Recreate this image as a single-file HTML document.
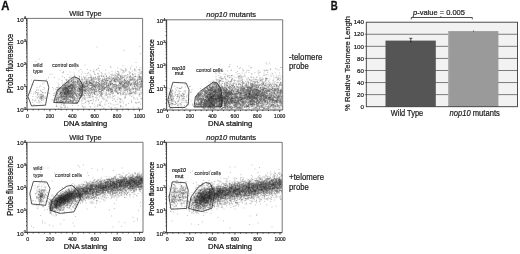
<!DOCTYPE html><html><head><meta charset="utf-8"><style>html,body{margin:0;padding:0;background:#fff;overflow:hidden}svg{display:block;will-change:transform}text{font-family:"Liberation Sans", sans-serif}</style></head><body>
<svg width="520" height="254" viewBox="0 0 520 254">
<defs><filter id="bl" x="-5%" y="-5%" width="110%" height="110%"><feConvolveMatrix order="3" kernelMatrix="0 1 0 1 16 1 0 1 0" divisor="20" edgeMode="none"/></filter></defs>
<rect width="520" height="254" fill="#fff"/>
<text x="1.2" y="9.6" font-size="12.2" textLength="8.2" lengthAdjust="spacingAndGlyphs" font-weight="bold" fill="#111" stroke="#111" stroke-width="0.3">A</text>
<text x="330.7" y="9.6" font-size="12.2" textLength="7.0" lengthAdjust="spacingAndGlyphs" font-weight="bold" fill="#111" stroke="#111" stroke-width="0.3">B</text>
<g filter="url(#bl)"><g transform="scale(.5)"><path d="M247 101h2m31 6h2m-149 22h2m5 0h2m-3 2h2m104 1h2m15 0h2m8 2h2m-40 2h2m14 1h2m31 0h2m-124 2h2m11 0h2m34 1h2m38 0h2m-1 0h2m-1 0h2m-9 1h2m-1 0h2m21 0h2m-114 1h2m91 0h2m-66 1h2m69 0h2m-95 1h2m21 0h2m47 0h2m44 0h2m-1 0h2m-159 1h2m48 0h2m99 0h2m-36 1h2m14 0h2m22 0h2m-111 1h2m88 0h2m14 0h2m-179 1h2m72 0h2m30 0h2m-1 0h2m17 0h2m5 0h2m-49 1h2m30 0h2m11 0h2m18 0h2m8 0h2m-1 0h2m-119 1h2m30 0h2m14 0h2m5 0h2m16 0h2m0 0h2m4 0h2m5 0h2m-1 0h2m4 0h2m19 0h2m-64 1h2m21 0h2m3 0h2m7 0h2m-1 1h2m1 0h2m0 0h2m-89 1h2m42 0h2m2 0h2m4 0h2m15 0h2m38 0h2m2 0h2m8 0h2m-137 1h2m8 0h2m22 0h2m6 0h2m2 0h2m22 0h2m20 0h2m1 0h2m9 0h2m4 0h2m16 0h2m0 0h2m-1 0h2m-187 1h2m10 0h2m29 0h2m8 0h2m25 0h2m0 0h2m6 0h2m1 0h2m-1 0h2m35 0h2m0 0h2m5 0h2m2 0h2m2 0h2m0 0h2m5 0h2m11 0h2m-120 1h2m1 0h2m15 0h2m13 0h2m23 0h2m5 0h2m2 0h2m14 0h2m5 0h2m9 0h2m6 0h2m5 0h2m5 0h2m1 0h2m-88 1h2m6 0h2m16 0h2m9 0h2m1 0h2m4 0h2m24 0h2m0 0h2m-151 1h2m23 0h2m0 0h2m0 0h2m6 0h2m1 0h2m14 0h2m2 0h2m5 0h2m0 0h2m7 0h2m-1 0h2m9 0h2m31 0h2m-1 0h2m38 0h2m0 0h2m-193 1h2m64 0h2m8 0h2m4 0h2m6 0h2m-1 0h2m27 0h2m9 0h2m3 0h2m2 0h2m4 0h2m19 0h2m2 0h2m-1 0h2m2 0h2m-1 0h2m3 0h2m-134 1h2m1 0h2m1 0h2m7 0h2m4 0h2m0 0h2m3 0h2m21 0h2m6 0h2m1 0h2m22 0h2m-1 0h2m0 0h2m10 0h2m3 0h2m-1 0h2m11 0h2m1 0h2m8 0h2m3 0h2m-140 1h2m10 0h2m16 0h2m5 0h2m23 0h2m-1 0h2m3 0h2m-1 0h2m1 0h2m6 0h2m3 0h2m-1 0h2m7 0h2m11 0h2m-113 1h2m10 0h2m20 0h2m3 0h2m25 0h2m3 0h2m9 0h2m5 0h2m-1 0h2m4 0h2m20 0h2m11 0h2m-1 0h2m1 0h2m-137 1h2m1 0h2m2 0h2m1 0h2m6 0h2m26 0h2m19 0h2m10 0h2m0 0h2m8 0h2m19 0h2m0 0h2m1 0h2m20 0h2m0 0h2m0 0h2m-148 1h2m11 0h2m3 0h2m23 0h2m4 0h2m1 0h2m-1 0h2m1 0h2m8 0h2m5 0h2m8 0h2m5 0h2m12 0h2m0 0h2m22 0h2m1 0h2m0 0h2m9 0h2m-151 1h2m10 0h2m5 0h2m3 0h2m13 0h2m4 0h2m0 0h2m27 0h2m26 0h2m0 0h2m7 0h2m-1 0h2m-1 0h2m0 0h2m10 0h2m-179 1h2m48 0h2m15 0h2m2 0h2m11 0h2m1 0h2m1 0h2m1 0h2m3 0h2m3 0h2m4 0h2m14 0h2m4 0h2m11 0h2m18 0h2m15 0h2m4 0h2m-133 1h2m0 0h2m7 0h2m4 0h2m7 0h2m1 0h2m6 0h2m0 0h2m23 0h2m4 0h2m1 0h2m-1 0h2m2 0h2m1 0h2m12 0h2m8 0h2m1 0h2m-1 0h2m-1 0h2m14 0h2m-143 1h2m3 0h2m19 0h2m14 0h2m17 0h2m5 0h2m0 0h2m31 0h2m7 0h2m1 0h2m11 0h2m5 0h2m9 0h2m7 0h2m-168 1h2m8 0h2m13 0h2m-1 0h2m12 0h2m0 0h2m4 0h2m-1 0h2m6 0h2m0 0h2m24 0h2m-1 0h2m-1 0h2m-1 0h2m3 0h2m3 0h2m-1 0h2m2 0h2m5 0h2m-1 0h2m0 0h2m8 0h2m0 0h2m1 0h2m1 0h2m12 0h2m-1 0h2m1 0h2m0 0h2m2 0h2m5 0h2m0 0h2m-1 0h2m-160 1h2m4 0h2m1 0h2m5 0h2m0 0h2m-1 0h2m-1 0h2m-1 0h2m16 0h2m19 0h2m0 0h2m-1 0h2m2 0h2m6 0h2m18 0h2m7 0h2m17 0h2m-1 0h2m2 0h2m14 0h2m1 0h2m2 0h2m-149 1h2m1 0h2m-1 0h2m-1 0h2m3 0h2m0 0h2m2 0h2m-1 0h2m2 0h2m7 0h2m4 0h2m1 0h2m5 0h2m4 0h2m0 0h2m-1 0h2m4 0h2m0 0h2m6 0h2m1 0h2m-1 0h2m7 0h2m2 0h2m6 0h2m8 0h2m12 0h2m10 0h2m12 0h2m6 0h2m-168 1h2m11 0h2m-1 0h2m5 0h2m0 0h2m-1 0h2m17 0h2m4 0h2m-1 0h2m0 0h2m-1 0h2m16 0h2m17 0h2m7 0h2m14 0h2m9 0h2m2 0h2m7 0h2m22 0h2m-1 0h2m-156 1h2m-1 0h2m2 0h2m2 0h2m-1 0h2m0 0h2m-1 0h2m-1 0h2m1 0h2m-1 0h2m-1 0h2m4 0h2m7 0h2m3 0h2m4 0h2m1 0h2m15 0h2m10 0h2m-1 0h2m11 0h2m9 0h2m24 0h2m2 0h2m13 0h2m4 0h2m-1 0h2m0 0h2m-156 1h2m-1 0h2m-1 0h2m-1 0h2m3 0h2m-1 0h2m-1 0h2m9 0h2m18 0h2m4 0h2m6 0h2m23 0h2m3 0h2m8 0h2m1 0h2m3 0h2m-1 0h2m0 0h2m13 0h2m-1 0h2m1 0h2m25 0h2m-195 1h2m15 0h2m8 0h2m2 0h2m3 0h2m4 0h2m2 0h2m0 0h2m2 0h2m0 0h2m3 0h2m0 0h2m2 0h2m1 0h2m-1 0h2m4 0h2m-1 0h2m7 0h2m15 0h2m-1 0h2m5 0h2m-1 0h2m3 0h2m1 0h2m0 0h2m0 0h2m15 0h2m16 0h2m2 0h2m1 0h2m-139 1h2m5 0h2m0 0h2m3 0h2m1 0h2m9 0h2m2 0h2m-1 0h2m6 0h2m8 0h2m3 0h2m21 0h2m-1 0h2m3 0h2m7 0h2m0 0h2m4 0h2m12 0h2m4 0h2m1 0h2m4 0h2m-1 0h2m6 0h2m6 0h2m2 0h2m6 0h2m2 0h2m-162 1h2m0 0h2m5 0h2m4 0h2m5 0h2m0 0h2m3 0h2m-1 0h2m3 0h2m2 0h2m-1 0h2m-1 0h2m2 0h2m11 0h2m7 0h2m14 0h2m-1 0h2m0 0h2m1 0h2m4 0h2m2 0h2m19 0h2m24 0h2m3 0h2m-184 1h2m20 0h2m15 0h2m3 0h2m0 0h2m1 0h2m0 0h2m6 0h2m-1 0h2m8 0h2m5 0h2m2 0h2m10 0h2m4 0h2m7 0h2m9 0h2m11 0h2m0 0h2m11 0h2m0 0h2m-1 0h2m2 0h2m4 0h2m0 0h2m21 0h2m-1 0h2m-203 1h2m10 0h2m27 0h2m1 0h2m5 0h2m-1 0h2m1 0h2m-1 0h2m-1 0h2m2 0h2m-1 0h2m-1 0h2m-1 0h2m4 0h2m5 0h2m3 0h2m1 0h2m3 0h2m-1 0h2m4 0h2m20 0h2m2 0h2m1 0h2m7 0h2m2 0h2m40 0h2m-1 0h2m7 0h2m8 0h2m7 0h2m-209 1h2m41 0h2m5 0h2m-1 0h2m-1 0h2m0 0h2m0 0h2m-1 0h2m7 0h2m3 0h2m5 0h2m0 0h2m9 0h2m6 0h2m-1 0h2m5 0h2m0 0h2m10 0h2m4 0h2m0 0h2m-1 0h2m8 0h2m-1 0h2m0 0h2m1 0h2m1 0h2m1 0h2m2 0h2m44 0h2m-200 1h2m33 0h2m8 0h2m-1 0h2m2 0h2m3 0h2m-1 0h2m-1 0h2m-1 0h2m-1 0h2m-1 0h2m1 0h2m16 0h2m6 0h2m-1 0h2m2 0h2m-1 0h2m7 0h2m1 0h2m2 0h2m10 0h2m10 0h2m23 0h2m41 0h2m-224 1h2m18 0h2m40 0h2m0 0h2m0 0h2m0 0h2m1 0h2m-1 0h2m4 0h2m0 0h2m-1 0h2m0 0h2m4 0h2m10 0h2m7 0h2m-1 0h2m3 0h2m1 0h2m0 0h2m5 0h2m21 0h2m11 0h2m2 0h2m2 0h2m-153 1h2m37 0h2m4 0h2m1 0h2m-1 0h2m0 0h2m-1 0h2m1 0h2m10 0h2m4 0h2m6 0h2m0 0h2m3 0h2m-1 0h2m3 0h2m9 0h2m-1 0h2m1 0h2m3 0h2m1 0h2m15 0h2m6 0h2m6 0h2m26 0h2m-192 1h2m47 0h2m-1 0h2m3 0h2m1 0h2m1 0h2m0 0h2m-1 0h2m2 0h2m-1 0h2m27 0h2m29 0h2m19 0h2m-1 0h2m-1 0h2m23 0h2m18 0h2m1 0h2m-151 1h2m0 0h2m3 0h2m-1 0h2m2 0h2m2 0h2m4 0h2m15 0h2m2 0h2m21 0h2m15 0h2m14 0h2m11 0h2m3 0h2m8 0h2m-189 1h2m11 0h2m-1 0h2m-1 0h2m18 0h2m16 0h2m3 0h2m1 0h2m3 0h2m0 0h2m0 0h2m-1 0h2m0 0h2m6 0h2m-1 0h2m1 0h2m11 0h2m1 0h2m25 0h2m1 0h2m56 0h2m12 0h2m9 0h2m-157 1h2m3 0h2m4 0h2m-1 0h2m2 0h2m-1 0h2m-1 0h2m0 0h2m6 0h2m-1 0h2m3 0h2m3 0h2m6 0h2m0 0h2m9 0h2m30 0h2m21 0h2m9 0h2m10 0h2m-1 0h2m0 0h2m-139 1h2m2 0h2m-1 0h2m-1 0h2m7 0h2m8 0h2m-1 0h2m1 0h2m0 0h2m6 0h2m11 0h2m17 0h2m8 0h2m10 0h2m5 0h2m17 0h2m0 0h2m23 0h2m7 0h2m-202 1h2m0 0h2m38 0h2m0 0h2m3 0h2m-1 0h2m0 0h2m-1 0h2m1 0h2m-1 0h2m5 0h2m17 0h2m24 0h2m11 0h2m-1 0h2m16 0h2m18 0h2m5 0h2m2 0h2m-134 1h2m1 0h2m11 0h2m0 0h2m-1 0h2m3 0h2m8 0h2m8 0h2m36 0h2m-1 0h2m7 0h2m65 0h2m-195 1h2m20 0h2m4 0h2m7 0h2m3 0h2m6 0h2m2 0h2m-1 0h2m2 0h2m-1 0h2m12 0h2m3 0h2m12 0h2m0 0h2m19 0h2m26 0h2m-118 1h2m6 0h2m0 0h2m6 0h2m-1 0h2m-1 0h2m-1 0h2m2 0h2m0 0h2m15 0h2m2 0h2m5 0h2m28 0h2m1 0h2m24 0h2m36 0h2m-185 1h2m-1 0h2m38 0h2m1 0h2m-1 0h2m2 0h2m0 0h2m6 0h2m0 0h2m2 0h2m-1 0h2m6 0h2m5 0h2m19 0h2m0 0h2m27 0h2m-128 1h2m2 0h2m19 0h2m3 0h2m2 0h2m-1 0h2m1 0h2m3 0h2m-1 0h2m2 0h2m-1 0h2m-1 0h2m5 0h2m9 0h2m24 0h2m33 0h2m-146 1h2m5 0h2m3 0h2m24 0h2m0 0h2m1 0h2m3 0h2m15 0h2m2 0h2m3 0h2m4 0h2m10 0h2m3 0h2m41 0h2m34 0h2m-167 1h2m21 0h2m25 0h2m3 0h2m2 0h2m-1 0h2m12 0h2m14 0h2m90 0h2m4 0h2m8 0h2m-207 1h2m31 0h2m1 0h2m0 0h2m9 0h2m-1 0h2m0 0h2m-1 0h2m-1 0h2m13 0h2m16 0h2m1 0h2m23 0h2m14 0h2m27 0h2m41 0h2m-170 1h2m12 0h2m7 0h2m7 0h2m1 0h2m0 0h2m0 0h2m15 0h2m-1 0h2m97 0h2m-160 1h2m13 0h2m4 0h2m0 0h2m50 0h2m8 0h2m42 0h2m32 0h2m-190 1h2m23 0h2m-1 0h2m10 0h2m5 0h2m15 0h2m91 0h2m19 0h2m-182 1h2m26 0h2m9 0h2m-1 0h2m17 0h2m0 0h2m1 0h2m33 0h2m-115 1h2m51 0h2m8 0h2m-1 0h2m5 0h2m0 0h2m0 0h2m-1 0h2m9 0h2m19 0h2m8 0h2m2 0h2m38 0h2m-120 1h2m-1 0h2m0 0h2m0 0h2m-1 0h2m4 0h2m1 0h2m1 0h2m0 0h2m0 0h2m-1 0h2m2 0h2m0 0h2m9 0h2m48 0h2m27 0h2m-155 1h2m1 0h2m39 0h2m0 0h2m3 0h2m9 0h2m8 0h2m88 0h2m35 0h2m-167 1h2m0 0h2m4 0h2m0 0h2m19 0h2m0 0h2m5 0h2m0 0h2m106 0h2m6 0h2m5 0h2m-162 1h2m25 0h2m32 0h2m66 0h2m-32 1h2m-30 1h2m90 0h2m-156 2h2m72 0h2m7 0h2m18 0h2m-159 1h2m70 0h2m55 0h2m-90 2h2m130 1h2m19 0h2m-147 1h2m11 0h2m33 1h2m36 0h2m13 0h2m9 0h2m-119 1h2" stroke="#111" stroke-opacity="0.25" stroke-width="2" fill="none"/><path d="M193 94h2m-118 24h2m192 7h2m-169 4h2m93 2h2m78 4h2m-86 1h2m-1 1h2m70 1h2m-1 0h2m-79 1h2m82 0h2m-91 1h2m79 0h2m8 0h2m-1 0h2m-83 2h2m-74 1h2m95 0h2m56 0h2m-144 1h2m104 0h2m1 0h2m-126 1h2m133 0h2m-44 1h2m18 0h2m-43 1h2m34 0h2m35 0h2m-109 1h2m60 0h2m9 0h2m21 0h2m23 0h2m-150 1h2m139 0h2m-97 1h2m87 0h2m6 0h2m-107 1h2m74 0h2m-94 1h2m42 0h2m9 0h2m18 0h2m7 0h2m6 0h2m27 0h2m-99 1h2m15 0h2m6 0h2m49 0h2m1 0h2m5 0h2m0 0h2m-1 0h2m-110 1h2m33 0h2m12 0h2m9 0h2m17 0h2m15 0h2m16 0h2m1 0h2m-153 1h2m8 0h2m10 0h2m28 0h2m0 0h2m74 0h2m-114 1h2m2 0h2m6 0h2m8 0h2m27 0h2m19 0h2m2 0h2m6 0h2m-1 0h2m14 0h2m2 0h2m29 0h2m-130 1h2m70 0h2m15 0h2m14 0h2m16 0h2m-135 1h2m3 0h2m7 0h2m25 0h2m1 0h2m-1 0h2m6 0h2m5 0h2m11 0h2m2 0h2m25 0h2m2 0h2m6 0h2m-111 1h2m9 0h2m7 0h2m8 0h2m23 0h2m16 0h2m4 0h2m3 0h2m40 0h2m-1 0h2m-1 0h2m2 0h2m-223 1h2m68 0h2m-1 0h2m73 0h2m35 0h2m2 0h2m12 0h2m17 0h2m-161 1h2m20 0h2m28 0h2m5 0h2m-1 0h2m0 0h2m9 0h2m4 0h2m9 0h2m-1 0h2m11 0h2m6 0h2m4 0h2m4 0h2m5 0h2m4 0h2m1 0h2m1 0h2m4 0h2m0 0h2m7 0h2m-148 1h2m1 0h2m0 0h2m12 0h2m-1 0h2m5 0h2m6 0h2m4 0h2m-1 0h2m1 0h2m2 0h2m25 0h2m0 0h2m5 0h2m5 0h2m2 0h2m6 0h2m4 0h2m1 0h2m1 0h2m19 0h2m6 0h2m-148 1h2m8 0h2m1 0h2m3 0h2m-1 0h2m4 0h2m5 0h2m1 0h2m0 0h2m0 0h2m15 0h2m4 0h2m28 0h2m1 0h2m15 0h2m7 0h2m12 0h2m5 0h2m3 0h2m-149 1h2m3 0h2m2 0h2m-1 0h2m1 0h2m-1 0h2m-1 0h2m5 0h2m2 0h2m8 0h2m2 0h2m18 0h2m11 0h2m1 0h2m8 0h2m13 0h2m-1 0h2m3 0h2m-1 0h2m-1 0h2m9 0h2m1 0h2m16 0h2m-143 1h2m0 0h2m4 0h2m10 0h2m4 0h2m1 0h2m0 0h2m5 0h2m7 0h2m1 0h2m3 0h2m1 0h2m11 0h2m3 0h2m0 0h2m3 0h2m-1 0h2m19 0h2m0 0h2m1 0h2m2 0h2m4 0h2m-1 0h2m7 0h2m0 0h2m4 0h2m1 0h2m-155 1h2m15 0h2m4 0h2m14 0h2m0 0h2m4 0h2m4 0h2m-1 0h2m-1 0h2m0 0h2m-1 0h2m8 0h2m3 0h2m12 0h2m29 0h2m6 0h2m5 0h2m18 0h2m-148 1h2m0 0h2m4 0h2m5 0h2m13 0h2m0 0h2m1 0h2m3 0h2m1 0h2m2 0h2m3 0h2m0 0h2m5 0h2m3 0h2m3 0h2m5 0h2m1 0h2m5 0h2m1 0h2m0 0h2m14 0h2m5 0h2m-1 0h2m1 0h2m8 0h2m-1 0h2m6 0h2m0 0h2m-142 1h2m2 0h2m1 0h2m1 0h2m6 0h2m1 0h2m4 0h2m10 0h2m-1 0h2m10 0h2m0 0h2m2 0h2m5 0h2m-1 0h2m8 0h2m2 0h2m7 0h2m1 0h2m14 0h2m13 0h2m22 0h2m-218 1h2m60 0h2m4 0h2m2 0h2m9 0h2m3 0h2m12 0h2m0 0h2m7 0h2m0 0h2m3 0h2m12 0h2m0 0h2m5 0h2m0 0h2m0 0h2m0 0h2m2 0h2m3 0h2m0 0h2m2 0h2m10 0h2m4 0h2m-1 0h2m5 0h2m3 0h2m0 0h2m9 0h2m9 0h2m-143 1h2m7 0h2m5 0h2m-1 0h2m6 0h2m-1 0h2m7 0h2m5 0h2m4 0h2m0 0h2m-1 0h2m8 0h2m23 0h2m2 0h2m-1 0h2m6 0h2m4 0h2m7 0h2m3 0h2m-1 0h2m11 0h2m1 0h2m2 0h2m-155 1h2m-1 0h2m-1 0h2m3 0h2m-1 0h2m4 0h2m0 0h2m2 0h2m0 0h2m0 0h2m4 0h2m3 0h2m1 0h2m1 0h2m3 0h2m0 0h2m1 0h2m5 0h2m19 0h2m6 0h2m-1 0h2m14 0h2m3 0h2m4 0h2m-1 0h2m3 0h2m5 0h2m14 0h2m-194 1h2m51 0h2m1 0h2m-1 0h2m0 0h2m6 0h2m6 0h2m-1 0h2m2 0h2m1 0h2m13 0h2m8 0h2m2 0h2m1 0h2m15 0h2m5 0h2m17 0h2m6 0h2m2 0h2m-1 0h2m10 0h2m-1 0h2m2 0h2m12 0h2m-151 1h2m-1 0h2m0 0h2m0 0h2m0 0h2m3 0h2m7 0h2m3 0h2m2 0h2m0 0h2m2 0h2m2 0h2m-1 0h2m10 0h2m0 0h2m-1 0h2m5 0h2m0 0h2m6 0h2m4 0h2m17 0h2m11 0h2m0 0h2m0 0h2m2 0h2m-1 0h2m13 0h2m-1 0h2m4 0h2m4 0h2m-205 1h2m57 0h2m6 0h2m5 0h2m5 0h2m-1 0h2m1 0h2m0 0h2m-1 0h2m-1 0h2m0 0h2m12 0h2m-1 0h2m0 0h2m-1 0h2m1 0h2m7 0h2m2 0h2m4 0h2m7 0h2m11 0h2m10 0h2m26 0h2m2 0h2m5 0h2m-211 1h2m51 0h2m1 0h2m-1 0h2m11 0h2m2 0h2m12 0h2m0 0h2m1 0h2m0 0h2m6 0h2m6 0h2m18 0h2m3 0h2m0 0h2m2 0h2m-1 0h2m18 0h2m2 0h2m-1 0h2m4 0h2m1 0h2m6 0h2m10 0h2m6 0h2m3 0h2m-164 1h2m2 0h2m-1 0h2m-1 0h2m-1 0h2m0 0h2m-1 0h2m-1 0h2m-1 0h2m0 0h2m2 0h2m0 0h2m0 0h2m-1 0h2m6 0h2m4 0h2m10 0h2m19 0h2m29 0h2m0 0h2m6 0h2m2 0h2m2 0h2m33 0h2m2 0h2m-160 1h2m2 0h2m3 0h2m0 0h2m1 0h2m0 0h2m-1 0h2m-1 0h2m0 0h2m0 0h2m2 0h2m5 0h2m1 0h2m-1 0h2m-1 0h2m0 0h2m-1 0h2m10 0h2m4 0h2m8 0h2m7 0h2m6 0h2m10 0h2m-1 0h2m9 0h2m5 0h2m0 0h2m13 0h2m9 0h2m-1 0h2m1 0h2m0 0h2m-158 1h2m0 0h2m1 0h2m1 0h2m-1 0h2m3 0h2m0 0h2m1 0h2m5 0h2m-1 0h2m-1 0h2m35 0h2m-1 0h2m2 0h2m3 0h2m5 0h2m5 0h2m1 0h2m1 0h2m0 0h2m6 0h2m40 0h2m13 0h2m-162 1h2m1 0h2m5 0h2m5 0h2m0 0h2m3 0h2m0 0h2m3 0h2m-1 0h2m5 0h2m-1 0h2m0 0h2m-1 0h2m4 0h2m2 0h2m0 0h2m8 0h2m3 0h2m1 0h2m5 0h2m2 0h2m0 0h2m9 0h2m-1 0h2m2 0h2m2 0h2m4 0h2m5 0h2m12 0h2m0 0h2m5 0h2m-148 1h2m13 0h2m3 0h2m-1 0h2m-1 0h2m21 0h2m-1 0h2m18 0h2m9 0h2m6 0h2m2 0h2m16 0h2m15 0h2m11 0h2m5 0h2m1 0h2m7 0h2m-157 1h2m5 0h2m2 0h2m2 0h2m1 0h2m-1 0h2m1 0h2m4 0h2m6 0h2m-1 0h2m0 0h2m4 0h2m6 0h2m-1 0h2m-1 0h2m5 0h2m9 0h2m14 0h2m13 0h2m0 0h2m7 0h2m15 0h2m2 0h2m0 0h2m2 0h2m14 0h2m4 0h2m-166 1h2m5 0h2m8 0h2m2 0h2m-1 0h2m1 0h2m1 0h2m2 0h2m9 0h2m-1 0h2m0 0h2m6 0h2m53 0h2m14 0h2m8 0h2m11 0h2m-137 1h2m-1 0h2m-1 0h2m0 0h2m-1 0h2m0 0h2m-1 0h2m-1 0h2m1 0h2m14 0h2m0 0h2m1 0h2m0 0h2m33 0h2m2 0h2m13 0h2m4 0h2m8 0h2m24 0h2m-192 1h2m39 0h2m10 0h2m2 0h2m7 0h2m-1 0h2m-1 0h2m0 0h2m-1 0h2m7 0h2m0 0h2m7 0h2m2 0h2m2 0h2m2 0h2m0 0h2m2 0h2m2 0h2m17 0h2m4 0h2m21 0h2m13 0h2m7 0h2m10 0h2m2 0h2m8 0h2m-198 1h2m-1 0h2m2 0h2m29 0h2m-1 0h2m-1 0h2m4 0h2m-1 0h2m3 0h2m-1 0h2m-1 0h2m0 0h2m1 0h2m-1 0h2m0 0h2m2 0h2m1 0h2m8 0h2m2 0h2m20 0h2m-1 0h2m9 0h2m34 0h2m26 0h2m-140 1h2m1 0h2m-1 0h2m-1 0h2m4 0h2m6 0h2m5 0h2m3 0h2m0 0h2m-1 0h2m3 0h2m12 0h2m0 0h2m-1 0h2m-1 0h2m4 0h2m12 0h2m17 0h2m1 0h2m56 0h2m-187 1h2m9 0h2m4 0h2m4 0h2m-1 0h2m2 0h2m1 0h2m2 0h2m0 0h2m0 0h2m1 0h2m1 0h2m-1 0h2m0 0h2m4 0h2m7 0h2m0 0h2m13 0h2m7 0h2m10 0h2m-1 0h2m2 0h2m12 0h2m4 0h2m1 0h2m7 0h2m3 0h2m20 0h2m-198 1h2m45 0h2m3 0h2m4 0h2m4 0h2m1 0h2m1 0h2m-1 0h2m0 0h2m6 0h2m0 0h2m-1 0h2m10 0h2m7 0h2m15 0h2m61 0h2m0 0h2m2 0h2m1 0h2m-188 1h2m36 0h2m6 0h2m0 0h2m2 0h2m4 0h2m-1 0h2m1 0h2m3 0h2m0 0h2m1 0h2m9 0h2m-1 0h2m6 0h2m22 0h2m3 0h2m14 0h2m5 0h2m37 0h2m20 0h2m-207 1h2m1 0h2m36 0h2m0 0h2m2 0h2m4 0h2m-1 0h2m-1 0h2m6 0h2m4 0h2m1 0h2m4 0h2m2 0h2m1 0h2m2 0h2m1 0h2m8 0h2m22 0h2m49 0h2m24 0h2m-173 1h2m3 0h2m12 0h2m4 0h2m-1 0h2m10 0h2m6 0h2m5 0h2m6 0h2m90 0h2m-180 1h2m3 0h2m28 0h2m4 0h2m0 0h2m-1 0h2m3 0h2m-1 0h2m3 0h2m4 0h2m8 0h2m0 0h2m36 0h2m-129 1h2m4 0h2m3 0h2m4 0h2m0 0h2m-1 0h2m24 0h2m4 0h2m0 0h2m2 0h2m-1 0h2m2 0h2m-1 0h2m-1 0h2m6 0h2m3 0h2m0 0h2m-1 0h2m5 0h2m5 0h2m41 0h2m57 0h2m15 0h2m-192 1h2m29 0h2m11 0h2m5 0h2m2 0h2m16 0h2m4 0h2m28 0h2m2 0h2m45 0h2m-170 1h2m28 0h2m2 0h2m0 0h2m2 0h2m-1 0h2m6 0h2m4 0h2m6 0h2m-1 0h2m0 0h2m2 0h2m4 0h2m0 0h2m0 0h2m15 0h2m-1 0h2m12 0h2m-114 1h2m-1 0h2m34 0h2m0 0h2m2 0h2m0 0h2m2 0h2m0 0h2m8 0h2m1 0h2m12 0h2m45 0h2m7 0h2m4 0h2m1 0h2m40 0h2m-185 1h2m43 0h2m14 0h2m3 0h2m2 0h2m1 0h2m70 0h2m-147 1h2m27 0h2m1 0h2m5 0h2m1 0h2m0 0h2m1 0h2m1 0h2m-1 0h2m0 0h2m9 0h2m56 0h2m-100 1h2m3 0h2m2 0h2m6 0h2m12 0h2m0 0h2m5 0h2m5 0h2m11 0h2m38 0h2m30 0h2m-159 1h2m29 0h2m14 0h2m8 0h2m-1 0h2m5 0h2m0 0h2m32 0h2m-39 1h2m4 0h2m0 0h2m7 0h2m59 0h2m-150 1h2m34 0h2m-1 0h2m4 0h2m-1 0h2m-1 0h2m1 0h2m5 0h2m8 0h2m9 0h2m20 0h2m-63 1h2m22 0h2m37 0h2m-1 0h2m83 0h2m-145 1h2m-1 0h2m-1 0h2m2 0h2m8 0h2m101 0h2m-167 1h2m39 0h2m2 0h2m0 0h2m0 0h2m12 0h2m7 0h2m3 0h2m-1 0h2m0 0h2m86 0h2m32 0h2m-200 1h2m47 0h2m56 0h2m85 0h2m-145 1h2m-1 0h2m52 0h2m71 0h2m-96 1h2m12 0h2m31 0h2m24 0h2m-170 1h2m53 0h2m74 0h2m51 0h2m-55 1h2m25 0h2m-115 1h2m13 0h2m70 0h2m39 0h2m9 0h2m-89 1h2m74 0h2m-130 1h2m55 0h2m8 0h2m61 0h2m-64 1h2m58 0h2m-121 1h2m106 0h2m45 1h2" stroke="#111" stroke-opacity="0.25" stroke-width="2" fill="none"/><path d="M278 93h2m-209 30h2m96 7h2m49 3h2m-1 2h2m-73 1h2m108 0h2m-21 2h2m17 0h2m-69 2h2m46 0h2m0 0h2m33 0h2m-161 1h2m59 0h2m82 1h2m5 0h2m-39 1h2m-1 0h2m-7 1h2m14 0h2m-46 1h2m-57 1h2m39 0h2m69 0h2m18 0h2m-112 1h2m23 0h2m7 0h2m32 1h2m44 0h2m-186 1h2m88 0h2m46 1h2m16 0h2m9 0h2m-41 1h2m22 0h2m7 0h2m-121 1h2m5 0h2m48 0h2m7 0h2m3 0h2m19 0h2m-1 0h2m-1 0h2m11 0h2m3 0h2m5 0h2m14 0h2m-154 1h2m40 0h2m27 0h2m8 0h2m12 0h2m12 0h2m5 0h2m-1 0h2m27 0h2m6 0h2m-1 0h2m-111 1h2m23 0h2m50 0h2m10 0h2m-94 1h2m11 0h2m34 0h2m15 0h2m9 0h2m16 0h2m0 0h2m12 0h2m-1 0h2m-109 1h2m12 0h2m26 0h2m8 0h2m0 0h2m5 0h2m0 0h2m0 0h2m25 0h2m9 0h2m4 0h2m-1 0h2m-139 1h2m16 0h2m4 0h2m11 0h2m11 0h2m14 0h2m-1 0h2m-1 0h2m9 0h2m17 0h2m35 0h2m-130 1h2m22 0h2m3 0h2m3 0h2m2 0h2m5 0h2m-1 0h2m4 0h2m2 0h2m-1 0h2m5 0h2m3 0h2m3 0h2m-1 0h2m-1 0h2m3 0h2m2 0h2m0 0h2m15 0h2m7 0h2m3 0h2m-141 1h2m13 0h2m10 0h2m4 0h2m25 0h2m38 0h2m1 0h2m4 0h2m6 0h2m9 0h2m-1 0h2m0 0h2m3 0h2m6 0h2m2 0h2m-146 1h2m18 0h2m39 0h2m0 0h2m8 0h2m0 0h2m-1 0h2m0 0h2m4 0h2m18 0h2m27 0h2m-127 1h2m10 0h2m24 0h2m31 0h2m1 0h2m4 0h2m29 0h2m2 0h2m0 0h2m21 0h2m-153 1h2m8 0h2m-1 0h2m1 0h2m6 0h2m4 0h2m13 0h2m10 0h2m10 0h2m1 0h2m18 0h2m1 0h2m6 0h2m-1 0h2m1 0h2m10 0h2m17 0h2m-116 1h2m4 0h2m5 0h2m2 0h2m-1 0h2m11 0h2m1 0h2m8 0h2m5 0h2m12 0h2m16 0h2m2 0h2m0 0h2m0 0h2m5 0h2m4 0h2m22 0h2m-1 0h2m-149 1h2m-1 0h2m10 0h2m10 0h2m15 0h2m1 0h2m20 0h2m-1 0h2m-1 0h2m4 0h2m7 0h2m7 0h2m0 0h2m19 0h2m0 0h2m-1 0h2m1 0h2m10 0h2m10 0h2m-155 1h2m3 0h2m8 0h2m0 0h2m6 0h2m6 0h2m4 0h2m11 0h2m9 0h2m1 0h2m4 0h2m5 0h2m60 0h2m11 0h2m-170 1h2m18 0h2m-1 0h2m0 0h2m3 0h2m3 0h2m3 0h2m1 0h2m4 0h2m8 0h2m5 0h2m14 0h2m41 0h2m-1 0h2m13 0h2m2 0h2m2 0h2m10 0h2m4 0h2m-1 0h2m-134 1h2m7 0h2m3 0h2m2 0h2m2 0h2m2 0h2m4 0h2m15 0h2m2 0h2m-1 0h2m0 0h2m-1 0h2m13 0h2m1 0h2m12 0h2m-1 0h2m-1 0h2m0 0h2m-1 0h2m3 0h2m5 0h2m0 0h2m7 0h2m0 0h2m4 0h2m4 0h2m0 0h2m-200 1h2m44 0h2m3 0h2m10 0h2m-1 0h2m6 0h2m1 0h2m20 0h2m-1 0h2m-1 0h2m4 0h2m9 0h2m17 0h2m34 0h2m2 0h2m-1 0h2m6 0h2m1 0h2m3 0h2m-144 1h2m3 0h2m-1 0h2m0 0h2m-1 0h2m0 0h2m0 0h2m2 0h2m2 0h2m4 0h2m1 0h2m-1 0h2m18 0h2m7 0h2m23 0h2m5 0h2m2 0h2m4 0h2m11 0h2m3 0h2m11 0h2m1 0h2m5 0h2m-139 1h2m-1 0h2m1 0h2m0 0h2m8 0h2m11 0h2m2 0h2m11 0h2m1 0h2m0 0h2m0 0h2m-1 0h2m-1 0h2m11 0h2m10 0h2m-1 0h2m6 0h2m5 0h2m-1 0h2m5 0h2m10 0h2m2 0h2m-135 1h2m8 0h2m1 0h2m4 0h2m13 0h2m-1 0h2m9 0h2m5 0h2m0 0h2m0 0h2m-1 0h2m9 0h2m0 0h2m1 0h2m10 0h2m1 0h2m1 0h2m6 0h2m3 0h2m0 0h2m3 0h2m12 0h2m1 0h2m14 0h2m-149 1h2m7 0h2m6 0h2m-1 0h2m3 0h2m-1 0h2m8 0h2m-1 0h2m1 0h2m4 0h2m2 0h2m14 0h2m5 0h2m2 0h2m2 0h2m0 0h2m6 0h2m8 0h2m0 0h2m17 0h2m0 0h2m-1 0h2m1 0h2m15 0h2m-132 1h2m5 0h2m0 0h2m0 0h2m2 0h2m4 0h2m6 0h2m1 0h2m0 0h2m11 0h2m0 0h2m-1 0h2m3 0h2m0 0h2m0 0h2m2 0h2m-1 0h2m1 0h2m5 0h2m15 0h2m5 0h2m2 0h2m1 0h2m0 0h2m7 0h2m11 0h2m6 0h2m-148 1h2m1 0h2m2 0h2m1 0h2m2 0h2m12 0h2m3 0h2m0 0h2m1 0h2m13 0h2m5 0h2m4 0h2m15 0h2m0 0h2m-1 0h2m0 0h2m6 0h2m2 0h2m3 0h2m20 0h2m25 0h2m-173 1h2m10 0h2m5 0h2m-1 0h2m0 0h2m-1 0h2m2 0h2m-1 0h2m1 0h2m0 0h2m-1 0h2m1 0h2m-1 0h2m5 0h2m1 0h2m-1 0h2m4 0h2m-1 0h2m6 0h2m3 0h2m0 0h2m4 0h2m2 0h2m9 0h2m4 0h2m25 0h2m-1 0h2m1 0h2m8 0h2m11 0h2m-150 1h2m1 0h2m0 0h2m3 0h2m0 0h2m-1 0h2m-1 0h2m0 0h2m0 0h2m0 0h2m5 0h2m1 0h2m11 0h2m8 0h2m3 0h2m0 0h2m0 0h2m3 0h2m13 0h2m1 0h2m0 0h2m0 0h2m12 0h2m1 0h2m0 0h2m1 0h2m8 0h2m-1 0h2m8 0h2m-1 0h2m4 0h2m22 0h2m-155 1h2m2 0h2m0 0h2m-1 0h2m-1 0h2m8 0h2m3 0h2m5 0h2m0 0h2m-1 0h2m10 0h2m6 0h2m0 0h2m12 0h2m11 0h2m8 0h2m8 0h2m1 0h2m0 0h2m7 0h2m8 0h2m4 0h2m3 0h2m13 0h2m-174 1h2m16 0h2m-1 0h2m0 0h2m-1 0h2m-1 0h2m-1 0h2m2 0h2m3 0h2m0 0h2m2 0h2m3 0h2m9 0h2m3 0h2m-1 0h2m4 0h2m3 0h2m0 0h2m2 0h2m3 0h2m7 0h2m6 0h2m7 0h2m-1 0h2m20 0h2m5 0h2m3 0h2m5 0h2m0 0h2m6 0h2m1 0h2m-1 0h2m-160 1h2m9 0h2m0 0h2m2 0h2m0 0h2m-1 0h2m8 0h2m-1 0h2m3 0h2m2 0h2m3 0h2m-1 0h2m-1 0h2m-1 0h2m-1 0h2m-1 0h2m3 0h2m1 0h2m-1 0h2m3 0h2m3 0h2m1 0h2m0 0h2m-1 0h2m9 0h2m20 0h2m-1 0h2m0 0h2m4 0h2m-1 0h2m5 0h2m1 0h2m23 0h2m-150 1h2m6 0h2m19 0h2m13 0h2m-1 0h2m14 0h2m6 0h2m26 0h2m0 0h2m30 0h2m3 0h2m3 0h2m11 0h2m1 0h2m-1 0h2m-206 1h2m46 0h2m2 0h2m0 0h2m2 0h2m-1 0h2m-1 0h2m2 0h2m2 0h2m-1 0h2m4 0h2m0 0h2m4 0h2m1 0h2m-1 0h2m0 0h2m2 0h2m-1 0h2m-1 0h2m-1 0h2m14 0h2m9 0h2m-1 0h2m4 0h2m0 0h2m6 0h2m-1 0h2m0 0h2m18 0h2m0 0h2m8 0h2m9 0h2m-147 1h2m1 0h2m1 0h2m3 0h2m3 0h2m2 0h2m-1 0h2m-1 0h2m-1 0h2m2 0h2m2 0h2m-1 0h2m-1 0h2m-1 0h2m7 0h2m3 0h2m1 0h2m0 0h2m25 0h2m11 0h2m15 0h2m-1 0h2m2 0h2m-1 0h2m0 0h2m9 0h2m17 0h2m7 0h2m-157 1h2m-1 0h2m-1 0h2m4 0h2m1 0h2m7 0h2m1 0h2m2 0h2m-1 0h2m1 0h2m5 0h2m2 0h2m-1 0h2m1 0h2m14 0h2m11 0h2m-1 0h2m-1 0h2m-1 0h2m4 0h2m0 0h2m19 0h2m30 0h2m15 0h2m-144 1h2m2 0h2m-1 0h2m3 0h2m0 0h2m3 0h2m-1 0h2m5 0h2m3 0h2m8 0h2m12 0h2m38 0h2m7 0h2m11 0h2m19 0h2m-196 1h2m40 0h2m3 0h2m-1 0h2m-1 0h2m-1 0h2m0 0h2m1 0h2m1 0h2m-1 0h2m1 0h2m0 0h2m9 0h2m0 0h2m12 0h2m12 0h2m3 0h2m0 0h2m2 0h2m5 0h2m4 0h2m8 0h2m13 0h2m12 0h2m17 0h2m7 0h2m-185 1h2m3 0h2m23 0h2m7 0h2m0 0h2m-1 0h2m4 0h2m-1 0h2m2 0h2m0 0h2m-1 0h2m1 0h2m-1 0h2m13 0h2m7 0h2m2 0h2m10 0h2m15 0h2m8 0h2m20 0h2m-1 0h2m3 0h2m3 0h2m8 0h2m2 0h2m0 0h2m-1 0h2m8 0h2m8 0h2m-214 1h2m35 0h2m4 0h2m4 0h2m0 0h2m4 0h2m-1 0h2m-1 0h2m-1 0h2m-1 0h2m-1 0h2m-1 0h2m2 0h2m0 0h2m0 0h2m-1 0h2m0 0h2m1 0h2m9 0h2m10 0h2m2 0h2m-1 0h2m11 0h2m13 0h2m4 0h2m25 0h2m22 0h2m6 0h2m0 0h2m-191 1h2m31 0h2m3 0h2m2 0h2m3 0h2m0 0h2m-1 0h2m1 0h2m-1 0h2m1 0h2m13 0h2m4 0h2m2 0h2m0 0h2m67 0h2m29 0h2m11 0h2m-197 1h2m27 0h2m4 0h2m8 0h2m1 0h2m1 0h2m4 0h2m1 0h2m1 0h2m3 0h2m3 0h2m0 0h2m20 0h2m2 0h2m5 0h2m11 0h2m9 0h2m28 0h2m-165 1h2m1 0h2m35 0h2m2 0h2m7 0h2m2 0h2m5 0h2m1 0h2m8 0h2m11 0h2m3 0h2m4 0h2m28 0h2m26 0h2m-158 1h2m33 0h2m4 0h2m3 0h2m1 0h2m4 0h2m1 0h2m-1 0h2m4 0h2m0 0h2m3 0h2m-1 0h2m0 0h2m0 0h2m0 0h2m2 0h2m3 0h2m2 0h2m15 0h2m15 0h2m-133 1h2m33 0h2m5 0h2m8 0h2m27 0h2m0 0h2m44 0h2m9 0h2m2 0h2m24 0h2m-173 1h2m39 0h2m4 0h2m0 0h2m6 0h2m-1 0h2m1 0h2m-1 0h2m10 0h2m7 0h2m15 0h2m45 0h2m-108 1h2m3 0h2m1 0h2m0 0h2m1 0h2m2 0h2m0 0h2m1 0h2m31 0h2m2 0h2m68 0h2m-172 1h2m2 0h2m33 0h2m5 0h2m2 0h2m1 0h2m0 0h2m4 0h2m0 0h2m5 0h2m39 0h2m43 0h2m-162 1h2m39 0h2m11 0h2m27 0h2m25 0h2m17 0h2m-125 1h2m-1 0h2m5 0h2m-1 0h2m29 0h2m0 0h2m3 0h2m4 0h2m18 0h2m2 0h2m81 0h2m5 0h2m-179 1h2m7 0h2m28 0h2m0 0h2m-1 0h2m1 0h2m4 0h2m2 0h2m-1 0h2m7 0h2m9 0h2m15 0h2m116 0h2m-199 1h2m16 0h2m12 0h2m1 0h2m5 0h2m-1 0h2m-1 0h2m3 0h2m12 0h2m77 0h2m5 0h2m-172 1h2m-1 0h2m49 0h2m14 0h2m-1 0h2m5 0h2m2 0h2m46 0h2m18 0h2m-144 1h2m5 0h2m26 0h2m10 0h2m13 0h2m3 0h2m1 0h2m7 0h2m-1 0h2m28 0h2m14 0h2m13 0h2m-105 1h2m5 0h2m-1 0h2m3 0h2m2 0h2m-1 0h2m1 0h2m5 0h2m24 0h2m7 0h2m41 0h2m29 0h2m-122 1h2m3 0h2m5 0h2m2 0h2m1 0h2m-1 0h2m-1 0h2m9 0h2m-51 1h2m13 0h2m-1 0h2m4 0h2m-1 0h2m6 0h2m4 0h2m64 0h2m-149 1h2m47 0h2m6 0h2m12 0h2m33 0h2m27 0h2m-76 1h2m-1 0h2m19 0h2m20 0h2m29 0h2m17 0h2m51 0h2m-109 1h2m-55 1h2m107 0h2m10 1h2m-107 1h2m64 0h2m-1 0h2m-41 1h2m-39 1h2m9 0h2m32 1h2m23 0h2m3 0h2m8 0h2m11 0h2m-96 1h2m5 0h2m-4 1h2m36 0h2m53 0h2m52 1h2m0 0h2m-73 1h2m45 0h2" stroke="#111" stroke-opacity="0.25" stroke-width="2" fill="none"/></g></g>
<g filter="url(#bl)"><g transform="scale(.5)"><path d="M531 126h2m0 2h2m-76 1h2m36 3h2m-41 1h2m-3 1h2m21 1h2m18 1h2m55 4h2m-98 1h2m34 0h2m31 0h2m3 0h2m-83 1h2m36 0h2m34 0h2m-100 2h2m83 0h2m-80 1h2m52 0h2m25 0h2m14 0h2m-97 2h2m36 0h2m-6 1h2m27 0h2m23 2h2m2 0h2m-71 1h2m-9 1h2m-1 0h2m20 0h2m59 0h2m-110 1h2m44 0h2m2 0h2m-16 1h2m7 0h2m-1 0h2m5 0h2m14 0h2m-63 1h2m71 0h2m5 0h2m32 0h2m-115 1h2m1 0h2m37 0h2m76 0h2m-112 1h2m12 0h2m65 0h2m0 0h2m-104 1h2m9 0h2m18 0h2m20 0h2m6 0h2m15 0h2m12 0h2m5 0h2m24 0h2m-125 1h2m2 0h2m12 0h2m66 0h2m33 0h2m-123 1h2m8 0h2m6 0h2m2 0h2m8 0h2m17 0h2m8 0h2m34 0h2m14 0h2m-115 1h2m4 0h2m-1 0h2m25 0h2m0 0h2m10 0h2m62 0h2m6 0h2m-116 1h2m20 0h2m-1 0h2m25 0h2m-53 1h2m2 0h2m13 0h2m1 0h2m22 0h2m9 0h2m4 0h2m11 0h2m33 0h2m-134 1h2m2 0h2m28 0h2m0 0h2m13 0h2m5 0h2m3 0h2m2 0h2m29 0h2m14 0h2m30 0h2m-140 1h2m2 0h2m62 0h2m1 0h2m17 0h2m0 0h2m34 0h2m1 0h2m2 0h2m-136 1h2m4 0h2m4 0h2m8 0h2m33 0h2m1 0h2m21 0h2m12 0h2m1 0h2m-105 1h2m-1 0h2m17 0h2m10 0h2m11 0h2m26 0h2m63 0h2m-135 1h2m3 0h2m13 0h2m16 0h2m16 0h2m31 0h2m7 0h2m2 0h2m4 0h2m3 0h2m1 0h2m-122 1h2m5 0h2m1 0h2m0 0h2m4 0h2m40 0h2m6 0h2m1 0h2m5 0h2m-1 0h2m5 0h2m3 0h2m8 0h2m7 0h2m2 0h2m1 0h2m15 0h2m-141 1h2m4 0h2m49 0h2m11 0h2m5 0h2m19 0h2m0 0h2m8 0h2m21 0h2m4 0h2m-1 0h2m0 0h2m-1 0h2m-1 0h2m-141 1h2m9 0h2m5 0h2m7 0h2m0 0h2m8 0h2m28 0h2m10 0h2m4 0h2m0 0h2m-1 0h2m6 0h2m30 0h2m-140 1h2m15 0h2m1 0h2m3 0h2m41 0h2m-1 0h2m1 0h2m2 0h2m1 0h2m2 0h2m3 0h2m17 0h2m3 0h2m1 0h2m0 0h2m2 0h2m13 0h2m-175 1h2m34 0h2m6 0h2m-1 0h2m1 0h2m1 0h2m0 0h2m3 0h2m20 0h2m3 0h2m7 0h2m0 0h2m14 0h2m3 0h2m6 0h2m5 0h2m3 0h2m22 0h2m2 0h2m1 0h2m6 0h2m-187 1h2m42 0h2m2 0h2m0 0h2m-1 0h2m5 0h2m-1 0h2m0 0h2m10 0h2m2 0h2m1 0h2m2 0h2m0 0h2m-1 0h2m7 0h2m0 0h2m16 0h2m7 0h2m0 0h2m10 0h2m1 0h2m-161 1h2m57 0h2m-1 0h2m-1 0h2m2 0h2m5 0h2m4 0h2m7 0h2m1 0h2m17 0h2m3 0h2m4 0h2m0 0h2m0 0h2m1 0h2m-1 0h2m-1 0h2m12 0h2m-1 0h2m14 0h2m1 0h2m2 0h2m1 0h2m11 0h2m4 0h2m-133 1h2m12 0h2m3 0h2m1 0h2m0 0h2m2 0h2m2 0h2m4 0h2m0 0h2m3 0h2m0 0h2m-1 0h2m0 0h2m0 0h2m29 0h2m-1 0h2m3 0h2m2 0h2m8 0h2m-1 0h2m27 0h2m3 0h2m0 0h2m-195 1h2m40 0h2m12 0h2m6 0h2m-1 0h2m5 0h2m5 0h2m5 0h2m23 0h2m6 0h2m7 0h2m-1 0h2m-1 0h2m9 0h2m-1 0h2m0 0h2m4 0h2m21 0h2m6 0h2m3 0h2m0 0h2m8 0h2m5 0h2m-215 1h2m56 0h2m4 0h2m-1 0h2m-1 0h2m2 0h2m3 0h2m1 0h2m-1 0h2m2 0h2m4 0h2m5 0h2m1 0h2m2 0h2m3 0h2m3 0h2m-1 0h2m1 0h2m1 0h2m0 0h2m1 0h2m7 0h2m-1 0h2m4 0h2m7 0h2m0 0h2m1 0h2m-1 0h2m0 0h2m3 0h2m2 0h2m8 0h2m6 0h2m-1 0h2m0 0h2m4 0h2m5 0h2m-146 1h2m-1 0h2m5 0h2m1 0h2m0 0h2m5 0h2m7 0h2m-1 0h2m-1 0h2m1 0h2m-1 0h2m-1 0h2m8 0h2m4 0h2m2 0h2m11 0h2m3 0h2m6 0h2m3 0h2m12 0h2m-1 0h2m0 0h2m0 0h2m-1 0h2m5 0h2m-1 0h2m-1 0h2m8 0h2m-1 0h2m6 0h2m4 0h2m-206 1h2m69 0h2m-1 0h2m3 0h2m0 0h2m4 0h2m1 0h2m1 0h2m-1 0h2m-1 0h2m-1 0h2m-1 0h2m4 0h2m0 0h2m-1 0h2m4 0h2m5 0h2m0 0h2m10 0h2m4 0h2m2 0h2m-1 0h2m1 0h2m1 0h2m1 0h2m0 0h2m-1 0h2m1 0h2m9 0h2m3 0h2m7 0h2m9 0h2m5 0h2m14 0h2m-159 1h2m5 0h2m-1 0h2m2 0h2m1 0h2m1 0h2m0 0h2m-1 0h2m5 0h2m2 0h2m-1 0h2m3 0h2m-1 0h2m4 0h2m2 0h2m0 0h2m9 0h2m1 0h2m4 0h2m4 0h2m9 0h2m5 0h2m3 0h2m3 0h2m5 0h2m1 0h2m4 0h2m5 0h2m2 0h2m2 0h2m5 0h2m-1 0h2m12 0h2m0 0h2m-160 1h2m7 0h2m1 0h2m3 0h2m6 0h2m3 0h2m0 0h2m-1 0h2m-1 0h2m-1 0h2m2 0h2m0 0h2m-1 0h2m2 0h2m-1 0h2m2 0h2m-1 0h2m8 0h2m3 0h2m0 0h2m17 0h2m-1 0h2m-1 0h2m3 0h2m2 0h2m-1 0h2m2 0h2m3 0h2m0 0h2m-1 0h2m-1 0h2m12 0h2m1 0h2m8 0h2m8 0h2m3 0h2m-159 1h2m6 0h2m6 0h2m4 0h2m-1 0h2m-1 0h2m4 0h2m2 0h2m1 0h2m7 0h2m1 0h2m3 0h2m1 0h2m4 0h2m6 0h2m5 0h2m5 0h2m3 0h2m4 0h2m-1 0h2m2 0h2m2 0h2m3 0h2m2 0h2m2 0h2m5 0h2m2 0h2m-1 0h2m1 0h2m4 0h2m11 0h2m6 0h2m-225 1h2m8 0h2m6 0h2m10 0h2m10 0h2m19 0h2m13 0h2m2 0h2m-1 0h2m2 0h2m-1 0h2m0 0h2m18 0h2m3 0h2m1 0h2m-1 0h2m0 0h2m9 0h2m5 0h2m3 0h2m0 0h2m2 0h2m8 0h2m4 0h2m-1 0h2m8 0h2m-1 0h2m2 0h2m1 0h2m1 0h2m-1 0h2m8 0h2m2 0h2m7 0h2m0 0h2m5 0h2m0 0h2m-185 1h2m28 0h2m-1 0h2m0 0h2m-1 0h2m2 0h2m-1 0h2m0 0h2m0 0h2m1 0h2m0 0h2m7 0h2m-1 0h2m10 0h2m2 0h2m-1 0h2m-1 0h2m0 0h2m2 0h2m32 0h2m-1 0h2m1 0h2m1 0h2m-1 0h2m-1 0h2m4 0h2m-1 0h2m0 0h2m-1 0h2m-1 0h2m0 0h2m0 0h2m1 0h2m1 0h2m3 0h2m1 0h2m9 0h2m1 0h2m-140 1h2m-1 0h2m-1 0h2m-1 0h2m0 0h2m11 0h2m-1 0h2m0 0h2m-1 0h2m-1 0h2m2 0h2m-1 0h2m-1 0h2m3 0h2m2 0h2m0 0h2m0 0h2m0 0h2m4 0h2m-1 0h2m0 0h2m1 0h2m5 0h2m14 0h2m4 0h2m0 0h2m-1 0h2m4 0h2m1 0h2m-1 0h2m2 0h2m1 0h2m0 0h2m5 0h2m1 0h2m4 0h2m5 0h2m6 0h2m2 0h2m2 0h2m-1 0h2m4 0h2m-207 1h2m34 0h2m1 0h2m4 0h2m2 0h2m2 0h2m6 0h2m-1 0h2m8 0h2m6 0h2m-1 0h2m0 0h2m-1 0h2m8 0h2m0 0h2m1 0h2m0 0h2m3 0h2m4 0h2m-1 0h2m-1 0h2m0 0h2m-1 0h2m3 0h2m1 0h2m3 0h2m6 0h2m-1 0h2m-1 0h2m9 0h2m-1 0h2m0 0h2m-1 0h2m4 0h2m0 0h2m-1 0h2m-1 0h2m2 0h2m8 0h2m6 0h2m2 0h2m-186 1h2m29 0h2m2 0h2m0 0h2m7 0h2m6 0h2m0 0h2m2 0h2m9 0h2m0 0h2m-1 0h2m5 0h2m-1 0h2m1 0h2m1 0h2m4 0h2m4 0h2m2 0h2m-1 0h2m0 0h2m6 0h2m0 0h2m6 0h2m-1 0h2m-1 0h2m4 0h2m-1 0h2m4 0h2m0 0h2m-1 0h2m1 0h2m0 0h2m3 0h2m12 0h2m14 0h2m3 0h2m-216 1h2m-1 0h2m1 0h2m6 0h2m1 0h2m40 0h2m0 0h2m-1 0h2m12 0h2m0 0h2m-1 0h2m-1 0h2m1 0h2m-1 0h2m-1 0h2m-1 0h2m-1 0h2m0 0h2m-1 0h2m-1 0h2m1 0h2m1 0h2m5 0h2m6 0h2m-1 0h2m0 0h2m3 0h2m-1 0h2m0 0h2m1 0h2m1 0h2m1 0h2m3 0h2m2 0h2m9 0h2m0 0h2m2 0h2m0 0h2m-1 0h2m3 0h2m-1 0h2m1 0h2m-1 0h2m1 0h2m-1 0h2m-1 0h2m2 0h2m1 0h2m-1 0h2m2 0h2m0 0h2m10 0h2m9 0h2m8 0h2m-219 1h2m21 0h2m27 0h2m17 0h2m4 0h2m2 0h2m-1 0h2m0 0h2m6 0h2m-1 0h2m-1 0h2m0 0h2m-1 0h2m0 0h2m-1 0h2m7 0h2m-1 0h2m-1 0h2m2 0h2m8 0h2m0 0h2m8 0h2m2 0h2m0 0h2m-1 0h2m0 0h2m5 0h2m9 0h2m-1 0h2m0 0h2m3 0h2m-1 0h2m0 0h2m-1 0h2m2 0h2m0 0h2m-1 0h2m-1 0h2m-1 0h2m12 0h2m2 0h2m4 0h2m6 0h2m0 0h2m-202 1h2m31 0h2m8 0h2m11 0h2m5 0h2m-1 0h2m3 0h2m0 0h2m1 0h2m-1 0h2m0 0h2m-1 0h2m-1 0h2m-1 0h2m-1 0h2m9 0h2m5 0h2m6 0h2m7 0h2m8 0h2m1 0h2m2 0h2m4 0h2m8 0h2m2 0h2m0 0h2m0 0h2m-1 0h2m2 0h2m-1 0h2m2 0h2m0 0h2m-1 0h2m1 0h2m8 0h2m9 0h2m0 0h2m-220 1h2m2 0h2m16 0h2m0 0h2m28 0h2m3 0h2m2 0h2m3 0h2m6 0h2m4 0h2m-1 0h2m1 0h2m1 0h2m3 0h2m-1 0h2m0 0h2m-1 0h2m0 0h2m3 0h2m-1 0h2m-1 0h2m0 0h2m0 0h2m-1 0h2m1 0h2m0 0h2m11 0h2m9 0h2m9 0h2m-1 0h2m4 0h2m1 0h2m1 0h2m-1 0h2m0 0h2m-1 0h2m0 0h2m-1 0h2m0 0h2m4 0h2m-1 0h2m0 0h2m-1 0h2m6 0h2m-1 0h2m-1 0h2m-1 0h2m1 0h2m3 0h2m0 0h2m12 0h2m-219 1h2m1 0h2m10 0h2m8 0h2m25 0h2m6 0h2m8 0h2m0 0h2m6 0h2m-1 0h2m0 0h2m-1 0h2m1 0h2m0 0h2m4 0h2m0 0h2m0 0h2m3 0h2m-1 0h2m-1 0h2m0 0h2m1 0h2m10 0h2m-1 0h2m1 0h2m1 0h2m-1 0h2m0 0h2m2 0h2m6 0h2m4 0h2m0 0h2m-1 0h2m0 0h2m1 0h2m0 0h2m-1 0h2m0 0h2m0 0h2m5 0h2m1 0h2m-1 0h2m2 0h2m1 0h2m0 0h2m7 0h2m8 0h2m-1 0h2m4 0h2m2 0h2m3 0h2m-169 1h2m-1 0h2m5 0h2m0 0h2m1 0h2m0 0h2m0 0h2m3 0h2m-1 0h2m-1 0h2m-1 0h2m-1 0h2m0 0h2m-1 0h2m1 0h2m2 0h2m-1 0h2m-1 0h2m-1 0h2m0 0h2m-1 0h2m0 0h2m-1 0h2m-1 0h2m10 0h2m4 0h2m1 0h2m-1 0h2m1 0h2m0 0h2m0 0h2m0 0h2m2 0h2m-1 0h2m0 0h2m8 0h2m1 0h2m1 0h2m0 0h2m0 0h2m1 0h2m0 0h2m-1 0h2m6 0h2m-1 0h2m4 0h2m3 0h2m0 0h2m-1 0h2m0 0h2m-1 0h2m11 0h2m-1 0h2m4 0h2m-1 0h2m4 0h2m1 0h2m-170 1h2m15 0h2m-1 0h2m0 0h2m-1 0h2m2 0h2m1 0h2m7 0h2m-1 0h2m1 0h2m0 0h2m0 0h2m-1 0h2m-1 0h2m-1 0h2m0 0h2m1 0h2m0 0h2m-1 0h2m2 0h2m-1 0h2m1 0h2m1 0h2m0 0h2m7 0h2m2 0h2m0 0h2m-1 0h2m0 0h2m0 0h2m8 0h2m-1 0h2m3 0h2m1 0h2m0 0h2m0 0h2m0 0h2m0 0h2m0 0h2m2 0h2m4 0h2m-1 0h2m1 0h2m2 0h2m-1 0h2m3 0h2m-1 0h2m-1 0h2m-1 0h2m1 0h2m11 0h2m0 0h2m-222 1h2m16 0h2m43 0h2m8 0h2m-1 0h2m1 0h2m4 0h2m-1 0h2m-1 0h2m-1 0h2m0 0h2m-1 0h2m4 0h2m-1 0h2m2 0h2m-1 0h2m0 0h2m0 0h2m-1 0h2m1 0h2m-1 0h2m1 0h2m0 0h2m2 0h2m0 0h2m2 0h2m-1 0h2m-1 0h2m1 0h2m9 0h2m1 0h2m1 0h2m-1 0h2m2 0h2m5 0h2m1 0h2m0 0h2m0 0h2m1 0h2m0 0h2m1 0h2m2 0h2m2 0h2m4 0h2m4 0h2m4 0h2m0 0h2m0 0h2m1 0h2m3 0h2m-1 0h2m2 0h2m0 0h2m4 0h2m-200 1h2m1 0h2m28 0h2m1 0h2m0 0h2m1 0h2m-1 0h2m7 0h2m0 0h2m-1 0h2m-1 0h2m-1 0h2m-1 0h2m3 0h2m-1 0h2m-1 0h2m-1 0h2m-1 0h2m1 0h2m-1 0h2m1 0h2m0 0h2m6 0h2m2 0h2m-1 0h2m4 0h2m2 0h2m1 0h2m-1 0h2m1 0h2m5 0h2m3 0h2m1 0h2m12 0h2m1 0h2m4 0h2m-1 0h2m0 0h2m0 0h2m-1 0h2m4 0h2m4 0h2m2 0h2m-1 0h2m0 0h2m11 0h2m5 0h2m0 0h2m-1 0h2m1 0h2m2 0h2m-202 1h2m30 0h2m4 0h2m4 0h2m7 0h2m-1 0h2m1 0h2m0 0h2m-1 0h2m-1 0h2m0 0h2m1 0h2m-1 0h2m-1 0h2m-1 0h2m0 0h2m-1 0h2m0 0h2m-1 0h2m0 0h2m2 0h2m-1 0h2m0 0h2m-1 0h2m1 0h2m9 0h2m1 0h2m4 0h2m6 0h2m4 0h2m1 0h2m6 0h2m1 0h2m0 0h2m-1 0h2m-1 0h2m-1 0h2m0 0h2m2 0h2m6 0h2m-1 0h2m1 0h2m2 0h2m-1 0h2m-1 0h2m-1 0h2m2 0h2m27 0h2m-221 1h2m46 0h2m0 0h2m0 0h2m1 0h2m7 0h2m2 0h2m3 0h2m0 0h2m1 0h2m2 0h2m-1 0h2m-1 0h2m-1 0h2m1 0h2m-1 0h2m0 0h2m5 0h2m3 0h2m-1 0h2m1 0h2m0 0h2m-1 0h2m0 0h2m3 0h2m-1 0h2m1 0h2m14 0h2m1 0h2m0 0h2m1 0h2m7 0h2m5 0h2m10 0h2m10 0h2m-1 0h2m10 0h2m-1 0h2m-1 0h2m-1 0h2m-1 0h2m14 0h2m-217 1h2m20 0h2m1 0h2m21 0h2m7 0h2m6 0h2m2 0h2m-1 0h2m-1 0h2m-1 0h2m1 0h2m0 0h2m-1 0h2m-1 0h2m1 0h2m-1 0h2m-1 0h2m-1 0h2m1 0h2m0 0h2m1 0h2m-1 0h2m-1 0h2m-1 0h2m0 0h2m-1 0h2m1 0h2m5 0h2m0 0h2m10 0h2m5 0h2m1 0h2m-1 0h2m4 0h2m6 0h2m0 0h2m6 0h2m3 0h2m1 0h2m1 0h2m1 0h2m1 0h2m-1 0h2m2 0h2m-1 0h2m1 0h2m3 0h2m2 0h2m3 0h2m-1 0h2m-1 0h2m-1 0h2m6 0h2m5 0h2m-225 1h2m25 0h2m5 0h2m17 0h2m0 0h2m0 0h2m-1 0h2m10 0h2m6 0h2m-1 0h2m-1 0h2m-1 0h2m-1 0h2m0 0h2m0 0h2m-1 0h2m4 0h2m-1 0h2m7 0h2m0 0h2m-1 0h2m7 0h2m-1 0h2m-1 0h2m3 0h2m-1 0h2m-1 0h2m-1 0h2m5 0h2m1 0h2m1 0h2m1 0h2m2 0h2m2 0h2m1 0h2m6 0h2m2 0h2m1 0h2m-1 0h2m6 0h2m-1 0h2m3 0h2m-1 0h2m2 0h2m19 0h2m3 0h2m-1 0h2m-210 1h2m17 0h2m16 0h2m13 0h2m2 0h2m0 0h2m7 0h2m0 0h2m1 0h2m-1 0h2m0 0h2m0 0h2m3 0h2m5 0h2m2 0h2m1 0h2m0 0h2m-1 0h2m0 0h2m4 0h2m8 0h2m-1 0h2m0 0h2m-1 0h2m-1 0h2m1 0h2m4 0h2m3 0h2m1 0h2m14 0h2m4 0h2m0 0h2m-1 0h2m8 0h2m8 0h2m-1 0h2m1 0h2m0 0h2m3 0h2m5 0h2m1 0h2m1 0h2m-1 0h2m-1 0h2m7 0h2m-215 1h2m3 0h2m-1 0h2m44 0h2m4 0h2m0 0h2m3 0h2m0 0h2m1 0h2m1 0h2m-1 0h2m5 0h2m-1 0h2m1 0h2m-1 0h2m4 0h2m1 0h2m1 0h2m-1 0h2m0 0h2m0 0h2m-1 0h2m2 0h2m-1 0h2m0 0h2m1 0h2m0 0h2m7 0h2m4 0h2m0 0h2m0 0h2m8 0h2m0 0h2m0 0h2m-1 0h2m0 0h2m0 0h2m0 0h2m-1 0h2m-1 0h2m2 0h2m3 0h2m0 0h2m2 0h2m2 0h2m14 0h2m7 0h2m5 0h2m-161 1h2m-1 0h2m-1 0h2m-1 0h2m2 0h2m-1 0h2m1 0h2m0 0h2m-1 0h2m0 0h2m-1 0h2m1 0h2m1 0h2m2 0h2m-1 0h2m-1 0h2m1 0h2m0 0h2m2 0h2m0 0h2m0 0h2m-1 0h2m-1 0h2m1 0h2m4 0h2m5 0h2m-1 0h2m6 0h2m2 0h2m-1 0h2m0 0h2m-1 0h2m1 0h2m2 0h2m0 0h2m1 0h2m0 0h2m0 0h2m4 0h2m4 0h2m0 0h2m-1 0h2m9 0h2m0 0h2m7 0h2m7 0h2m8 0h2m7 0h2m0 0h2m-212 1h2m15 0h2m27 0h2m3 0h2m-1 0h2m4 0h2m4 0h2m4 0h2m-1 0h2m5 0h2m-1 0h2m3 0h2m0 0h2m3 0h2m2 0h2m8 0h2m-1 0h2m3 0h2m-1 0h2m3 0h2m-1 0h2m14 0h2m6 0h2m0 0h2m12 0h2m0 0h2m0 0h2m7 0h2m0 0h2m2 0h2m16 0h2m0 0h2m3 0h2m1 0h2m0 0h2m-1 0h2m1 0h2m-221 1h2m30 0h2m16 0h2m12 0h2m-1 0h2m0 0h2m-1 0h2m2 0h2m2 0h2m-1 0h2m-1 0h2m0 0h2m1 0h2m0 0h2m0 0h2m0 0h2m5 0h2m1 0h2m1 0h2m4 0h2m0 0h2m-1 0h2m0 0h2m0 0h2m14 0h2m-1 0h2m1 0h2m6 0h2m0 0h2m5 0h2m8 0h2m7 0h2m1 0h2m2 0h2m2 0h2m1 0h2m3 0h2m2 0h2m6 0h2m4 0h2m-159 1h2m5 0h2m11 0h2m0 0h2m1 0h2m1 0h2m0 0h2m0 0h2m1 0h2m1 0h2m1 0h2m2 0h2m-1 0h2m0 0h2m-1 0h2m3 0h2m-1 0h2m-1 0h2m0 0h2m5 0h2m4 0h2m5 0h2m-1 0h2m-1 0h2m2 0h2m0 0h2m3 0h2m2 0h2m0 0h2m2 0h2m3 0h2m1 0h2m0 0h2m-1 0h2m12 0h2m1 0h2m37 0h2m0 0h2m-205 1h2m22 0h2m4 0h2m3 0h2m0 0h2m8 0h2m0 0h2m-1 0h2m0 0h2m1 0h2m-1 0h2m4 0h2m2 0h2m1 0h2m1 0h2m6 0h2m0 0h2m7 0h2m1 0h2m1 0h2m-1 0h2m0 0h2m6 0h2m-1 0h2m7 0h2m1 0h2m-1 0h2m2 0h2m-1 0h2m7 0h2m2 0h2m4 0h2m-1 0h2m15 0h2m11 0h2m-201 1h2m51 0h2m0 0h2m0 0h2m7 0h2m0 0h2m0 0h2m-1 0h2m7 0h2m-1 0h2m0 0h2m2 0h2m-1 0h2m-1 0h2m3 0h2m3 0h2m-1 0h2m2 0h2m25 0h2m-1 0h2m3 0h2m4 0h2m8 0h2m4 0h2m0 0h2m2 0h2m-1 0h2m-1 0h2m22 0h2m0 0h2m-1 0h2m5 0h2m1 0h2m-1 0h2m1 0h2m-211 1h2m45 0h2m6 0h2m2 0h2m-1 0h2m6 0h2m6 0h2m-1 0h2m0 0h2m-1 0h2m0 0h2m0 0h2m1 0h2m1 0h2m0 0h2m4 0h2m4 0h2m6 0h2m1 0h2m1 0h2m1 0h2m6 0h2m-1 0h2m1 0h2m5 0h2m1 0h2m-1 0h2m1 0h2m0 0h2m19 0h2m3 0h2m0 0h2m5 0h2m9 0h2m4 0h2m3 0h2m12 0h2m-169 1h2m13 0h2m0 0h2m-1 0h2m-1 0h2m0 0h2m2 0h2m1 0h2m-1 0h2m2 0h2m-1 0h2m0 0h2m6 0h2m3 0h2m2 0h2m3 0h2m-1 0h2m1 0h2m5 0h2m7 0h2m-1 0h2m1 0h2m-1 0h2m7 0h2m7 0h2m1 0h2m11 0h2m4 0h2m2 0h2m6 0h2m16 0h2m0 0h2m-1 0h2m7 0h2m-157 1h2m1 0h2m3 0h2m10 0h2m4 0h2m2 0h2m0 0h2m2 0h2m4 0h2m9 0h2m-1 0h2m1 0h2m7 0h2m7 0h2m3 0h2m-1 0h2m0 0h2m3 0h2m3 0h2m8 0h2m10 0h2m5 0h2m6 0h2m11 0h2m5 0h2m5 0h2m-190 1h2m19 0h2m2 0h2m2 0h2m2 0h2m4 0h2m1 0h2m0 0h2m2 0h2m-1 0h2m-1 0h2m-1 0h2m2 0h2m9 0h2m3 0h2m-1 0h2m-1 0h2m3 0h2m0 0h2m2 0h2m-1 0h2m3 0h2m0 0h2m6 0h2m2 0h2m20 0h2m5 0h2m0 0h2m8 0h2m2 0h2m20 0h2m8 0h2m-1 0h2m10 0h2m-167 1h2m2 0h2m1 0h2m3 0h2m3 0h2m0 0h2m-1 0h2m-1 0h2m2 0h2m19 0h2m2 0h2m7 0h2m1 0h2m15 0h2m2 0h2m5 0h2m3 0h2m17 0h2m2 0h2m1 0h2m0 0h2m5 0h2m0 0h2m2 0h2m0 0h2m0 0h2m-174 1h2m61 0h2m1 0h2m3 0h2m7 0h2m0 0h2m-1 0h2m-1 0h2m-1 0h2m2 0h2m3 0h2m3 0h2m6 0h2m-1 0h2m-1 0h2m0 0h2m2 0h2m14 0h2m12 0h2m6 0h2m5 0h2m7 0h2m21 0h2m-204 1h2m50 0h2m11 0h2m25 0h2m0 0h2m1 0h2m9 0h2m5 0h2m1 0h2m-1 0h2m33 0h2m1 0h2m14 0h2m16 0h2m0 0h2m6 0h2m4 0h2m-158 1h2m33 0h2m0 0h2m9 0h2m5 0h2m1 0h2m11 0h2m-1 0h2m1 0h2m19 0h2m9 0h2m2 0h2m7 0h2m4 0h2m2 0h2m9 0h2m-177 1h2m41 0h2m-1 0h2m2 0h2m0 0h2m14 0h2m0 0h2m10 0h2m7 0h2m-1 0h2m19 0h2m7 0h2m3 0h2m6 0h2m43 0h2" stroke="#111" stroke-opacity="0.25" stroke-width="2" fill="none"/><path d="M439 130h2m119 5h2m0 0h2m-121 2h2m95 1h2m11 1h2m-93 1h2m69 1h2m-61 2h2m-39 1h2m32 1h2m36 0h2m16 1h2m21 0h2m-121 1h2m17 1h2m51 0h2m30 1h2m-86 1h2m28 0h2m-20 1h2m24 0h2m26 0h2m8 0h2m-75 1h2m19 0h2m4 0h2m63 0h2m8 0h2m-117 1h2m6 0h2m38 0h2m11 1h2m19 0h2m-67 1h2m11 0h2m8 0h2m20 0h2m1 0h2m23 0h2m17 0h2m-57 1h2m50 0h2m4 0h2m2 0h2m-117 1h2m1 0h2m32 0h2m50 0h2m0 0h2m22 0h2m-95 1h2m40 0h2m16 0h2m0 0h2m4 0h2m-1 0h2m-37 1h2m10 0h2m0 0h2m9 0h2m-57 1h2m13 0h2m12 0h2m0 0h2m0 0h2m0 0h2m12 0h2m13 0h2m-94 1h2m59 0h2m20 0h2m33 0h2m-135 1h2m44 0h2m2 0h2m26 0h2m14 0h2m-1 0h2m-84 1h2m6 0h2m8 0h2m48 0h2m4 0h2m-81 1h2m3 0h2m35 0h2m28 0h2m2 0h2m16 0h2m-30 1h2m38 0h2m20 0h2m-138 1h2m-1 0h2m-1 0h2m-1 0h2m6 0h2m15 0h2m11 0h2m18 0h2m16 0h2m2 0h2m14 0h2m-1 0h2m6 0h2m12 0h2m-121 1h2m0 0h2m0 0h2m4 0h2m8 0h2m10 0h2m10 0h2m11 0h2m13 0h2m-1 0h2m-1 0h2m0 0h2m-30 1h2m14 0h2m6 0h2m5 0h2m-1 0h2m4 0h2m8 0h2m0 0h2m12 0h2m3 0h2m-178 1h2m55 0h2m2 0h2m17 0h2m1 0h2m4 0h2m1 0h2m0 0h2m11 0h2m2 0h2m-1 0h2m21 0h2m0 0h2m18 0h2m31 0h2m-141 1h2m6 0h2m2 0h2m-1 0h2m4 0h2m8 0h2m2 0h2m-1 0h2m9 0h2m4 0h2m18 0h2m12 0h2m4 0h2m36 0h2m1 0h2m-1 0h2m3 0h2m-139 1h2m8 0h2m4 0h2m52 0h2m8 0h2m13 0h2m0 0h2m10 0h2m10 0h2m4 0h2m8 0h2m2 0h2m-146 1h2m11 0h2m19 0h2m10 0h2m14 0h2m1 0h2m-1 0h2m8 0h2m6 0h2m9 0h2m9 0h2m3 0h2m6 0h2m3 0h2m-196 1h2m29 0h2m51 0h2m2 0h2m5 0h2m-1 0h2m7 0h2m18 0h2m5 0h2m2 0h2m12 0h2m2 0h2m1 0h2m2 0h2m0 0h2m13 0h2m7 0h2m0 0h2m9 0h2m1 0h2m3 0h2m-195 1h2m48 0h2m10 0h2m5 0h2m0 0h2m1 0h2m-1 0h2m8 0h2m-1 0h2m6 0h2m-1 0h2m0 0h2m-1 0h2m4 0h2m-1 0h2m8 0h2m9 0h2m9 0h2m7 0h2m4 0h2m-1 0h2m35 0h2m3 0h2m3 0h2m-143 1h2m0 0h2m0 0h2m0 0h2m1 0h2m15 0h2m6 0h2m27 0h2m5 0h2m1 0h2m1 0h2m-1 0h2m-1 0h2m0 0h2m-1 0h2m4 0h2m9 0h2m41 0h2m-230 1h2m18 0h2m63 0h2m14 0h2m6 0h2m-1 0h2m-1 0h2m2 0h2m1 0h2m27 0h2m5 0h2m3 0h2m-1 0h2m7 0h2m4 0h2m0 0h2m7 0h2m2 0h2m0 0h2m1 0h2m12 0h2m-208 1h2m68 0h2m2 0h2m-1 0h2m2 0h2m0 0h2m-1 0h2m0 0h2m9 0h2m2 0h2m0 0h2m0 0h2m9 0h2m17 0h2m6 0h2m-1 0h2m3 0h2m0 0h2m9 0h2m9 0h2m-1 0h2m8 0h2m6 0h2m-1 0h2m1 0h2m15 0h2m-132 1h2m0 0h2m-1 0h2m1 0h2m-1 0h2m1 0h2m6 0h2m12 0h2m14 0h2m17 0h2m7 0h2m11 0h2m3 0h2m10 0h2m3 0h2m5 0h2m12 0h2m0 0h2m-172 1h2m24 0h2m-1 0h2m3 0h2m7 0h2m-1 0h2m1 0h2m4 0h2m0 0h2m2 0h2m-1 0h2m5 0h2m4 0h2m13 0h2m2 0h2m-1 0h2m0 0h2m1 0h2m3 0h2m2 0h2m3 0h2m0 0h2m4 0h2m3 0h2m5 0h2m10 0h2m14 0h2m-1 0h2m3 0h2m2 0h2m1 0h2m4 0h2m-145 1h2m-1 0h2m0 0h2m-1 0h2m4 0h2m-1 0h2m-1 0h2m-1 0h2m3 0h2m9 0h2m2 0h2m1 0h2m6 0h2m6 0h2m4 0h2m5 0h2m3 0h2m1 0h2m-1 0h2m8 0h2m7 0h2m0 0h2m-1 0h2m0 0h2m9 0h2m9 0h2m3 0h2m3 0h2m0 0h2m4 0h2m-1 0h2m-217 1h2m0 0h2m24 0h2m36 0h2m0 0h2m0 0h2m2 0h2m1 0h2m1 0h2m0 0h2m-1 0h2m-1 0h2m2 0h2m2 0h2m2 0h2m1 0h2m0 0h2m2 0h2m2 0h2m5 0h2m-1 0h2m2 0h2m12 0h2m3 0h2m1 0h2m-1 0h2m-1 0h2m8 0h2m2 0h2m0 0h2m4 0h2m0 0h2m2 0h2m0 0h2m1 0h2m2 0h2m2 0h2m1 0h2m3 0h2m1 0h2m5 0h2m1 0h2m2 0h2m1 0h2m-1 0h2m1 0h2m2 0h2m-208 1h2m10 0h2m33 0h2m1 0h2m1 0h2m3 0h2m-1 0h2m7 0h2m1 0h2m0 0h2m2 0h2m13 0h2m-1 0h2m0 0h2m-1 0h2m11 0h2m6 0h2m-1 0h2m0 0h2m9 0h2m0 0h2m0 0h2m1 0h2m2 0h2m5 0h2m2 0h2m0 0h2m2 0h2m3 0h2m1 0h2m1 0h2m1 0h2m1 0h2m9 0h2m4 0h2m9 0h2m-222 1h2m64 0h2m1 0h2m-1 0h2m0 0h2m11 0h2m0 0h2m0 0h2m1 0h2m1 0h2m3 0h2m6 0h2m3 0h2m2 0h2m1 0h2m2 0h2m-1 0h2m2 0h2m0 0h2m0 0h2m20 0h2m2 0h2m1 0h2m-1 0h2m4 0h2m1 0h2m0 0h2m2 0h2m17 0h2m-1 0h2m7 0h2m7 0h2m-221 1h2m62 0h2m0 0h2m2 0h2m-1 0h2m1 0h2m1 0h2m-1 0h2m1 0h2m1 0h2m4 0h2m3 0h2m-1 0h2m-1 0h2m5 0h2m0 0h2m-1 0h2m3 0h2m-1 0h2m8 0h2m-1 0h2m15 0h2m1 0h2m0 0h2m0 0h2m7 0h2m-1 0h2m0 0h2m0 0h2m2 0h2m1 0h2m12 0h2m2 0h2m1 0h2m9 0h2m6 0h2m7 0h2m1 0h2m-1 0h2m-1 0h2m-224 1h2m1 0h2m5 0h2m57 0h2m11 0h2m4 0h2m2 0h2m-1 0h2m1 0h2m0 0h2m-1 0h2m1 0h2m0 0h2m1 0h2m-1 0h2m-1 0h2m-1 0h2m1 0h2m1 0h2m0 0h2m8 0h2m6 0h2m0 0h2m-1 0h2m1 0h2m4 0h2m-1 0h2m-1 0h2m-1 0h2m0 0h2m13 0h2m0 0h2m6 0h2m-1 0h2m1 0h2m0 0h2m-1 0h2m-1 0h2m2 0h2m0 0h2m-1 0h2m8 0h2m11 0h2m3 0h2m1 0h2m-168 1h2m1 0h2m10 0h2m0 0h2m0 0h2m1 0h2m1 0h2m0 0h2m-1 0h2m-1 0h2m2 0h2m-1 0h2m2 0h2m-1 0h2m2 0h2m-1 0h2m-1 0h2m6 0h2m-1 0h2m-1 0h2m-1 0h2m3 0h2m0 0h2m0 0h2m11 0h2m-1 0h2m5 0h2m4 0h2m1 0h2m2 0h2m-1 0h2m12 0h2m-1 0h2m11 0h2m19 0h2m-1 0h2m-1 0h2m7 0h2m-1 0h2m0 0h2m-218 1h2m18 0h2m34 0h2m-1 0h2m1 0h2m7 0h2m2 0h2m-1 0h2m1 0h2m-1 0h2m-1 0h2m-1 0h2m8 0h2m9 0h2m0 0h2m1 0h2m0 0h2m-1 0h2m-1 0h2m1 0h2m0 0h2m-1 0h2m0 0h2m0 0h2m1 0h2m-1 0h2m3 0h2m3 0h2m0 0h2m1 0h2m1 0h2m1 0h2m1 0h2m0 0h2m-1 0h2m0 0h2m-1 0h2m-1 0h2m0 0h2m2 0h2m-1 0h2m5 0h2m0 0h2m0 0h2m-1 0h2m3 0h2m2 0h2m4 0h2m3 0h2m-1 0h2m13 0h2m4 0h2m-227 1h2m7 0h2m3 0h2m5 0h2m7 0h2m2 0h2m26 0h2m6 0h2m1 0h2m-1 0h2m3 0h2m2 0h2m1 0h2m0 0h2m-1 0h2m1 0h2m0 0h2m2 0h2m3 0h2m-1 0h2m1 0h2m4 0h2m-1 0h2m4 0h2m-1 0h2m-1 0h2m2 0h2m5 0h2m0 0h2m1 0h2m4 0h2m0 0h2m7 0h2m7 0h2m-1 0h2m11 0h2m0 0h2m9 0h2m1 0h2m3 0h2m4 0h2m3 0h2m-180 1h2m28 0h2m10 0h2m-1 0h2m3 0h2m-1 0h2m0 0h2m-1 0h2m-1 0h2m-1 0h2m4 0h2m2 0h2m0 0h2m2 0h2m4 0h2m2 0h2m5 0h2m2 0h2m4 0h2m-1 0h2m1 0h2m1 0h2m4 0h2m9 0h2m1 0h2m-1 0h2m4 0h2m1 0h2m-1 0h2m2 0h2m3 0h2m0 0h2m6 0h2m4 0h2m0 0h2m-1 0h2m5 0h2m8 0h2m-190 1h2m13 0h2m20 0h2m-1 0h2m0 0h2m-1 0h2m0 0h2m9 0h2m-1 0h2m0 0h2m2 0h2m2 0h2m-1 0h2m0 0h2m0 0h2m0 0h2m-1 0h2m0 0h2m2 0h2m-1 0h2m0 0h2m-1 0h2m-1 0h2m0 0h2m0 0h2m2 0h2m2 0h2m-1 0h2m0 0h2m0 0h2m-1 0h2m-1 0h2m1 0h2m-1 0h2m2 0h2m6 0h2m0 0h2m5 0h2m2 0h2m0 0h2m1 0h2m0 0h2m2 0h2m-1 0h2m4 0h2m0 0h2m2 0h2m0 0h2m3 0h2m-1 0h2m2 0h2m5 0h2m0 0h2m3 0h2m-1 0h2m6 0h2m-1 0h2m-1 0h2m-213 1h2m-1 0h2m6 0h2m10 0h2m31 0h2m-1 0h2m3 0h2m1 0h2m1 0h2m2 0h2m0 0h2m-1 0h2m1 0h2m-1 0h2m0 0h2m3 0h2m-1 0h2m-1 0h2m-1 0h2m7 0h2m0 0h2m-1 0h2m9 0h2m18 0h2m-1 0h2m6 0h2m0 0h2m-1 0h2m0 0h2m0 0h2m3 0h2m1 0h2m-1 0h2m-1 0h2m0 0h2m2 0h2m0 0h2m3 0h2m1 0h2m-1 0h2m-1 0h2m0 0h2m3 0h2m1 0h2m2 0h2m-1 0h2m3 0h2m27 0h2m-221 1h2m25 0h2m23 0h2m10 0h2m14 0h2m2 0h2m-1 0h2m-1 0h2m1 0h2m-1 0h2m-1 0h2m-1 0h2m2 0h2m2 0h2m0 0h2m1 0h2m0 0h2m2 0h2m0 0h2m2 0h2m4 0h2m14 0h2m0 0h2m3 0h2m1 0h2m2 0h2m-1 0h2m-1 0h2m1 0h2m-1 0h2m-1 0h2m12 0h2m-1 0h2m1 0h2m1 0h2m-1 0h2m4 0h2m5 0h2m-1 0h2m-1 0h2m-1 0h2m4 0h2m3 0h2m0 0h2m-1 0h2m-219 1h2m11 0h2m13 0h2m22 0h2m5 0h2m3 0h2m8 0h2m0 0h2m-1 0h2m-1 0h2m0 0h2m1 0h2m0 0h2m-1 0h2m0 0h2m-1 0h2m0 0h2m0 0h2m1 0h2m0 0h2m-1 0h2m-1 0h2m7 0h2m1 0h2m-1 0h2m-1 0h2m-1 0h2m-1 0h2m-1 0h2m1 0h2m8 0h2m2 0h2m7 0h2m3 0h2m-1 0h2m2 0h2m0 0h2m-1 0h2m-1 0h2m-1 0h2m-1 0h2m3 0h2m-1 0h2m2 0h2m2 0h2m6 0h2m4 0h2m1 0h2m10 0h2m4 0h2m-1 0h2m2 0h2m0 0h2m3 0h2m-222 1h2m21 0h2m7 0h2m17 0h2m-1 0h2m3 0h2m6 0h2m3 0h2m2 0h2m2 0h2m1 0h2m-1 0h2m-1 0h2m0 0h2m-1 0h2m2 0h2m4 0h2m-1 0h2m0 0h2m1 0h2m-1 0h2m1 0h2m-1 0h2m3 0h2m14 0h2m1 0h2m-1 0h2m4 0h2m0 0h2m0 0h2m10 0h2m1 0h2m1 0h2m1 0h2m6 0h2m-1 0h2m0 0h2m-1 0h2m2 0h2m1 0h2m3 0h2m4 0h2m1 0h2m2 0h2m4 0h2m6 0h2m0 0h2m-218 1h2m1 0h2m66 0h2m2 0h2m2 0h2m0 0h2m1 0h2m1 0h2m1 0h2m2 0h2m0 0h2m1 0h2m-1 0h2m-1 0h2m-1 0h2m-1 0h2m-1 0h2m-1 0h2m2 0h2m-1 0h2m1 0h2m1 0h2m0 0h2m6 0h2m1 0h2m-1 0h2m2 0h2m3 0h2m3 0h2m1 0h2m-1 0h2m0 0h2m-1 0h2m0 0h2m1 0h2m-1 0h2m1 0h2m-1 0h2m-1 0h2m5 0h2m0 0h2m19 0h2m1 0h2m-1 0h2m0 0h2m0 0h2m5 0h2m0 0h2m0 0h2m-211 1h2m2 0h2m10 0h2m7 0h2m23 0h2m1 0h2m0 0h2m3 0h2m8 0h2m0 0h2m0 0h2m-1 0h2m-1 0h2m1 0h2m-1 0h2m0 0h2m1 0h2m6 0h2m-1 0h2m-1 0h2m-1 0h2m-1 0h2m2 0h2m0 0h2m0 0h2m0 0h2m0 0h2m1 0h2m2 0h2m1 0h2m9 0h2m6 0h2m-1 0h2m1 0h2m1 0h2m1 0h2m1 0h2m3 0h2m2 0h2m0 0h2m0 0h2m4 0h2m0 0h2m23 0h2m4 0h2m4 0h2m7 0h2m1 0h2m-229 1h2m0 0h2m54 0h2m2 0h2m17 0h2m0 0h2m-1 0h2m2 0h2m-1 0h2m0 0h2m1 0h2m0 0h2m2 0h2m-1 0h2m2 0h2m0 0h2m-1 0h2m1 0h2m-1 0h2m-1 0h2m2 0h2m2 0h2m0 0h2m0 0h2m0 0h2m-1 0h2m-1 0h2m6 0h2m0 0h2m9 0h2m-1 0h2m0 0h2m-1 0h2m6 0h2m-1 0h2m3 0h2m-1 0h2m4 0h2m0 0h2m-1 0h2m1 0h2m4 0h2m5 0h2m0 0h2m-1 0h2m0 0h2m0 0h2m-1 0h2m3 0h2m0 0h2m-206 1h2m-1 0h2m0 0h2m51 0h2m3 0h2m1 0h2m-1 0h2m5 0h2m2 0h2m-1 0h2m2 0h2m0 0h2m2 0h2m-1 0h2m0 0h2m1 0h2m1 0h2m-1 0h2m0 0h2m0 0h2m0 0h2m-1 0h2m14 0h2m0 0h2m3 0h2m0 0h2m3 0h2m7 0h2m1 0h2m3 0h2m-1 0h2m-1 0h2m1 0h2m6 0h2m3 0h2m-1 0h2m0 0h2m6 0h2m13 0h2m-1 0h2m14 0h2m0 0h2m-219 1h2m2 0h2m13 0h2m18 0h2m16 0h2m4 0h2m5 0h2m-1 0h2m5 0h2m-1 0h2m-1 0h2m-1 0h2m5 0h2m-1 0h2m2 0h2m2 0h2m0 0h2m-1 0h2m1 0h2m-1 0h2m4 0h2m0 0h2m3 0h2m2 0h2m-1 0h2m4 0h2m1 0h2m0 0h2m6 0h2m0 0h2m-1 0h2m8 0h2m10 0h2m0 0h2m1 0h2m1 0h2m12 0h2m0 0h2m5 0h2m1 0h2m0 0h2m-1 0h2m11 0h2m2 0h2m0 0h2m-221 1h2m2 0h2m12 0h2m35 0h2m0 0h2m3 0h2m1 0h2m1 0h2m-1 0h2m-1 0h2m1 0h2m-1 0h2m0 0h2m2 0h2m4 0h2m7 0h2m1 0h2m2 0h2m1 0h2m0 0h2m5 0h2m0 0h2m1 0h2m4 0h2m5 0h2m0 0h2m4 0h2m2 0h2m4 0h2m-1 0h2m7 0h2m1 0h2m3 0h2m0 0h2m0 0h2m-1 0h2m15 0h2m5 0h2m5 0h2m-1 0h2m1 0h2m8 0h2m-225 1h2m2 0h2m58 0h2m2 0h2m1 0h2m3 0h2m-1 0h2m3 0h2m0 0h2m1 0h2m0 0h2m-1 0h2m-1 0h2m0 0h2m2 0h2m1 0h2m0 0h2m2 0h2m-1 0h2m-1 0h2m3 0h2m0 0h2m1 0h2m14 0h2m1 0h2m3 0h2m0 0h2m5 0h2m6 0h2m0 0h2m-1 0h2m0 0h2m-1 0h2m1 0h2m-1 0h2m0 0h2m7 0h2m1 0h2m3 0h2m5 0h2m6 0h2m4 0h2m0 0h2m3 0h2m-1 0h2m0 0h2m0 0h2m3 0h2m-216 1h2m4 0h2m15 0h2m22 0h2m2 0h2m2 0h2m5 0h2m0 0h2m-1 0h2m-1 0h2m0 0h2m4 0h2m2 0h2m-1 0h2m1 0h2m3 0h2m-1 0h2m0 0h2m1 0h2m0 0h2m0 0h2m-1 0h2m4 0h2m7 0h2m-1 0h2m-1 0h2m0 0h2m1 0h2m5 0h2m-1 0h2m-1 0h2m20 0h2m1 0h2m5 0h2m1 0h2m0 0h2m-1 0h2m4 0h2m-1 0h2m4 0h2m0 0h2m9 0h2m0 0h2m-1 0h2m3 0h2m-1 0h2m-1 0h2m2 0h2m0 0h2m1 0h2m-227 1h2m9 0h2m53 0h2m6 0h2m1 0h2m-1 0h2m0 0h2m1 0h2m5 0h2m5 0h2m2 0h2m1 0h2m0 0h2m0 0h2m2 0h2m-1 0h2m2 0h2m2 0h2m1 0h2m0 0h2m4 0h2m5 0h2m0 0h2m5 0h2m1 0h2m-1 0h2m-1 0h2m2 0h2m7 0h2m2 0h2m7 0h2m2 0h2m18 0h2m8 0h2m-1 0h2m1 0h2m6 0h2m-1 0h2m-174 1h2m10 0h2m2 0h2m5 0h2m-1 0h2m-1 0h2m-1 0h2m3 0h2m0 0h2m0 0h2m1 0h2m1 0h2m0 0h2m1 0h2m1 0h2m-1 0h2m1 0h2m-1 0h2m-1 0h2m-1 0h2m1 0h2m0 0h2m-1 0h2m-1 0h2m-1 0h2m0 0h2m-1 0h2m9 0h2m0 0h2m4 0h2m12 0h2m-1 0h2m8 0h2m1 0h2m4 0h2m1 0h2m-1 0h2m1 0h2m-1 0h2m-1 0h2m4 0h2m4 0h2m2 0h2m3 0h2m11 0h2m0 0h2m5 0h2m-225 1h2m10 0h2m10 0h2m28 0h2m9 0h2m0 0h2m12 0h2m-1 0h2m0 0h2m-1 0h2m-1 0h2m1 0h2m3 0h2m3 0h2m8 0h2m1 0h2m-1 0h2m1 0h2m0 0h2m3 0h2m-1 0h2m-1 0h2m-1 0h2m2 0h2m0 0h2m0 0h2m1 0h2m5 0h2m0 0h2m-1 0h2m0 0h2m7 0h2m0 0h2m28 0h2m4 0h2m7 0h2m1 0h2m5 0h2m6 0h2m-221 1h2m45 0h2m6 0h2m1 0h2m0 0h2m2 0h2m0 0h2m-1 0h2m0 0h2m-1 0h2m0 0h2m-1 0h2m2 0h2m0 0h2m-1 0h2m-1 0h2m2 0h2m-1 0h2m6 0h2m1 0h2m-1 0h2m-1 0h2m0 0h2m3 0h2m1 0h2m7 0h2m0 0h2m0 0h2m0 0h2m1 0h2m-1 0h2m5 0h2m-1 0h2m2 0h2m12 0h2m1 0h2m34 0h2m2 0h2m0 0h2m5 0h2m1 0h2m7 0h2m-218 1h2m5 0h2m-1 0h2m5 0h2m29 0h2m-1 0h2m4 0h2m8 0h2m-1 0h2m3 0h2m4 0h2m1 0h2m0 0h2m4 0h2m5 0h2m3 0h2m0 0h2m7 0h2m7 0h2m11 0h2m10 0h2m9 0h2m6 0h2m4 0h2m-1 0h2m0 0h2m0 0h2m1 0h2m3 0h2m8 0h2m-195 1h2m0 0h2m0 0h2m50 0h2m-1 0h2m0 0h2m-1 0h2m-1 0h2m2 0h2m1 0h2m-1 0h2m-1 0h2m2 0h2m-1 0h2m3 0h2m-1 0h2m5 0h2m0 0h2m0 0h2m4 0h2m0 0h2m0 0h2m1 0h2m0 0h2m0 0h2m6 0h2m7 0h2m-1 0h2m0 0h2m2 0h2m-1 0h2m0 0h2m0 0h2m2 0h2m20 0h2m6 0h2m0 0h2m7 0h2m7 0h2m11 0h2m4 0h2m-1 0h2m4 0h2m-222 1h2m7 0h2m4 0h2m36 0h2m-1 0h2m4 0h2m4 0h2m1 0h2m2 0h2m1 0h2m-1 0h2m1 0h2m1 0h2m-1 0h2m2 0h2m7 0h2m-1 0h2m-1 0h2m0 0h2m-1 0h2m-1 0h2m5 0h2m1 0h2m16 0h2m1 0h2m5 0h2m3 0h2m4 0h2m3 0h2m0 0h2m-1 0h2m-1 0h2m-1 0h2m0 0h2m2 0h2m-1 0h2m12 0h2m1 0h2m17 0h2m-1 0h2m13 0h2m-204 1h2m1 0h2m27 0h2m6 0h2m2 0h2m1 0h2m6 0h2m-1 0h2m1 0h2m0 0h2m0 0h2m2 0h2m-1 0h2m-1 0h2m4 0h2m-1 0h2m0 0h2m-1 0h2m0 0h2m0 0h2m-1 0h2m-1 0h2m3 0h2m0 0h2m2 0h2m12 0h2m1 0h2m3 0h2m0 0h2m-1 0h2m3 0h2m5 0h2m2 0h2m-1 0h2m3 0h2m3 0h2m-1 0h2m7 0h2m18 0h2m8 0h2m0 0h2m0 0h2m8 0h2m-1 0h2m-196 1h2m2 0h2m-1 0h2m20 0h2m3 0h2m0 0h2m2 0h2m4 0h2m2 0h2m0 0h2m0 0h2m1 0h2m1 0h2m0 0h2m2 0h2m1 0h2m0 0h2m1 0h2m7 0h2m-1 0h2m15 0h2m26 0h2m0 0h2m5 0h2m9 0h2m3 0h2m0 0h2m17 0h2m-1 0h2m11 0h2m3 0h2m0 0h2m-222 1h2m46 0h2m7 0h2m-1 0h2m-1 0h2m-1 0h2m12 0h2m1 0h2m-1 0h2m1 0h2m9 0h2m5 0h2m8 0h2m9 0h2m7 0h2m0 0h2m9 0h2m0 0h2m1 0h2m1 0h2m1 0h2m-1 0h2m5 0h2m6 0h2m-1 0h2m9 0h2m0 0h2m9 0h2m7 0h2m1 0h2m-1 0h2m-1 0h2m6 0h2m-1 0h2m-225 1h2m56 0h2m0 0h2m8 0h2m-1 0h2m1 0h2m-1 0h2m3 0h2m-1 0h2m1 0h2m0 0h2m6 0h2m1 0h2m3 0h2m-1 0h2m-1 0h2m0 0h2m5 0h2m4 0h2m12 0h2m-1 0h2m6 0h2m4 0h2m7 0h2m-1 0h2m3 0h2m21 0h2m19 0h2m9 0h2m-194 1h2m24 0h2m24 0h2m0 0h2m-1 0h2m-1 0h2m1 0h2m1 0h2m-1 0h2m11 0h2m-1 0h2m-1 0h2m9 0h2m1 0h2m12 0h2m3 0h2m3 0h2m11 0h2m15 0h2m13 0h2m15 0h2m-1 0h2m8 0h2m-198 1h2m3 0h2m44 0h2m11 0h2m2 0h2m19 0h2m9 0h2m1 0h2m-1 0h2m0 0h2m0 0h2m0 0h2m1 0h2m6 0h2m1 0h2m2 0h2m13 0h2m7 0h2m1 0h2m9 0h2m0 0h2m13 0h2m5 0h2m-143 1h2m1 0h2m17 0h2m0 0h2m5 0h2m10 0h2m1 0h2m5 0h2m20 0h2m22 0h2m5 0h2m0 0h2m-1 0h2m11 0h2m7 0h2m-197 1h2m79 0h2m2 0h2m23 0h2m9 0h2m9 0h2m0 0h2m1 0h2m27 0h2m0 0h2m8 0h2m16 0h2m2 0h2m-113 1h2m11 0h2m-1 0h2m16 0h2m10 0h2m10 0h2m22 0h2m14 0h2m4 0h2m0 0h2m9 0h2" stroke="#111" stroke-opacity="0.25" stroke-width="2" fill="none"/><path d="M538 126h2m-66 7h2m26 2h2m-26 2h2m70 0h2m-68 1h2m54 1h2m-15 1h2m3 0h2m-48 1h2m7 0h2m19 0h2m-73 1h2m38 0h2m33 2h2m-25 1h2m-16 1h2m73 0h2m-44 1h2m25 0h2m-98 1h2m39 0h2m54 0h2m-15 1h2m-96 2h2m19 0h2m3 0h2m94 0h2m-82 1h2m61 0h2m8 0h2m-68 1h2m75 0h2m-117 1h2m4 0h2m5 0h2m14 0h2m34 0h2m-56 1h2m-22 1h2m8 0h2m45 0h2m-22 1h2m41 0h2m-76 1h2m92 0h2m14 0h2m-95 1h2m91 0h2m3 0h2m-84 1h2m1 0h2m24 0h2m4 0h2m6 0h2m-86 1h2m0 0h2m21 0h2m11 0h2m43 0h2m8 0h2m5 0h2m-25 1h2m7 0h2m-89 1h2m6 0h2m15 0h2m15 0h2m4 0h2m5 0h2m16 0h2m13 0h2m3 0h2m5 0h2m-101 1h2m20 0h2m0 0h2m32 0h2m11 0h2m0 0h2m33 0h2m-96 1h2m1 0h2m27 0h2m0 0h2m24 0h2m41 0h2m4 0h2m-133 1h2m-1 0h2m0 0h2m19 0h2m4 0h2m27 0h2m6 0h2m16 0h2m10 0h2m-1 0h2m9 0h2m8 0h2m10 0h2m-132 1h2m2 0h2m8 0h2m5 0h2m12 0h2m11 0h2m7 0h2m2 0h2m29 0h2m7 0h2m26 0h2m-134 1h2m-1 0h2m26 0h2m12 0h2m4 0h2m1 0h2m11 0h2m11 0h2m44 0h2m10 0h2m-144 1h2m5 0h2m4 0h2m36 0h2m5 0h2m19 0h2m1 0h2m6 0h2m8 0h2m2 0h2m12 0h2m8 0h2m0 0h2m-132 1h2m8 0h2m0 0h2m4 0h2m25 0h2m22 0h2m13 0h2m2 0h2m2 0h2m3 0h2m0 0h2m1 0h2m4 0h2m0 0h2m4 0h2m7 0h2m12 0h2m-145 1h2m-1 0h2m7 0h2m2 0h2m4 0h2m9 0h2m4 0h2m2 0h2m2 0h2m0 0h2m-1 0h2m-1 0h2m15 0h2m16 0h2m4 0h2m-1 0h2m1 0h2m15 0h2m8 0h2m1 0h2m-118 1h2m5 0h2m2 0h2m-1 0h2m21 0h2m10 0h2m16 0h2m0 0h2m8 0h2m0 0h2m1 0h2m23 0h2m18 0h2m-137 1h2m0 0h2m4 0h2m0 0h2m6 0h2m22 0h2m7 0h2m13 0h2m8 0h2m9 0h2m-1 0h2m0 0h2m-90 1h2m4 0h2m8 0h2m0 0h2m3 0h2m-1 0h2m22 0h2m13 0h2m1 0h2m12 0h2m4 0h2m5 0h2m2 0h2m-1 0h2m4 0h2m10 0h2m8 0h2m8 0h2m0 0h2m-197 1h2m51 0h2m1 0h2m-1 0h2m0 0h2m-1 0h2m1 0h2m5 0h2m-1 0h2m3 0h2m0 0h2m1 0h2m18 0h2m6 0h2m2 0h2m8 0h2m1 0h2m1 0h2m0 0h2m0 0h2m4 0h2m-1 0h2m-1 0h2m8 0h2m5 0h2m4 0h2m0 0h2m3 0h2m-114 1h2m-1 0h2m-1 0h2m0 0h2m11 0h2m-1 0h2m-1 0h2m3 0h2m5 0h2m22 0h2m8 0h2m0 0h2m6 0h2m1 0h2m5 0h2m12 0h2m2 0h2m1 0h2m6 0h2m4 0h2m2 0h2m8 0h2m-199 1h2m0 0h2m-1 0h2m47 0h2m2 0h2m7 0h2m0 0h2m1 0h2m2 0h2m0 0h2m1 0h2m0 0h2m5 0h2m0 0h2m2 0h2m3 0h2m0 0h2m4 0h2m15 0h2m-1 0h2m-1 0h2m2 0h2m10 0h2m0 0h2m15 0h2m2 0h2m2 0h2m1 0h2m-1 0h2m11 0h2m2 0h2m3 0h2m-1 0h2m1 0h2m-124 1h2m-1 0h2m1 0h2m0 0h2m2 0h2m-1 0h2m4 0h2m5 0h2m4 0h2m14 0h2m1 0h2m3 0h2m3 0h2m0 0h2m-1 0h2m-1 0h2m1 0h2m0 0h2m7 0h2m5 0h2m5 0h2m-1 0h2m3 0h2m7 0h2m6 0h2m4 0h2m5 0h2m-149 1h2m-1 0h2m2 0h2m1 0h2m-1 0h2m4 0h2m0 0h2m0 0h2m4 0h2m-1 0h2m-1 0h2m5 0h2m1 0h2m17 0h2m7 0h2m10 0h2m2 0h2m2 0h2m1 0h2m0 0h2m0 0h2m0 0h2m1 0h2m0 0h2m-1 0h2m7 0h2m-1 0h2m0 0h2m2 0h2m5 0h2m1 0h2m8 0h2m2 0h2m-1 0h2m4 0h2m-212 1h2m51 0h2m11 0h2m-1 0h2m-1 0h2m0 0h2m5 0h2m-1 0h2m0 0h2m12 0h2m2 0h2m0 0h2m5 0h2m1 0h2m0 0h2m15 0h2m-1 0h2m3 0h2m5 0h2m1 0h2m1 0h2m1 0h2m-1 0h2m-1 0h2m0 0h2m1 0h2m-1 0h2m0 0h2m6 0h2m2 0h2m-1 0h2m12 0h2m6 0h2m0 0h2m7 0h2m-155 1h2m-1 0h2m3 0h2m3 0h2m1 0h2m0 0h2m1 0h2m3 0h2m0 0h2m1 0h2m1 0h2m-1 0h2m1 0h2m1 0h2m0 0h2m1 0h2m4 0h2m5 0h2m8 0h2m4 0h2m0 0h2m4 0h2m5 0h2m5 0h2m2 0h2m-1 0h2m8 0h2m2 0h2m3 0h2m3 0h2m-1 0h2m1 0h2m-1 0h2m0 0h2m5 0h2m4 0h2m1 0h2m4 0h2m-219 1h2m1 0h2m8 0h2m50 0h2m8 0h2m1 0h2m4 0h2m-1 0h2m0 0h2m0 0h2m-1 0h2m4 0h2m-1 0h2m-1 0h2m1 0h2m2 0h2m12 0h2m-1 0h2m-1 0h2m0 0h2m-1 0h2m2 0h2m4 0h2m6 0h2m0 0h2m4 0h2m2 0h2m-1 0h2m-1 0h2m0 0h2m9 0h2m-1 0h2m0 0h2m0 0h2m1 0h2m-1 0h2m-1 0h2m3 0h2m3 0h2m2 0h2m0 0h2m-1 0h2m6 0h2m3 0h2m6 0h2m0 0h2m-1 0h2m-221 1h2m15 0h2m43 0h2m1 0h2m1 0h2m0 0h2m5 0h2m2 0h2m0 0h2m-1 0h2m0 0h2m-1 0h2m4 0h2m0 0h2m-1 0h2m-1 0h2m-1 0h2m6 0h2m5 0h2m2 0h2m14 0h2m4 0h2m2 0h2m-1 0h2m1 0h2m2 0h2m1 0h2m7 0h2m-1 0h2m3 0h2m5 0h2m3 0h2m2 0h2m4 0h2m0 0h2m11 0h2m11 0h2m-197 1h2m45 0h2m4 0h2m0 0h2m2 0h2m-1 0h2m-1 0h2m0 0h2m-1 0h2m-1 0h2m2 0h2m3 0h2m5 0h2m-1 0h2m0 0h2m4 0h2m0 0h2m0 0h2m5 0h2m3 0h2m0 0h2m1 0h2m-1 0h2m4 0h2m1 0h2m2 0h2m-1 0h2m3 0h2m-1 0h2m2 0h2m-1 0h2m4 0h2m-1 0h2m3 0h2m11 0h2m8 0h2m12 0h2m-1 0h2m-214 1h2m56 0h2m0 0h2m-1 0h2m13 0h2m-1 0h2m3 0h2m3 0h2m-1 0h2m1 0h2m0 0h2m6 0h2m0 0h2m0 0h2m4 0h2m0 0h2m-1 0h2m0 0h2m-1 0h2m1 0h2m-1 0h2m13 0h2m1 0h2m-1 0h2m6 0h2m2 0h2m7 0h2m9 0h2m-1 0h2m14 0h2m9 0h2m1 0h2m7 0h2m4 0h2m-221 1h2m65 0h2m1 0h2m-1 0h2m3 0h2m4 0h2m0 0h2m6 0h2m-1 0h2m1 0h2m2 0h2m-1 0h2m1 0h2m-1 0h2m3 0h2m0 0h2m1 0h2m5 0h2m0 0h2m3 0h2m-1 0h2m0 0h2m1 0h2m-1 0h2m1 0h2m-1 0h2m-1 0h2m2 0h2m3 0h2m4 0h2m0 0h2m1 0h2m1 0h2m1 0h2m-1 0h2m4 0h2m-1 0h2m5 0h2m3 0h2m2 0h2m9 0h2m2 0h2m-1 0h2m-1 0h2m3 0h2m2 0h2m-1 0h2m3 0h2m-227 1h2m0 0h2m57 0h2m8 0h2m4 0h2m5 0h2m2 0h2m0 0h2m-1 0h2m-1 0h2m9 0h2m3 0h2m5 0h2m1 0h2m0 0h2m1 0h2m-1 0h2m4 0h2m2 0h2m1 0h2m2 0h2m4 0h2m6 0h2m1 0h2m-1 0h2m-1 0h2m4 0h2m1 0h2m-1 0h2m10 0h2m1 0h2m3 0h2m0 0h2m-1 0h2m4 0h2m2 0h2m18 0h2m-1 0h2m-198 1h2m27 0h2m-1 0h2m-1 0h2m2 0h2m1 0h2m12 0h2m0 0h2m8 0h2m3 0h2m-1 0h2m0 0h2m-1 0h2m4 0h2m2 0h2m2 0h2m-1 0h2m1 0h2m1 0h2m0 0h2m0 0h2m12 0h2m-1 0h2m-1 0h2m1 0h2m6 0h2m-1 0h2m4 0h2m-1 0h2m0 0h2m1 0h2m4 0h2m-1 0h2m1 0h2m0 0h2m0 0h2m1 0h2m-1 0h2m0 0h2m7 0h2m3 0h2m3 0h2m4 0h2m2 0h2m3 0h2m-221 1h2m57 0h2m0 0h2m4 0h2m-1 0h2m6 0h2m1 0h2m0 0h2m4 0h2m0 0h2m-1 0h2m1 0h2m-1 0h2m5 0h2m13 0h2m1 0h2m11 0h2m8 0h2m8 0h2m-1 0h2m2 0h2m-1 0h2m-1 0h2m1 0h2m1 0h2m2 0h2m2 0h2m2 0h2m1 0h2m7 0h2m10 0h2m0 0h2m11 0h2m1 0h2m-206 1h2m4 0h2m3 0h2m33 0h2m4 0h2m-1 0h2m3 0h2m3 0h2m-1 0h2m2 0h2m2 0h2m-1 0h2m-1 0h2m2 0h2m0 0h2m0 0h2m1 0h2m-1 0h2m2 0h2m1 0h2m0 0h2m-1 0h2m-1 0h2m2 0h2m-1 0h2m0 0h2m1 0h2m-1 0h2m2 0h2m6 0h2m12 0h2m-1 0h2m1 0h2m2 0h2m-1 0h2m-1 0h2m3 0h2m3 0h2m0 0h2m-1 0h2m-1 0h2m9 0h2m11 0h2m14 0h2m3 0h2m-220 1h2m54 0h2m0 0h2m-1 0h2m7 0h2m0 0h2m0 0h2m5 0h2m0 0h2m3 0h2m-1 0h2m0 0h2m0 0h2m1 0h2m0 0h2m2 0h2m8 0h2m-1 0h2m-1 0h2m9 0h2m4 0h2m2 0h2m13 0h2m0 0h2m-1 0h2m6 0h2m1 0h2m2 0h2m0 0h2m0 0h2m0 0h2m0 0h2m-1 0h2m-1 0h2m6 0h2m-1 0h2m3 0h2m6 0h2m0 0h2m1 0h2m1 0h2m-1 0h2m3 0h2m6 0h2m-222 1h2m12 0h2m-1 0h2m4 0h2m31 0h2m-1 0h2m2 0h2m2 0h2m4 0h2m1 0h2m-1 0h2m-1 0h2m0 0h2m0 0h2m0 0h2m-1 0h2m-1 0h2m-1 0h2m1 0h2m3 0h2m0 0h2m-1 0h2m7 0h2m-1 0h2m2 0h2m1 0h2m0 0h2m-1 0h2m0 0h2m2 0h2m12 0h2m1 0h2m3 0h2m1 0h2m3 0h2m9 0h2m-1 0h2m1 0h2m-1 0h2m2 0h2m-1 0h2m2 0h2m6 0h2m30 0h2m0 0h2m4 0h2m-225 1h2m5 0h2m5 0h2m9 0h2m24 0h2m-1 0h2m1 0h2m0 0h2m7 0h2m2 0h2m-1 0h2m-1 0h2m-1 0h2m0 0h2m2 0h2m-1 0h2m-1 0h2m-1 0h2m-1 0h2m1 0h2m0 0h2m4 0h2m-1 0h2m-1 0h2m2 0h2m-1 0h2m7 0h2m-1 0h2m-1 0h2m2 0h2m5 0h2m3 0h2m19 0h2m3 0h2m-1 0h2m4 0h2m5 0h2m11 0h2m4 0h2m0 0h2m0 0h2m0 0h2m3 0h2m17 0h2m3 0h2m-1 0h2m-207 1h2m32 0h2m2 0h2m2 0h2m4 0h2m7 0h2m2 0h2m1 0h2m-1 0h2m-1 0h2m-1 0h2m-1 0h2m2 0h2m3 0h2m1 0h2m0 0h2m2 0h2m-1 0h2m0 0h2m-1 0h2m5 0h2m5 0h2m-1 0h2m6 0h2m-1 0h2m1 0h2m3 0h2m-1 0h2m5 0h2m2 0h2m3 0h2m2 0h2m4 0h2m-1 0h2m3 0h2m3 0h2m1 0h2m9 0h2m-1 0h2m5 0h2m-1 0h2m5 0h2m-1 0h2m4 0h2m1 0h2m-202 1h2m44 0h2m2 0h2m4 0h2m-1 0h2m1 0h2m-1 0h2m0 0h2m-1 0h2m0 0h2m3 0h2m0 0h2m6 0h2m1 0h2m0 0h2m2 0h2m5 0h2m2 0h2m1 0h2m0 0h2m5 0h2m0 0h2m0 0h2m2 0h2m1 0h2m1 0h2m2 0h2m-1 0h2m0 0h2m3 0h2m0 0h2m-1 0h2m4 0h2m0 0h2m-1 0h2m-1 0h2m-1 0h2m4 0h2m7 0h2m0 0h2m1 0h2m4 0h2m-1 0h2m0 0h2m2 0h2m7 0h2m2 0h2m-167 1h2m0 0h2m-1 0h2m1 0h2m1 0h2m12 0h2m0 0h2m1 0h2m0 0h2m-1 0h2m5 0h2m-1 0h2m2 0h2m-1 0h2m0 0h2m-1 0h2m-1 0h2m0 0h2m0 0h2m0 0h2m0 0h2m0 0h2m4 0h2m4 0h2m5 0h2m1 0h2m1 0h2m4 0h2m0 0h2m2 0h2m-1 0h2m4 0h2m-1 0h2m1 0h2m5 0h2m0 0h2m-1 0h2m2 0h2m5 0h2m-1 0h2m-1 0h2m-1 0h2m1 0h2m1 0h2m0 0h2m-1 0h2m1 0h2m1 0h2m1 0h2m3 0h2m0 0h2m1 0h2m7 0h2m1 0h2m-224 1h2m4 0h2m4 0h2m12 0h2m23 0h2m1 0h2m3 0h2m0 0h2m2 0h2m-1 0h2m-1 0h2m2 0h2m-1 0h2m2 0h2m3 0h2m0 0h2m-1 0h2m0 0h2m3 0h2m0 0h2m1 0h2m-1 0h2m0 0h2m0 0h2m4 0h2m-1 0h2m0 0h2m0 0h2m-1 0h2m0 0h2m-1 0h2m2 0h2m0 0h2m-1 0h2m-1 0h2m-1 0h2m1 0h2m-1 0h2m0 0h2m2 0h2m1 0h2m2 0h2m-1 0h2m-1 0h2m2 0h2m1 0h2m0 0h2m-1 0h2m-1 0h2m1 0h2m1 0h2m0 0h2m3 0h2m-1 0h2m0 0h2m4 0h2m2 0h2m2 0h2m7 0h2m1 0h2m0 0h2m0 0h2m12 0h2m-212 1h2m18 0h2m25 0h2m2 0h2m1 0h2m1 0h2m-1 0h2m-1 0h2m9 0h2m-1 0h2m-1 0h2m0 0h2m0 0h2m0 0h2m-1 0h2m0 0h2m0 0h2m-1 0h2m-1 0h2m-1 0h2m-1 0h2m-1 0h2m-1 0h2m-1 0h2m1 0h2m-1 0h2m1 0h2m0 0h2m2 0h2m-1 0h2m-1 0h2m1 0h2m-1 0h2m-1 0h2m1 0h2m6 0h2m0 0h2m4 0h2m-1 0h2m4 0h2m-1 0h2m2 0h2m0 0h2m7 0h2m6 0h2m12 0h2m1 0h2m4 0h2m0 0h2m10 0h2m-1 0h2m8 0h2m1 0h2m5 0h2m-167 1h2m0 0h2m2 0h2m1 0h2m0 0h2m-1 0h2m-1 0h2m4 0h2m3 0h2m-1 0h2m1 0h2m1 0h2m1 0h2m5 0h2m-1 0h2m0 0h2m-1 0h2m5 0h2m0 0h2m0 0h2m-1 0h2m0 0h2m3 0h2m-1 0h2m5 0h2m3 0h2m-1 0h2m2 0h2m-1 0h2m-1 0h2m6 0h2m2 0h2m1 0h2m2 0h2m10 0h2m-1 0h2m2 0h2m-1 0h2m-1 0h2m-1 0h2m-1 0h2m0 0h2m1 0h2m6 0h2m-1 0h2m0 0h2m4 0h2m0 0h2m3 0h2m4 0h2m-217 1h2m51 0h2m5 0h2m-1 0h2m3 0h2m-1 0h2m1 0h2m0 0h2m2 0h2m0 0h2m0 0h2m7 0h2m-1 0h2m-1 0h2m2 0h2m-1 0h2m1 0h2m1 0h2m6 0h2m0 0h2m7 0h2m10 0h2m2 0h2m2 0h2m16 0h2m0 0h2m0 0h2m6 0h2m18 0h2m1 0h2m2 0h2m3 0h2m1 0h2m3 0h2m0 0h2m3 0h2m-1 0h2m-227 1h2m4 0h2m12 0h2m42 0h2m1 0h2m2 0h2m-1 0h2m-1 0h2m1 0h2m-1 0h2m2 0h2m2 0h2m-1 0h2m-1 0h2m2 0h2m1 0h2m0 0h2m-1 0h2m2 0h2m-1 0h2m-1 0h2m-1 0h2m0 0h2m0 0h2m0 0h2m-1 0h2m-1 0h2m0 0h2m1 0h2m3 0h2m-1 0h2m-1 0h2m-1 0h2m0 0h2m-1 0h2m-1 0h2m-1 0h2m1 0h2m1 0h2m3 0h2m1 0h2m19 0h2m17 0h2m4 0h2m-1 0h2m0 0h2m0 0h2m9 0h2m3 0h2m0 0h2m0 0h2m4 0h2m0 0h2m-218 1h2m59 0h2m-1 0h2m5 0h2m1 0h2m0 0h2m-1 0h2m-1 0h2m2 0h2m3 0h2m4 0h2m0 0h2m0 0h2m-1 0h2m0 0h2m10 0h2m-1 0h2m8 0h2m-1 0h2m1 0h2m-1 0h2m-1 0h2m4 0h2m3 0h2m1 0h2m-1 0h2m3 0h2m1 0h2m4 0h2m-1 0h2m10 0h2m1 0h2m5 0h2m0 0h2m3 0h2m-1 0h2m3 0h2m3 0h2m3 0h2m-204 1h2m49 0h2m0 0h2m4 0h2m-1 0h2m3 0h2m0 0h2m6 0h2m1 0h2m-1 0h2m0 0h2m-1 0h2m-1 0h2m-1 0h2m-1 0h2m0 0h2m-1 0h2m1 0h2m3 0h2m0 0h2m0 0h2m3 0h2m-1 0h2m-1 0h2m4 0h2m-1 0h2m5 0h2m6 0h2m-1 0h2m7 0h2m1 0h2m12 0h2m1 0h2m0 0h2m1 0h2m2 0h2m9 0h2m0 0h2m4 0h2m-1 0h2m1 0h2m8 0h2m4 0h2m1 0h2m0 0h2m1 0h2m1 0h2m0 0h2m-227 1h2m31 0h2m32 0h2m1 0h2m2 0h2m2 0h2m-1 0h2m0 0h2m-1 0h2m-1 0h2m-1 0h2m0 0h2m-1 0h2m0 0h2m-1 0h2m0 0h2m2 0h2m0 0h2m0 0h2m-1 0h2m7 0h2m2 0h2m3 0h2m0 0h2m1 0h2m6 0h2m-1 0h2m4 0h2m0 0h2m2 0h2m3 0h2m0 0h2m0 0h2m2 0h2m-1 0h2m2 0h2m-1 0h2m3 0h2m1 0h2m4 0h2m-1 0h2m-1 0h2m6 0h2m1 0h2m-1 0h2m2 0h2m0 0h2m0 0h2m18 0h2m-188 1h2m24 0h2m1 0h2m0 0h2m4 0h2m1 0h2m2 0h2m3 0h2m8 0h2m11 0h2m6 0h2m4 0h2m5 0h2m0 0h2m-1 0h2m1 0h2m-1 0h2m-1 0h2m11 0h2m12 0h2m0 0h2m0 0h2m1 0h2m2 0h2m-1 0h2m1 0h2m0 0h2m12 0h2m1 0h2m6 0h2m0 0h2m2 0h2m4 0h2m7 0h2m-225 1h2m13 0h2m36 0h2m2 0h2m0 0h2m2 0h2m2 0h2m0 0h2m-1 0h2m-1 0h2m0 0h2m2 0h2m-1 0h2m-1 0h2m-1 0h2m0 0h2m-1 0h2m0 0h2m0 0h2m3 0h2m-1 0h2m3 0h2m3 0h2m3 0h2m-1 0h2m5 0h2m-1 0h2m-1 0h2m-1 0h2m4 0h2m3 0h2m-1 0h2m0 0h2m1 0h2m6 0h2m3 0h2m6 0h2m1 0h2m4 0h2m8 0h2m0 0h2m13 0h2m16 0h2m9 0h2m-221 1h2m-1 0h2m51 0h2m1 0h2m0 0h2m2 0h2m1 0h2m0 0h2m3 0h2m-1 0h2m5 0h2m2 0h2m-1 0h2m6 0h2m0 0h2m0 0h2m-1 0h2m3 0h2m-1 0h2m0 0h2m0 0h2m-1 0h2m1 0h2m3 0h2m0 0h2m0 0h2m11 0h2m6 0h2m2 0h2m8 0h2m2 0h2m2 0h2m2 0h2m-1 0h2m-1 0h2m7 0h2m4 0h2m7 0h2m8 0h2m8 0h2m2 0h2m-203 1h2m28 0h2m2 0h2m-1 0h2m5 0h2m0 0h2m3 0h2m1 0h2m3 0h2m-1 0h2m1 0h2m-1 0h2m-1 0h2m-1 0h2m0 0h2m-1 0h2m2 0h2m-1 0h2m2 0h2m0 0h2m4 0h2m2 0h2m-1 0h2m5 0h2m42 0h2m0 0h2m-1 0h2m3 0h2m5 0h2m3 0h2m4 0h2m5 0h2m4 0h2m1 0h2m-1 0h2m-199 1h2m1 0h2m24 0h2m18 0h2m-1 0h2m-1 0h2m-1 0h2m-1 0h2m-1 0h2m0 0h2m5 0h2m-1 0h2m-1 0h2m6 0h2m0 0h2m0 0h2m-1 0h2m1 0h2m7 0h2m1 0h2m6 0h2m-1 0h2m3 0h2m4 0h2m3 0h2m5 0h2m11 0h2m1 0h2m11 0h2m-1 0h2m-1 0h2m6 0h2m-1 0h2m1 0h2m28 0h2m6 0h2m-211 1h2m9 0h2m16 0h2m14 0h2m1 0h2m3 0h2m1 0h2m5 0h2m0 0h2m0 0h2m-1 0h2m-1 0h2m0 0h2m3 0h2m1 0h2m-1 0h2m-1 0h2m0 0h2m-1 0h2m7 0h2m9 0h2m22 0h2m-1 0h2m14 0h2m1 0h2m2 0h2m16 0h2m9 0h2m0 0h2m12 0h2m11 0h2m-1 0h2m-203 1h2m51 0h2m0 0h2m0 0h2m-1 0h2m0 0h2m2 0h2m-1 0h2m1 0h2m0 0h2m-1 0h2m0 0h2m-1 0h2m-1 0h2m3 0h2m4 0h2m1 0h2m0 0h2m0 0h2m-1 0h2m2 0h2m2 0h2m27 0h2m-1 0h2m7 0h2m3 0h2m1 0h2m12 0h2m4 0h2m-169 1h2m32 0h2m2 0h2m1 0h2m6 0h2m0 0h2m0 0h2m0 0h2m5 0h2m6 0h2m-1 0h2m-1 0h2m2 0h2m1 0h2m-1 0h2m-1 0h2m-1 0h2m-1 0h2m-1 0h2m0 0h2m9 0h2m10 0h2m2 0h2m-1 0h2m8 0h2m12 0h2m-1 0h2m16 0h2m14 0h2m5 0h2m2 0h2m-1 0h2m5 0h2m2 0h2m0 0h2m-164 1h2m-1 0h2m1 0h2m3 0h2m-1 0h2m7 0h2m6 0h2m1 0h2m4 0h2m2 0h2m1 0h2m1 0h2m0 0h2m0 0h2m6 0h2m1 0h2m3 0h2m0 0h2m0 0h2m-1 0h2m6 0h2m-1 0h2m9 0h2m4 0h2m1 0h2m-1 0h2m0 0h2m-1 0h2m1 0h2m3 0h2m0 0h2m8 0h2m1 0h2m4 0h2m5 0h2m5 0h2m5 0h2m8 0h2m5 0h2m-214 1h2m41 0h2m7 0h2m-1 0h2m4 0h2m2 0h2m39 0h2m20 0h2m4 0h2m3 0h2m0 0h2m3 0h2m14 0h2m11 0h2m8 0h2m0 0h2m8 0h2m-1 0h2m5 0h2m1 0h2m-153 1h2m12 0h2m3 0h2m1 0h2m10 0h2m3 0h2m-1 0h2m-1 0h2m11 0h2m2 0h2m3 0h2m8 0h2m2 0h2m2 0h2m0 0h2m1 0h2m24 0h2m4 0h2m19 0h2m12 0h2m-223 1h2m71 0h2m2 0h2m-1 0h2m7 0h2m1 0h2m24 0h2m13 0h2m0 0h2m55 0h2m-186 1h2m18 0h2m5 0h2m34 0h2m0 0h2m9 0h2m4 0h2m3 0h2m5 0h2m4 0h2m34 0h2m-1 0h2m13 0h2m19 0h2m8 0h2m0 0h2m1 0h2m1 0h2m16 0h2m2 0h2m-145 1h2m8 0h2m3 0h2m12 0h2m8 0h2m2 0h2m1 0h2m14 0h2m5 0h2m30 0h2m9 0h2m22 0h2m8 0h2" stroke="#111" stroke-opacity="0.25" stroke-width="2" fill="none"/></g></g>
<g filter="url(#bl)"><g transform="scale(.5)"><path d="M204 338h2m-137 3h2m155 0h2m17 5h2m9 0h2m11 1h2m-2 1h2m-34 1h2m-1 0h2m24 0h2m-25 1h2m20 0h2m9 0h2m1 0h2m-103 1h2m88 0h2m13 0h2m-39 1h2m27 0h2m-1 0h2m-38 1h2m4 0h2m18 0h2m5 0h2m1 0h2m3 0h2m-50 1h2m15 0h2m9 0h2m1 0h2m8 0h2m4 0h2m4 0h2m-47 1h2m4 0h2m2 0h2m11 0h2m14 0h2m2 0h2m-58 1h2m1 0h2m15 0h2m-1 0h2m0 0h2m0 0h2m3 0h2m4 0h2m0 0h2m5 0h2m0 0h2m0 0h2m3 0h2m1 0h2m-19 1h2m6 0h2m0 0h2m4 0h2m-1 0h2m-1 0h2m-86 1h2m13 0h2m1 0h2m15 0h2m10 0h2m2 0h2m-1 0h2m-1 0h2m2 0h2m-1 0h2m0 0h2m-1 0h2m4 0h2m-1 0h2m3 0h2m4 0h2m-1 0h2m0 0h2m-72 1h2m0 0h2m1 0h2m2 0h2m1 0h2m0 0h2m9 0h2m1 0h2m4 0h2m0 0h2m-1 0h2m1 0h2m5 0h2m0 0h2m3 0h2m2 0h2m-1 0h2m0 0h2m1 0h2m0 0h2m-1 0h2m0 0h2m-1 0h2m-1 0h2m-1 0h2m-92 1h2m11 0h2m0 0h2m3 0h2m2 0h2m-1 0h2m4 0h2m4 0h2m2 0h2m0 0h2m1 0h2m3 0h2m4 0h2m-1 0h2m4 0h2m1 0h2m-1 0h2m0 0h2m0 0h2m-1 0h2m0 0h2m0 0h2m-1 0h2m6 0h2m0 0h2m-1 0h2m-203 1h2m116 0h2m1 0h2m10 0h2m10 0h2m8 0h2m-1 0h2m2 0h2m-1 0h2m0 0h2m0 0h2m2 0h2m-1 0h2m0 0h2m1 0h2m1 0h2m0 0h2m0 0h2m-1 0h2m0 0h2m-1 0h2m0 0h2m0 0h2m4 0h2m0 0h2m0 0h2m-1 0h2m-1 0h2m-88 1h2m5 0h2m6 0h2m1 0h2m6 0h2m2 0h2m1 0h2m1 0h2m4 0h2m0 0h2m-1 0h2m4 0h2m1 0h2m0 0h2m1 0h2m0 0h2m0 0h2m1 0h2m-1 0h2m-1 0h2m-1 0h2m1 0h2m0 0h2m0 0h2m2 0h2m-1 0h2m2 0h2m-105 1h2m12 0h2m15 0h2m6 0h2m-1 0h2m-1 0h2m-1 0h2m2 0h2m1 0h2m-1 0h2m-1 0h2m-1 0h2m-1 0h2m0 0h2m0 0h2m0 0h2m-1 0h2m-1 0h2m2 0h2m0 0h2m-1 0h2m1 0h2m-1 0h2m-1 0h2m9 0h2m1 0h2m-1 0h2m2 0h2m-1 0h2m0 0h2m-1 0h2m5 0h2m-99 1h2m11 0h2m11 0h2m1 0h2m-1 0h2m2 0h2m-1 0h2m0 0h2m0 0h2m-1 0h2m4 0h2m5 0h2m1 0h2m3 0h2m3 0h2m-1 0h2m0 0h2m0 0h2m1 0h2m5 0h2m4 0h2m0 0h2m1 0h2m0 0h2m-1 0h2m0 0h2m-1 0h2m-114 1h2m7 0h2m1 0h2m2 0h2m6 0h2m3 0h2m8 0h2m-1 0h2m0 0h2m1 0h2m0 0h2m3 0h2m-1 0h2m1 0h2m1 0h2m1 0h2m-1 0h2m-1 0h2m-1 0h2m-1 0h2m1 0h2m-1 0h2m-1 0h2m0 0h2m-1 0h2m1 0h2m1 0h2m-1 0h2m1 0h2m-1 0h2m-1 0h2m1 0h2m-1 0h2m-1 0h2m-1 0h2m0 0h2m-1 0h2m-1 0h2m1 0h2m-1 0h2m-1 0h2m1 0h2m3 0h2m-89 1h2m3 0h2m-1 0h2m1 0h2m4 0h2m-1 0h2m1 0h2m0 0h2m-1 0h2m5 0h2m0 0h2m0 0h2m1 0h2m0 0h2m-1 0h2m3 0h2m1 0h2m0 0h2m-1 0h2m4 0h2m3 0h2m-1 0h2m8 0h2m0 0h2m2 0h2m0 0h2m1 0h2m-1 0h2m0 0h2m0 0h2m0 0h2m-141 1h2m26 0h2m3 0h2m6 0h2m1 0h2m2 0h2m6 0h2m0 0h2m5 0h2m1 0h2m10 0h2m2 0h2m0 0h2m-1 0h2m3 0h2m-1 0h2m1 0h2m0 0h2m-1 0h2m0 0h2m-1 0h2m0 0h2m0 0h2m1 0h2m-1 0h2m-1 0h2m0 0h2m0 0h2m-1 0h2m-1 0h2m3 0h2m-1 0h2m0 0h2m0 0h2m4 0h2m-1 0h2m0 0h2m-120 1h2m8 0h2m9 0h2m3 0h2m8 0h2m1 0h2m2 0h2m0 0h2m10 0h2m-1 0h2m1 0h2m-1 0h2m4 0h2m5 0h2m-1 0h2m-1 0h2m-1 0h2m0 0h2m4 0h2m-1 0h2m4 0h2m0 0h2m4 0h2m1 0h2m1 0h2m-1 0h2m3 0h2m3 0h2m-122 1h2m3 0h2m7 0h2m13 0h2m-1 0h2m8 0h2m0 0h2m1 0h2m-1 0h2m2 0h2m3 0h2m2 0h2m0 0h2m-1 0h2m0 0h2m-1 0h2m0 0h2m0 0h2m-1 0h2m0 0h2m2 0h2m0 0h2m0 0h2m3 0h2m3 0h2m1 0h2m-1 0h2m2 0h2m-1 0h2m1 0h2m0 0h2m-1 0h2m-1 0h2m-1 0h2m-1 0h2m0 0h2m2 0h2m-1 0h2m1 0h2m-196 1h2m79 0h2m7 0h2m0 0h2m2 0h2m-1 0h2m2 0h2m0 0h2m6 0h2m1 0h2m-1 0h2m-1 0h2m6 0h2m-1 0h2m-1 0h2m1 0h2m1 0h2m1 0h2m-1 0h2m-1 0h2m-1 0h2m1 0h2m0 0h2m-1 0h2m3 0h2m0 0h2m1 0h2m-1 0h2m-1 0h2m1 0h2m-1 0h2m-1 0h2m-1 0h2m1 0h2m1 0h2m3 0h2m5 0h2m0 0h2m1 0h2m1 0h2m-1 0h2m0 0h2m5 0h2m-216 1h2m100 0h2m1 0h2m4 0h2m0 0h2m-1 0h2m3 0h2m0 0h2m-1 0h2m-1 0h2m-1 0h2m-1 0h2m2 0h2m3 0h2m1 0h2m-1 0h2m2 0h2m1 0h2m-1 0h2m-1 0h2m-1 0h2m0 0h2m1 0h2m2 0h2m0 0h2m1 0h2m-1 0h2m4 0h2m7 0h2m-1 0h2m-1 0h2m-1 0h2m-1 0h2m1 0h2m-1 0h2m1 0h2m1 0h2m4 0h2m2 0h2m0 0h2m4 0h2m-139 1h2m9 0h2m4 0h2m12 0h2m5 0h2m0 0h2m-1 0h2m0 0h2m2 0h2m1 0h2m2 0h2m-1 0h2m-1 0h2m4 0h2m0 0h2m1 0h2m0 0h2m4 0h2m0 0h2m0 0h2m-1 0h2m0 0h2m2 0h2m1 0h2m5 0h2m1 0h2m6 0h2m1 0h2m0 0h2m-1 0h2m1 0h2m-1 0h2m3 0h2m2 0h2m5 0h2m4 0h2m1 0h2m-129 1h2m1 0h2m9 0h2m0 0h2m8 0h2m6 0h2m-1 0h2m5 0h2m0 0h2m6 0h2m0 0h2m1 0h2m0 0h2m0 0h2m-1 0h2m7 0h2m2 0h2m1 0h2m0 0h2m1 0h2m-1 0h2m-1 0h2m1 0h2m-1 0h2m-1 0h2m4 0h2m3 0h2m2 0h2m0 0h2m-1 0h2m-1 0h2m1 0h2m1 0h2m2 0h2m-1 0h2m1 0h2m0 0h2m-194 1h2m55 0h2m30 0h2m-1 0h2m-1 0h2m-1 0h2m-1 0h2m1 0h2m-1 0h2m-1 0h2m-1 0h2m1 0h2m1 0h2m-1 0h2m1 0h2m-1 0h2m0 0h2m-1 0h2m-1 0h2m-1 0h2m-1 0h2m-1 0h2m0 0h2m-1 0h2m-1 0h2m0 0h2m1 0h2m3 0h2m2 0h2m1 0h2m8 0h2m-1 0h2m2 0h2m1 0h2m1 0h2m0 0h2m-1 0h2m-1 0h2m4 0h2m0 0h2m0 0h2m0 0h2m2 0h2m-1 0h2m-1 0h2m6 0h2m1 0h2m-131 1h2m0 0h2m0 0h2m2 0h2m3 0h2m4 0h2m0 0h2m7 0h2m-1 0h2m4 0h2m-1 0h2m3 0h2m-1 0h2m0 0h2m-1 0h2m-1 0h2m0 0h2m0 0h2m0 0h2m-1 0h2m-1 0h2m0 0h2m-1 0h2m4 0h2m4 0h2m1 0h2m-1 0h2m-1 0h2m4 0h2m2 0h2m7 0h2m5 0h2m6 0h2m8 0h2m1 0h2m2 0h2m-134 1h2m4 0h2m1 0h2m0 0h2m2 0h2m-1 0h2m1 0h2m-1 0h2m-1 0h2m0 0h2m-1 0h2m1 0h2m0 0h2m2 0h2m1 0h2m3 0h2m6 0h2m2 0h2m-1 0h2m-1 0h2m0 0h2m-1 0h2m-1 0h2m4 0h2m2 0h2m4 0h2m-1 0h2m5 0h2m1 0h2m10 0h2m3 0h2m2 0h2m1 0h2m0 0h2m-1 0h2m1 0h2m0 0h2m15 0h2m-130 1h2m1 0h2m1 0h2m4 0h2m3 0h2m-1 0h2m2 0h2m0 0h2m0 0h2m0 0h2m2 0h2m0 0h2m-1 0h2m0 0h2m3 0h2m0 0h2m0 0h2m-1 0h2m1 0h2m-1 0h2m-1 0h2m0 0h2m-1 0h2m4 0h2m-1 0h2m2 0h2m-1 0h2m0 0h2m0 0h2m0 0h2m1 0h2m2 0h2m9 0h2m-1 0h2m7 0h2m-1 0h2m-181 1h2m2 0h2m60 0h2m4 0h2m6 0h2m-1 0h2m-1 0h2m1 0h2m-1 0h2m-1 0h2m-1 0h2m7 0h2m4 0h2m2 0h2m0 0h2m1 0h2m1 0h2m-1 0h2m4 0h2m1 0h2m-1 0h2m-1 0h2m-1 0h2m-1 0h2m-1 0h2m0 0h2m1 0h2m7 0h2m0 0h2m-1 0h2m1 0h2m2 0h2m-1 0h2m5 0h2m2 0h2m-1 0h2m10 0h2m5 0h2m12 0h2m-129 1h2m3 0h2m0 0h2m0 0h2m5 0h2m-1 0h2m2 0h2m0 0h2m-1 0h2m1 0h2m2 0h2m-1 0h2m1 0h2m-1 0h2m0 0h2m0 0h2m1 0h2m8 0h2m8 0h2m3 0h2m0 0h2m-1 0h2m0 0h2m0 0h2m3 0h2m5 0h2m4 0h2m2 0h2m5 0h2m0 0h2m2 0h2m-188 1h2m6 0h2m62 0h2m1 0h2m0 0h2m0 0h2m-1 0h2m0 0h2m0 0h2m2 0h2m-1 0h2m0 0h2m-1 0h2m0 0h2m0 0h2m-1 0h2m0 0h2m2 0h2m0 0h2m-1 0h2m8 0h2m2 0h2m1 0h2m6 0h2m3 0h2m0 0h2m2 0h2m1 0h2m1 0h2m-1 0h2m0 0h2m3 0h2m1 0h2m3 0h2m1 0h2m1 0h2m23 0h2m0 0h2m5 0h2m-198 1h2m57 0h2m6 0h2m-1 0h2m3 0h2m2 0h2m4 0h2m4 0h2m-1 0h2m-1 0h2m1 0h2m3 0h2m1 0h2m-1 0h2m-1 0h2m11 0h2m-1 0h2m0 0h2m-1 0h2m0 0h2m4 0h2m2 0h2m8 0h2m1 0h2m20 0h2m6 0h2m1 0h2m-186 1h2m50 0h2m-1 0h2m5 0h2m0 0h2m3 0h2m1 0h2m0 0h2m1 0h2m-1 0h2m1 0h2m0 0h2m2 0h2m-1 0h2m-1 0h2m0 0h2m-1 0h2m0 0h2m-1 0h2m-1 0h2m0 0h2m-1 0h2m3 0h2m-1 0h2m4 0h2m3 0h2m1 0h2m0 0h2m-1 0h2m2 0h2m6 0h2m4 0h2m2 0h2m-1 0h2m2 0h2m12 0h2m-110 1h2m7 0h2m1 0h2m6 0h2m5 0h2m4 0h2m-1 0h2m2 0h2m0 0h2m0 0h2m0 0h2m1 0h2m3 0h2m-1 0h2m3 0h2m9 0h2m3 0h2m7 0h2m1 0h2m0 0h2m-1 0h2m23 0h2m4 0h2m27 0h2m-209 1h2m4 0h2m7 0h2m41 0h2m2 0h2m1 0h2m-1 0h2m2 0h2m0 0h2m2 0h2m3 0h2m-1 0h2m1 0h2m0 0h2m0 0h2m2 0h2m-1 0h2m0 0h2m0 0h2m0 0h2m0 0h2m0 0h2m1 0h2m2 0h2m7 0h2m-1 0h2m0 0h2m-1 0h2m5 0h2m0 0h2m7 0h2m8 0h2m0 0h2m4 0h2m-154 1h2m0 0h2m35 0h2m6 0h2m0 0h2m4 0h2m2 0h2m3 0h2m-1 0h2m2 0h2m-1 0h2m3 0h2m-1 0h2m-1 0h2m7 0h2m0 0h2m-1 0h2m1 0h2m1 0h2m-1 0h2m7 0h2m-1 0h2m5 0h2m0 0h2m-1 0h2m3 0h2m1 0h2m-1 0h2m2 0h2m5 0h2m4 0h2m7 0h2m4 0h2m3 0h2m9 0h2m1 0h2m-187 1h2m3 0h2m7 0h2m39 0h2m0 0h2m1 0h2m0 0h2m0 0h2m0 0h2m1 0h2m-1 0h2m2 0h2m1 0h2m3 0h2m4 0h2m0 0h2m1 0h2m7 0h2m2 0h2m0 0h2m0 0h2m-1 0h2m0 0h2m4 0h2m-1 0h2m6 0h2m2 0h2m10 0h2m1 0h2m17 0h2m23 0h2m-184 1h2m38 0h2m2 0h2m3 0h2m0 0h2m0 0h2m0 0h2m-1 0h2m1 0h2m0 0h2m-1 0h2m-1 0h2m-1 0h2m-1 0h2m0 0h2m-1 0h2m-1 0h2m-1 0h2m-1 0h2m-1 0h2m4 0h2m-1 0h2m-1 0h2m0 0h2m-1 0h2m-1 0h2m1 0h2m0 0h2m-1 0h2m1 0h2m0 0h2m6 0h2m6 0h2m23 0h2m7 0h2m0 0h2m11 0h2m0 0h2m5 0h2m-182 1h2m3 0h2m2 0h2m2 0h2m35 0h2m1 0h2m-1 0h2m4 0h2m0 0h2m-1 0h2m-1 0h2m-1 0h2m1 0h2m-1 0h2m-1 0h2m0 0h2m0 0h2m0 0h2m1 0h2m-1 0h2m0 0h2m0 0h2m3 0h2m0 0h2m-1 0h2m-1 0h2m12 0h2m0 0h2m0 0h2m1 0h2m0 0h2m1 0h2m2 0h2m2 0h2m9 0h2m1 0h2m19 0h2m2 0h2m-156 1h2m0 0h2m27 0h2m8 0h2m1 0h2m-1 0h2m-1 0h2m0 0h2m-1 0h2m0 0h2m-1 0h2m0 0h2m-1 0h2m0 0h2m0 0h2m0 0h2m0 0h2m0 0h2m-1 0h2m-1 0h2m-1 0h2m-1 0h2m-1 0h2m-1 0h2m2 0h2m-1 0h2m-1 0h2m0 0h2m2 0h2m-1 0h2m3 0h2m10 0h2m2 0h2m35 0h2m26 0h2m-178 1h2m4 0h2m1 0h2m35 0h2m-1 0h2m1 0h2m-1 0h2m0 0h2m2 0h2m-1 0h2m2 0h2m-1 0h2m-1 0h2m0 0h2m-1 0h2m-1 0h2m-1 0h2m2 0h2m-1 0h2m0 0h2m-1 0h2m0 0h2m-1 0h2m1 0h2m-1 0h2m-1 0h2m2 0h2m10 0h2m4 0h2m-1 0h2m6 0h2m1 0h2m22 0h2m22 0h2m-165 1h2m-1 0h2m0 0h2m-1 0h2m5 0h2m22 0h2m1 0h2m-1 0h2m0 0h2m-1 0h2m0 0h2m4 0h2m-1 0h2m-1 0h2m0 0h2m-1 0h2m0 0h2m0 0h2m-1 0h2m0 0h2m-1 0h2m-1 0h2m-1 0h2m2 0h2m3 0h2m0 0h2m2 0h2m-1 0h2m-1 0h2m1 0h2m13 0h2m1 0h2m0 0h2m10 0h2m10 0h2m31 0h2m28 0h2m-194 1h2m11 0h2m8 0h2m14 0h2m-1 0h2m0 0h2m2 0h2m0 0h2m-1 0h2m-1 0h2m0 0h2m-1 0h2m-1 0h2m-1 0h2m-1 0h2m0 0h2m0 0h2m-1 0h2m-1 0h2m-1 0h2m0 0h2m-1 0h2m0 0h2m0 0h2m-1 0h2m7 0h2m2 0h2m7 0h2m29 0h2m-134 1h2m5 0h2m-1 0h2m-1 0h2m28 0h2m1 0h2m0 0h2m-1 0h2m0 0h2m-1 0h2m-1 0h2m3 0h2m-1 0h2m-1 0h2m0 0h2m-1 0h2m-1 0h2m2 0h2m-1 0h2m0 0h2m-1 0h2m-1 0h2m0 0h2m0 0h2m1 0h2m-1 0h2m-1 0h2m2 0h2m1 0h2m-1 0h2m1 0h2m1 0h2m0 0h2m0 0h2m0 0h2m10 0h2m43 0h2m-150 1h2m0 0h2m-1 0h2m-1 0h2m-1 0h2m-1 0h2m29 0h2m0 0h2m0 0h2m1 0h2m0 0h2m-1 0h2m2 0h2m-1 0h2m-1 0h2m-1 0h2m-1 0h2m1 0h2m0 0h2m1 0h2m1 0h2m-1 0h2m1 0h2m-1 0h2m-1 0h2m-1 0h2m0 0h2m1 0h2m-1 0h2m-1 0h2m2 0h2m7 0h2m15 0h2m-1 0h2m31 0h2m34 0h2m5 0h2m-189 1h2m32 0h2m0 0h2m0 0h2m-1 0h2m-1 0h2m-1 0h2m-1 0h2m-1 0h2m-1 0h2m0 0h2m-1 0h2m2 0h2m-1 0h2m0 0h2m-1 0h2m-1 0h2m0 0h2m-1 0h2m-1 0h2m-1 0h2m0 0h2m0 0h2m4 0h2m2 0h2m3 0h2m-1 0h2m2 0h2m7 0h2m1 0h2m9 0h2m19 0h2m5 0h2m18 0h2m-163 1h2m0 0h2m2 0h2m-1 0h2m29 0h2m-1 0h2m0 0h2m-1 0h2m-1 0h2m1 0h2m-1 0h2m-1 0h2m0 0h2m1 0h2m1 0h2m-1 0h2m0 0h2m-1 0h2m0 0h2m-1 0h2m2 0h2m-1 0h2m1 0h2m3 0h2m0 0h2m3 0h2m12 0h2m8 0h2m-1 0h2m12 0h2m-118 1h2m27 0h2m4 0h2m0 0h2m-1 0h2m-1 0h2m-1 0h2m-1 0h2m-1 0h2m-1 0h2m-1 0h2m-1 0h2m-1 0h2m-1 0h2m-1 0h2m1 0h2m-1 0h2m-1 0h2m0 0h2m0 0h2m1 0h2m-1 0h2m-1 0h2m-1 0h2m-1 0h2m-1 0h2m-1 0h2m0 0h2m7 0h2m29 0h2m-111 1h2m18 0h2m4 0h2m6 0h2m-1 0h2m0 0h2m0 0h2m-1 0h2m-1 0h2m-1 0h2m0 0h2m-1 0h2m0 0h2m0 0h2m-1 0h2m-1 0h2m0 0h2m0 0h2m1 0h2m8 0h2m16 0h2m0 0h2m-1 0h2m-94 1h2m4 0h2m17 0h2m5 0h2m0 0h2m2 0h2m0 0h2m-1 0h2m0 0h2m-1 0h2m1 0h2m-1 0h2m-1 0h2m-1 0h2m-1 0h2m-1 0h2m-1 0h2m-1 0h2m1 0h2m-1 0h2m-1 0h2m0 0h2m-1 0h2m2 0h2m-1 0h2m3 0h2m0 0h2m9 0h2m-82 1h2m27 0h2m-1 0h2m0 0h2m0 0h2m0 0h2m-1 0h2m-1 0h2m-1 0h2m-1 0h2m-1 0h2m-1 0h2m-1 0h2m2 0h2m-1 0h2m-1 0h2m-1 0h2m-1 0h2m2 0h2m-1 0h2m-1 0h2m8 0h2m5 0h2m0 0h2m1 0h2m-96 1h2m13 0h2m2 0h2m13 0h2m3 0h2m1 0h2m-1 0h2m-1 0h2m0 0h2m-1 0h2m-1 0h2m1 0h2m0 0h2m0 0h2m0 0h2m-1 0h2m-1 0h2m-1 0h2m-1 0h2m0 0h2m-1 0h2m-1 0h2m0 0h2m-1 0h2m1 0h2m5 0h2m0 0h2m1 0h2m2 0h2m38 0h2m-116 1h2m21 0h2m3 0h2m0 0h2m-1 0h2m-1 0h2m1 0h2m-1 0h2m-1 0h2m1 0h2m0 0h2m-1 0h2m0 0h2m-1 0h2m-1 0h2m0 0h2m1 0h2m0 0h2m-1 0h2m0 0h2m-1 0h2m7 0h2m-1 0h2m-70 1h2m5 0h2m11 0h2m2 0h2m-1 0h2m-1 0h2m-1 0h2m0 0h2m1 0h2m1 0h2m-1 0h2m0 0h2m-1 0h2m-1 0h2m-1 0h2m0 0h2m-1 0h2m0 0h2m0 0h2m-1 0h2m1 0h2m-1 0h2m0 0h2m2 0h2m-1 0h2m2 0h2m4 0h2m-1 0h2m31 0h2m-103 1h2m19 0h2m-1 0h2m1 0h2m-1 0h2m-1 0h2m0 0h2m-1 0h2m-1 0h2m-1 0h2m-1 0h2m-1 0h2m-1 0h2m-1 0h2m-1 0h2m-1 0h2m0 0h2m0 0h2m0 0h2m0 0h2m-1 0h2m0 0h2m1 0h2m1 0h2m4 0h2m0 0h2m6 0h2m44 0h2m-122 1h2m28 0h2m1 0h2m-1 0h2m0 0h2m0 0h2m-1 0h2m3 0h2m0 0h2m-1 0h2m-1 0h2m4 0h2m9 0h2m-68 1h2m25 0h2m2 0h2m-1 0h2m-1 0h2m-1 0h2m0 0h2m0 0h2m2 0h2m-1 0h2m-1 0h2m1 0h2m-1 0h2m1 0h2m4 0h2m0 0h2m45 0h2m-82 1h2m0 0h2m-1 0h2m-1 0h2m2 0h2m0 0h2m4 0h2m2 0h2m3 0h2m1 0h2m0 0h2m4 0h2m0 0h2m3 0h2m43 0h2m34 0h2m-152 1h2m2 0h2m20 0h2m-1 0h2m0 0h2m0 0h2m0 0h2m0 0h2m-1 0h2m0 0h2m-1 0h2m-1 0h2m0 0h2m-1 0h2m4 0h2m-1 0h2m7 0h2m3 0h2m-67 1h2m20 0h2m0 0h2m-1 0h2m2 0h2m0 0h2m2 0h2m-1 0h2m4 0h2m-1 0h2m1 0h2m2 0h2m13 0h2m4 0h2m3 0h2m-88 1h2m31 0h2m0 0h2m-1 0h2m2 0h2m2 0h2m-1 0h2m-1 0h2m-1 0h2m0 0h2m1 0h2m11 0h2m-62 1h2m16 0h2m7 0h2m1 0h2m5 0h2m-1 0h2m-1 0h2m0 0h2m-1 0h2m2 0h2m0 0h2m5 0h2m1 0h2m8 0h2m9 0h2m-69 1h2m15 0h2m-1 0h2m0 0h2m1 0h2m1 0h2m-1 0h2m-1 0h2m2 0h2m0 0h2m-1 0h2m-1 0h2m4 0h2m2 0h2m0 0h2m146 0h2m-183 1h2m-1 0h2m8 0h2m0 0h2m4 0h2m19 0h2m9 0h2m-67 1h2m11 0h2m0 0h2m5 0h2m0 0h2m-1 0h2m-1 0h2m6 0h2m0 0h2m67 0h2m-91 1h2m5 0h2m1 0h2m3 0h2m-1 0h2m2 0h2m3 0h2m0 0h2m3 0h2m3 0h2m5 0h2m5 0h2m-55 1h2m2 0h2m-1 0h2m1 0h2m3 0h2m7 0h2m-1 0h2m12 0h2m11 0h2m-52 1h2m-1 0h2m-1 0h2m0 0h2m8 0h2m2 0h2m109 0h2m-127 1h2m0 0h2m5 0h2m5 0h2m-20 1h2m17 0h2m2 0h2m16 0h2m-40 1h2m-5 1h2m-1 0h2m5 0h2m3 0h2m3 0h2m-19 1h2m4 1h2m7 1h2m-1 0h2m8 0h2m-21 1h2m0 0h2m15 1h2m-28 2h2m1 2h2m5 1h2m151 4h2m-140 5h2m-45 2h2m181 1h2m-185 3h2m34 2h2m-24 2h2m5 2h2m-41 3h2" stroke="#111" stroke-opacity="0.25" stroke-width="2" fill="none"/><path d="M87 336h2m105 4h2m-116 4h2m187 1h2m6 0h2m-105 1h2m94 1h2m-13 1h2m21 0h2m-31 1h2m-23 1h2m47 0h2m-23 1h2m20 0h2m-43 1h2m14 0h2m6 0h2m-1 0h2m4 0h2m1 0h2m-66 1h2m16 0h2m25 0h2m15 0h2m3 0h2m-1 0h2m2 0h2m-45 1h2m8 0h2m3 0h2m8 0h2m0 0h2m3 0h2m-1 0h2m1 0h2m1 0h2m-35 1h2m12 0h2m-1 0h2m-1 0h2m-1 0h2m5 0h2m-1 0h2m-1 0h2m0 0h2m1 0h2m1 0h2m-97 1h2m15 0h2m21 0h2m1 0h2m0 0h2m11 0h2m0 0h2m3 0h2m1 0h2m9 0h2m-1 0h2m-1 0h2m2 0h2m-1 0h2m1 0h2m-1 0h2m1 0h2m0 0h2m-1 0h2m0 0h2m-1 0h2m-64 1h2m-1 0h2m0 0h2m0 0h2m5 0h2m22 0h2m6 0h2m0 0h2m4 0h2m4 0h2m1 0h2m-1 0h2m-73 1h2m7 0h2m6 0h2m4 0h2m8 0h2m2 0h2m0 0h2m-1 0h2m5 0h2m-1 0h2m0 0h2m-1 0h2m0 0h2m4 0h2m3 0h2m0 0h2m0 0h2m-1 0h2m-1 0h2m-88 1h2m18 0h2m23 0h2m3 0h2m-1 0h2m3 0h2m3 0h2m1 0h2m-1 0h2m4 0h2m4 0h2m4 0h2m-1 0h2m-1 0h2m-95 1h2m5 0h2m6 0h2m3 0h2m7 0h2m1 0h2m9 0h2m-1 0h2m0 0h2m0 0h2m1 0h2m0 0h2m-1 0h2m-1 0h2m-1 0h2m1 0h2m-1 0h2m1 0h2m1 0h2m7 0h2m-1 0h2m10 0h2m2 0h2m-1 0h2m0 0h2m-100 1h2m32 0h2m3 0h2m4 0h2m0 0h2m-1 0h2m-1 0h2m-1 0h2m0 0h2m0 0h2m-1 0h2m3 0h2m10 0h2m0 0h2m-1 0h2m1 0h2m-1 0h2m3 0h2m0 0h2m-1 0h2m0 0h2m-1 0h2m0 0h2m-1 0h2m2 0h2m-1 0h2m-98 1h2m2 0h2m8 0h2m5 0h2m7 0h2m0 0h2m0 0h2m8 0h2m-1 0h2m5 0h2m-1 0h2m-1 0h2m0 0h2m1 0h2m0 0h2m4 0h2m-1 0h2m0 0h2m-1 0h2m-1 0h2m0 0h2m-1 0h2m-1 0h2m-1 0h2m0 0h2m-1 0h2m-1 0h2m1 0h2m1 0h2m0 0h2m0 0h2m2 0h2m-114 1h2m18 0h2m-1 0h2m4 0h2m10 0h2m0 0h2m-1 0h2m-1 0h2m-1 0h2m4 0h2m4 0h2m9 0h2m1 0h2m0 0h2m-1 0h2m1 0h2m0 0h2m1 0h2m0 0h2m2 0h2m2 0h2m1 0h2m0 0h2m0 0h2m-1 0h2m0 0h2m2 0h2m4 0h2m0 0h2m-198 1h2m88 0h2m4 0h2m15 0h2m9 0h2m1 0h2m-1 0h2m-1 0h2m5 0h2m-1 0h2m1 0h2m5 0h2m-1 0h2m0 0h2m2 0h2m1 0h2m0 0h2m2 0h2m0 0h2m-1 0h2m3 0h2m0 0h2m2 0h2m-1 0h2m0 0h2m-1 0h2m6 0h2m3 0h2m-1 0h2m-1 0h2m-114 1h2m11 0h2m6 0h2m10 0h2m1 0h2m-1 0h2m0 0h2m2 0h2m3 0h2m3 0h2m5 0h2m1 0h2m-1 0h2m-1 0h2m0 0h2m-1 0h2m0 0h2m0 0h2m8 0h2m-1 0h2m2 0h2m4 0h2m2 0h2m0 0h2m0 0h2m0 0h2m-1 0h2m0 0h2m-201 1h2m95 0h2m13 0h2m2 0h2m2 0h2m1 0h2m2 0h2m5 0h2m-1 0h2m4 0h2m3 0h2m-1 0h2m-1 0h2m-1 0h2m1 0h2m0 0h2m1 0h2m2 0h2m-1 0h2m2 0h2m1 0h2m-1 0h2m-1 0h2m0 0h2m-1 0h2m-1 0h2m-1 0h2m1 0h2m-1 0h2m2 0h2m4 0h2m-1 0h2m-1 0h2m-1 0h2m0 0h2m-1 0h2m-1 0h2m-1 0h2m0 0h2m-1 0h2m1 0h2m-1 0h2m-197 1h2m91 0h2m9 0h2m1 0h2m6 0h2m0 0h2m2 0h2m-1 0h2m4 0h2m-1 0h2m-1 0h2m-1 0h2m-1 0h2m3 0h2m-1 0h2m-1 0h2m1 0h2m1 0h2m-1 0h2m1 0h2m-1 0h2m0 0h2m2 0h2m2 0h2m-1 0h2m0 0h2m-1 0h2m1 0h2m-1 0h2m-1 0h2m0 0h2m-1 0h2m2 0h2m4 0h2m-1 0h2m-1 0h2m0 0h2m3 0h2m0 0h2m-107 1h2m2 0h2m1 0h2m10 0h2m-1 0h2m11 0h2m2 0h2m4 0h2m4 0h2m0 0h2m-1 0h2m-1 0h2m2 0h2m2 0h2m-1 0h2m-1 0h2m7 0h2m1 0h2m-1 0h2m2 0h2m-1 0h2m0 0h2m0 0h2m-1 0h2m3 0h2m0 0h2m1 0h2m-1 0h2m1 0h2m-1 0h2m-1 0h2m-1 0h2m-1 0h2m-126 1h2m10 0h2m2 0h2m6 0h2m2 0h2m2 0h2m2 0h2m1 0h2m0 0h2m0 0h2m11 0h2m1 0h2m2 0h2m-1 0h2m1 0h2m2 0h2m-1 0h2m0 0h2m-1 0h2m0 0h2m3 0h2m3 0h2m0 0h2m-1 0h2m2 0h2m3 0h2m3 0h2m6 0h2m1 0h2m-1 0h2m-1 0h2m2 0h2m-203 1h2m69 0h2m14 0h2m0 0h2m5 0h2m6 0h2m3 0h2m3 0h2m-1 0h2m3 0h2m1 0h2m0 0h2m0 0h2m2 0h2m0 0h2m0 0h2m-1 0h2m3 0h2m0 0h2m3 0h2m4 0h2m-1 0h2m0 0h2m2 0h2m-1 0h2m0 0h2m1 0h2m-1 0h2m-1 0h2m2 0h2m1 0h2m2 0h2m0 0h2m-1 0h2m1 0h2m-1 0h2m1 0h2m0 0h2m0 0h2m-1 0h2m-1 0h2m-1 0h2m1 0h2m-130 1h2m5 0h2m19 0h2m0 0h2m0 0h2m-1 0h2m-1 0h2m1 0h2m4 0h2m2 0h2m1 0h2m0 0h2m1 0h2m3 0h2m-1 0h2m-1 0h2m8 0h2m-1 0h2m-1 0h2m-1 0h2m-1 0h2m-1 0h2m2 0h2m0 0h2m1 0h2m-1 0h2m-1 0h2m0 0h2m2 0h2m-1 0h2m1 0h2m-1 0h2m1 0h2m1 0h2m5 0h2m-1 0h2m1 0h2m4 0h2m2 0h2m4 0h2m-108 1h2m1 0h2m1 0h2m-1 0h2m0 0h2m6 0h2m-1 0h2m-1 0h2m-1 0h2m2 0h2m2 0h2m0 0h2m0 0h2m1 0h2m-1 0h2m-1 0h2m4 0h2m0 0h2m-1 0h2m-1 0h2m-1 0h2m-1 0h2m5 0h2m-1 0h2m-1 0h2m3 0h2m-1 0h2m-1 0h2m-1 0h2m-1 0h2m2 0h2m1 0h2m0 0h2m1 0h2m4 0h2m-1 0h2m-1 0h2m-1 0h2m1 0h2m0 0h2m1 0h2m1 0h2m0 0h2m-1 0h2m1 0h2m1 0h2m-203 1h2m64 0h2m3 0h2m9 0h2m2 0h2m0 0h2m-1 0h2m7 0h2m4 0h2m-1 0h2m0 0h2m-1 0h2m4 0h2m1 0h2m-1 0h2m-1 0h2m2 0h2m2 0h2m-1 0h2m0 0h2m-1 0h2m0 0h2m-1 0h2m-1 0h2m0 0h2m-1 0h2m0 0h2m0 0h2m0 0h2m-1 0h2m-1 0h2m-1 0h2m0 0h2m1 0h2m-1 0h2m0 0h2m-1 0h2m2 0h2m0 0h2m-1 0h2m3 0h2m7 0h2m-1 0h2m2 0h2m1 0h2m2 0h2m3 0h2m2 0h2m0 0h2m-210 1h2m64 0h2m19 0h2m-1 0h2m8 0h2m-1 0h2m-1 0h2m0 0h2m5 0h2m4 0h2m-1 0h2m3 0h2m0 0h2m0 0h2m2 0h2m-1 0h2m-1 0h2m-1 0h2m-1 0h2m1 0h2m-1 0h2m0 0h2m0 0h2m0 0h2m1 0h2m-1 0h2m0 0h2m0 0h2m1 0h2m-1 0h2m0 0h2m-1 0h2m-1 0h2m-1 0h2m3 0h2m1 0h2m-1 0h2m8 0h2m-1 0h2m1 0h2m5 0h2m-1 0h2m1 0h2m1 0h2m1 0h2m7 0h2m-211 1h2m48 0h2m26 0h2m13 0h2m-1 0h2m3 0h2m1 0h2m0 0h2m-1 0h2m-1 0h2m0 0h2m-1 0h2m5 0h2m-1 0h2m2 0h2m0 0h2m-1 0h2m0 0h2m3 0h2m-1 0h2m-1 0h2m-1 0h2m-1 0h2m-1 0h2m0 0h2m2 0h2m-1 0h2m0 0h2m5 0h2m-1 0h2m1 0h2m-1 0h2m0 0h2m2 0h2m6 0h2m1 0h2m-1 0h2m9 0h2m4 0h2m7 0h2m3 0h2m-213 1h2m19 0h2m50 0h2m15 0h2m3 0h2m0 0h2m2 0h2m3 0h2m3 0h2m2 0h2m1 0h2m0 0h2m0 0h2m-1 0h2m-1 0h2m2 0h2m0 0h2m0 0h2m1 0h2m0 0h2m2 0h2m-1 0h2m4 0h2m6 0h2m0 0h2m-1 0h2m-1 0h2m-1 0h2m2 0h2m-1 0h2m-1 0h2m1 0h2m0 0h2m6 0h2m-1 0h2m5 0h2m-1 0h2m4 0h2m1 0h2m9 0h2m0 0h2m-135 1h2m6 0h2m-1 0h2m4 0h2m1 0h2m3 0h2m-1 0h2m1 0h2m-1 0h2m-1 0h2m-1 0h2m0 0h2m2 0h2m0 0h2m4 0h2m1 0h2m0 0h2m4 0h2m0 0h2m1 0h2m4 0h2m0 0h2m3 0h2m0 0h2m-1 0h2m3 0h2m1 0h2m-1 0h2m6 0h2m6 0h2m14 0h2m-1 0h2m-1 0h2m3 0h2m-150 1h2m23 0h2m1 0h2m0 0h2m3 0h2m-1 0h2m0 0h2m-1 0h2m-1 0h2m1 0h2m2 0h2m1 0h2m0 0h2m1 0h2m0 0h2m1 0h2m3 0h2m1 0h2m3 0h2m2 0h2m-1 0h2m2 0h2m-1 0h2m2 0h2m1 0h2m-1 0h2m1 0h2m13 0h2m1 0h2m2 0h2m1 0h2m2 0h2m4 0h2m0 0h2m3 0h2m-1 0h2m0 0h2m4 0h2m8 0h2m-1 0h2m1 0h2m-195 1h2m45 0h2m5 0h2m4 0h2m5 0h2m8 0h2m7 0h2m1 0h2m1 0h2m1 0h2m0 0h2m3 0h2m3 0h2m-1 0h2m1 0h2m-1 0h2m2 0h2m-1 0h2m0 0h2m7 0h2m-1 0h2m-1 0h2m-1 0h2m2 0h2m3 0h2m6 0h2m11 0h2m28 0h2m-210 1h2m58 0h2m0 0h2m0 0h2m4 0h2m3 0h2m0 0h2m3 0h2m0 0h2m-1 0h2m1 0h2m0 0h2m0 0h2m5 0h2m-1 0h2m0 0h2m2 0h2m2 0h2m-1 0h2m0 0h2m1 0h2m1 0h2m-1 0h2m1 0h2m0 0h2m1 0h2m1 0h2m0 0h2m1 0h2m2 0h2m1 0h2m4 0h2m-1 0h2m6 0h2m2 0h2m4 0h2m21 0h2m2 0h2m-185 1h2m3 0h2m44 0h2m9 0h2m-1 0h2m-1 0h2m2 0h2m-1 0h2m0 0h2m3 0h2m3 0h2m1 0h2m5 0h2m1 0h2m0 0h2m4 0h2m4 0h2m-1 0h2m3 0h2m-1 0h2m3 0h2m1 0h2m-1 0h2m-1 0h2m-1 0h2m0 0h2m8 0h2m2 0h2m-1 0h2m7 0h2m2 0h2m2 0h2m3 0h2m1 0h2m12 0h2m-1 0h2m-181 1h2m41 0h2m4 0h2m-1 0h2m-1 0h2m1 0h2m2 0h2m6 0h2m0 0h2m1 0h2m1 0h2m3 0h2m1 0h2m-1 0h2m1 0h2m12 0h2m9 0h2m0 0h2m-1 0h2m0 0h2m0 0h2m1 0h2m-1 0h2m-1 0h2m0 0h2m10 0h2m2 0h2m3 0h2m-1 0h2m0 0h2m12 0h2m4 0h2m-184 1h2m5 0h2m41 0h2m12 0h2m2 0h2m0 0h2m-1 0h2m-1 0h2m5 0h2m-1 0h2m1 0h2m1 0h2m-1 0h2m0 0h2m-1 0h2m0 0h2m-1 0h2m-1 0h2m0 0h2m1 0h2m2 0h2m-1 0h2m-1 0h2m-1 0h2m2 0h2m2 0h2m1 0h2m-1 0h2m10 0h2m35 0h2m0 0h2m-168 1h2m47 0h2m-1 0h2m1 0h2m-1 0h2m3 0h2m-1 0h2m1 0h2m1 0h2m0 0h2m0 0h2m0 0h2m-1 0h2m3 0h2m0 0h2m0 0h2m6 0h2m-1 0h2m0 0h2m-1 0h2m11 0h2m2 0h2m2 0h2m-1 0h2m11 0h2m14 0h2m8 0h2m-141 1h2m27 0h2m10 0h2m2 0h2m1 0h2m1 0h2m15 0h2m-1 0h2m4 0h2m0 0h2m1 0h2m1 0h2m1 0h2m1 0h2m-1 0h2m-1 0h2m-1 0h2m3 0h2m9 0h2m0 0h2m13 0h2m7 0h2m10 0h2m7 0h2m2 0h2m8 0h2m-184 1h2m48 0h2m1 0h2m0 0h2m0 0h2m1 0h2m1 0h2m-1 0h2m-1 0h2m-1 0h2m3 0h2m1 0h2m-1 0h2m-1 0h2m5 0h2m1 0h2m0 0h2m0 0h2m0 0h2m0 0h2m6 0h2m-1 0h2m0 0h2m2 0h2m8 0h2m6 0h2m0 0h2m2 0h2m3 0h2m4 0h2m55 0h2m-203 1h2m1 0h2m38 0h2m-1 0h2m9 0h2m-1 0h2m-1 0h2m-1 0h2m-1 0h2m-1 0h2m-1 0h2m-1 0h2m-1 0h2m0 0h2m0 0h2m1 0h2m0 0h2m1 0h2m-1 0h2m-1 0h2m0 0h2m2 0h2m-1 0h2m5 0h2m2 0h2m1 0h2m-1 0h2m2 0h2m-1 0h2m5 0h2m6 0h2m0 0h2m2 0h2m22 0h2m6 0h2m9 0h2m2 0h2m-1 0h2m19 0h2m-195 1h2m37 0h2m9 0h2m-1 0h2m-1 0h2m-1 0h2m0 0h2m0 0h2m1 0h2m-1 0h2m0 0h2m3 0h2m3 0h2m-1 0h2m-1 0h2m-1 0h2m0 0h2m11 0h2m-1 0h2m1 0h2m11 0h2m1 0h2m16 0h2m11 0h2m16 0h2m-165 1h2m33 0h2m7 0h2m5 0h2m0 0h2m-1 0h2m-1 0h2m-1 0h2m-1 0h2m1 0h2m-1 0h2m-1 0h2m0 0h2m1 0h2m8 0h2m0 0h2m2 0h2m-1 0h2m-1 0h2m1 0h2m0 0h2m-1 0h2m0 0h2m0 0h2m2 0h2m0 0h2m1 0h2m5 0h2m4 0h2m-1 0h2m0 0h2m-1 0h2m32 0h2m12 0h2m2 0h2m4 0h2m-182 1h2m-1 0h2m-1 0h2m1 0h2m0 0h2m2 0h2m26 0h2m2 0h2m-1 0h2m4 0h2m-1 0h2m3 0h2m1 0h2m-1 0h2m-1 0h2m1 0h2m-1 0h2m-1 0h2m2 0h2m1 0h2m2 0h2m-1 0h2m0 0h2m-1 0h2m0 0h2m1 0h2m-1 0h2m4 0h2m12 0h2m5 0h2m-1 0h2m28 0h2m6 0h2m25 0h2m-176 1h2m29 0h2m-1 0h2m4 0h2m1 0h2m-1 0h2m-1 0h2m-1 0h2m0 0h2m1 0h2m0 0h2m-1 0h2m-1 0h2m-1 0h2m-1 0h2m1 0h2m1 0h2m-1 0h2m-1 0h2m-1 0h2m2 0h2m-1 0h2m-1 0h2m1 0h2m-1 0h2m0 0h2m0 0h2m3 0h2m5 0h2m2 0h2m5 0h2m4 0h2m0 0h2m-1 0h2m18 0h2m37 0h2m-169 1h2m0 0h2m25 0h2m0 0h2m2 0h2m1 0h2m0 0h2m1 0h2m0 0h2m0 0h2m-1 0h2m0 0h2m-1 0h2m-1 0h2m-1 0h2m-1 0h2m-1 0h2m-1 0h2m2 0h2m-1 0h2m4 0h2m-1 0h2m-1 0h2m0 0h2m0 0h2m0 0h2m-1 0h2m0 0h2m19 0h2m0 0h2m10 0h2m4 0h2m16 0h2m4 0h2m5 0h2m9 0h2m24 0h2m-194 1h2m-1 0h2m33 0h2m-1 0h2m1 0h2m0 0h2m-1 0h2m-1 0h2m-1 0h2m-1 0h2m-1 0h2m0 0h2m-1 0h2m0 0h2m0 0h2m1 0h2m1 0h2m0 0h2m0 0h2m-1 0h2m4 0h2m0 0h2m-1 0h2m0 0h2m0 0h2m-1 0h2m0 0h2m13 0h2m11 0h2m13 0h2m-132 1h2m7 0h2m31 0h2m0 0h2m0 0h2m-1 0h2m0 0h2m-1 0h2m0 0h2m-1 0h2m-1 0h2m0 0h2m-1 0h2m0 0h2m-1 0h2m-1 0h2m-1 0h2m-1 0h2m0 0h2m-1 0h2m2 0h2m-1 0h2m-1 0h2m-1 0h2m3 0h2m2 0h2m6 0h2m1 0h2m2 0h2m4 0h2m5 0h2m45 0h2m-162 1h2m4 0h2m11 0h2m15 0h2m0 0h2m6 0h2m-1 0h2m0 0h2m-1 0h2m0 0h2m-1 0h2m-1 0h2m-1 0h2m0 0h2m-1 0h2m0 0h2m-1 0h2m0 0h2m-1 0h2m0 0h2m0 0h2m-1 0h2m0 0h2m0 0h2m11 0h2m5 0h2m3 0h2m1 0h2m1 0h2m4 0h2m0 0h2m-1 0h2m-1 0h2m4 0h2m2 0h2m50 0h2m-173 1h2m2 0h2m4 0h2m0 0h2m17 0h2m0 0h2m1 0h2m-1 0h2m4 0h2m-1 0h2m-1 0h2m0 0h2m-1 0h2m0 0h2m-1 0h2m-1 0h2m-1 0h2m-1 0h2m-1 0h2m0 0h2m-1 0h2m-1 0h2m3 0h2m0 0h2m2 0h2m1 0h2m2 0h2m7 0h2m-1 0h2m56 0h2m-128 1h2m13 0h2m-1 0h2m1 0h2m3 0h2m-1 0h2m-1 0h2m-1 0h2m0 0h2m-1 0h2m-1 0h2m-1 0h2m0 0h2m-1 0h2m-1 0h2m-1 0h2m2 0h2m0 0h2m-1 0h2m4 0h2m2 0h2m-1 0h2m7 0h2m5 0h2m2 0h2m2 0h2m3 0h2m0 0h2m0 0h2m2 0h2m7 0h2m-118 1h2m2 0h2m23 0h2m-1 0h2m0 0h2m1 0h2m0 0h2m-1 0h2m-1 0h2m-1 0h2m-1 0h2m1 0h2m-1 0h2m-1 0h2m-1 0h2m-1 0h2m-1 0h2m-1 0h2m0 0h2m-1 0h2m1 0h2m1 0h2m-1 0h2m1 0h2m15 0h2m3 0h2m7 0h2m0 0h2m23 0h2m-123 1h2m15 0h2m6 0h2m-1 0h2m0 0h2m0 0h2m2 0h2m-1 0h2m0 0h2m-1 0h2m-1 0h2m0 0h2m-1 0h2m1 0h2m-1 0h2m-1 0h2m-1 0h2m-1 0h2m-1 0h2m-1 0h2m-1 0h2m0 0h2m-1 0h2m1 0h2m-1 0h2m-1 0h2m-1 0h2m2 0h2m-1 0h2m10 0h2m-1 0h2m-62 1h2m0 0h2m0 0h2m7 0h2m-1 0h2m2 0h2m0 0h2m-1 0h2m0 0h2m-1 0h2m0 0h2m1 0h2m-1 0h2m0 0h2m1 0h2m-1 0h2m2 0h2m-1 0h2m1 0h2m4 0h2m10 0h2m23 0h2m-112 1h2m14 0h2m9 0h2m5 0h2m-1 0h2m-1 0h2m0 0h2m0 0h2m-1 0h2m-1 0h2m-1 0h2m0 0h2m1 0h2m1 0h2m-1 0h2m-1 0h2m1 0h2m1 0h2m4 0h2m11 0h2m-87 1h2m8 0h2m-1 0h2m17 0h2m2 0h2m1 0h2m3 0h2m1 0h2m-1 0h2m0 0h2m-1 0h2m-1 0h2m1 0h2m-1 0h2m-1 0h2m0 0h2m0 0h2m-1 0h2m-1 0h2m2 0h2m-1 0h2m23 0h2m1 0h2m4 0h2m20 0h2m13 0h2m-130 1h2m2 0h2m-1 0h2m16 0h2m2 0h2m1 0h2m1 0h2m-1 0h2m-1 0h2m-1 0h2m0 0h2m-1 0h2m2 0h2m0 0h2m1 0h2m-1 0h2m-1 0h2m0 0h2m-1 0h2m2 0h2m0 0h2m53 0h2m-114 1h2m22 0h2m1 0h2m-1 0h2m3 0h2m-1 0h2m1 0h2m-1 0h2m1 0h2m-1 0h2m-1 0h2m3 0h2m-1 0h2m-1 0h2m1 0h2m1 0h2m2 0h2m-1 0h2m10 0h2m1 0h2m-72 1h2m16 0h2m1 0h2m6 0h2m0 0h2m-1 0h2m-1 0h2m-1 0h2m-1 0h2m0 0h2m0 0h2m-1 0h2m0 0h2m-1 0h2m-1 0h2m1 0h2m1 0h2m-1 0h2m19 0h2m119 0h2m-183 1h2m0 0h2m3 0h2m-1 0h2m2 0h2m-1 0h2m-1 0h2m-1 0h2m3 0h2m-1 0h2m-1 0h2m-1 0h2m0 0h2m0 0h2m-1 0h2m-1 0h2m0 0h2m13 0h2m2 0h2m1 0h2m32 0h2m-89 1h2m2 0h2m-1 0h2m2 0h2m-1 0h2m1 0h2m0 0h2m-1 0h2m0 0h2m-1 0h2m-1 0h2m0 0h2m2 0h2m-1 0h2m-1 0h2m0 0h2m-1 0h2m-1 0h2m4 0h2m3 0h2m37 0h2m-104 1h2m18 0h2m-1 0h2m1 0h2m2 0h2m-1 0h2m-1 0h2m-1 0h2m-1 0h2m-1 0h2m-1 0h2m0 0h2m0 0h2m-1 0h2m-1 0h2m-1 0h2m1 0h2m1 0h2m6 0h2m-40 1h2m0 0h2m2 0h2m2 0h2m0 0h2m0 0h2m2 0h2m-1 0h2m-1 0h2m0 0h2m1 0h2m1 0h2m7 0h2m-1 0h2m14 0h2m1 0h2m-80 1h2m26 0h2m3 0h2m-1 0h2m-1 0h2m-1 0h2m-1 0h2m-1 0h2m3 0h2m0 0h2m2 0h2m0 0h2m6 0h2m5 0h2m-44 1h2m0 0h2m2 0h2m-1 0h2m0 0h2m0 0h2m-1 0h2m-1 0h2m2 0h2m-1 0h2m3 0h2m-1 0h2m8 0h2m4 0h2m8 0h2m-43 1h2m0 0h2m-1 0h2m-1 0h2m-1 0h2m-1 0h2m0 0h2m4 0h2m10 0h2m19 0h2m-71 1h2m8 0h2m1 0h2m3 0h2m-1 0h2m4 0h2m-1 0h2m2 0h2m0 0h2m0 0h2m18 0h2m-67 1h2m22 0h2m2 0h2m2 0h2m0 0h2m0 0h2m-1 0h2m0 0h2m-1 0h2m9 0h2m0 0h2m-29 1h2m-1 0h2m0 0h2m-1 0h2m-1 0h2m-1 0h2m0 0h2m0 0h2m-1 0h2m24 0h2m-41 1h2m3 0h2m8 0h2m-42 1h2m23 0h2m-1 0h2m2 0h2m5 0h2m26 0h2m-42 1h2m2 0h2m-1 0h2m-1 0h2m5 0h2m1 0h2m0 0h2m1 0h2m5 0h2m-29 1h2m3 0h2m8 0h2m-29 1h2m11 0h2m0 0h2m12 0h2m2 0h2m-23 1h2m1 0h2m5 0h2m7 0h2m-15 1h2m1 0h2m-3 1h2m-12 1h2m0 1h2m8 3h2m110 4h2m50 5h2m-187 9h2m54 0h2m-85 6h2m178 1h2" stroke="#111" stroke-opacity="0.25" stroke-width="2" fill="none"/><path d="M166 330h2m-13 1h2m1 3h2m-65 2h2m146 0h2m-62 1h2m-77 9h2m165 1h2m-3 1h2m2 0h2m4 0h2m-12 1h2m-1 0h2m-25 1h2m9 0h2m12 0h2m1 0h2m-32 1h2m26 0h2m-16 1h2m9 0h2m-48 1h2m19 0h2m9 0h2m5 0h2m9 0h2m3 0h2m-69 1h2m8 0h2m13 0h2m14 0h2m10 0h2m1 0h2m0 0h2m-1 0h2m0 0h2m-1 0h2m0 0h2m-1 0h2m-45 1h2m1 0h2m11 0h2m3 0h2m-1 0h2m5 0h2m5 0h2m-1 0h2m-1 0h2m-57 1h2m5 0h2m0 0h2m15 0h2m2 0h2m3 0h2m-1 0h2m-1 0h2m-1 0h2m8 0h2m8 0h2m-57 1h2m18 0h2m1 0h2m-1 0h2m0 0h2m7 0h2m1 0h2m-1 0h2m-1 0h2m0 0h2m4 0h2m2 0h2m2 0h2m0 0h2m-68 1h2m7 0h2m7 0h2m3 0h2m0 0h2m-1 0h2m12 0h2m1 0h2m0 0h2m1 0h2m0 0h2m0 0h2m-1 0h2m-1 0h2m2 0h2m-1 0h2m0 0h2m-1 0h2m0 0h2m-1 0h2m-1 0h2m-1 0h2m-98 1h2m23 0h2m1 0h2m1 0h2m0 0h2m6 0h2m1 0h2m-1 0h2m3 0h2m3 0h2m0 0h2m1 0h2m-1 0h2m2 0h2m1 0h2m5 0h2m2 0h2m3 0h2m7 0h2m0 0h2m-71 1h2m1 0h2m1 0h2m1 0h2m6 0h2m8 0h2m0 0h2m1 0h2m-1 0h2m0 0h2m8 0h2m1 0h2m-1 0h2m2 0h2m1 0h2m5 0h2m1 0h2m-1 0h2m1 0h2m-91 1h2m11 0h2m8 0h2m15 0h2m-1 0h2m7 0h2m1 0h2m-1 0h2m3 0h2m0 0h2m0 0h2m1 0h2m-1 0h2m0 0h2m-1 0h2m3 0h2m0 0h2m0 0h2m-1 0h2m0 0h2m1 0h2m-1 0h2m1 0h2m-183 1h2m89 0h2m11 0h2m-1 0h2m14 0h2m0 0h2m7 0h2m-1 0h2m2 0h2m0 0h2m-1 0h2m-1 0h2m1 0h2m0 0h2m2 0h2m1 0h2m0 0h2m1 0h2m0 0h2m3 0h2m-1 0h2m4 0h2m0 0h2m2 0h2m-1 0h2m-1 0h2m-86 1h2m-1 0h2m0 0h2m2 0h2m9 0h2m1 0h2m0 0h2m2 0h2m4 0h2m0 0h2m1 0h2m4 0h2m-1 0h2m-1 0h2m0 0h2m2 0h2m-1 0h2m-1 0h2m-1 0h2m-1 0h2m-1 0h2m-1 0h2m0 0h2m-1 0h2m-1 0h2m2 0h2m-1 0h2m-1 0h2m-1 0h2m0 0h2m3 0h2m-1 0h2m0 0h2m0 0h2m-1 0h2m0 0h2m-117 1h2m21 0h2m8 0h2m-1 0h2m10 0h2m6 0h2m1 0h2m2 0h2m-1 0h2m2 0h2m4 0h2m1 0h2m1 0h2m0 0h2m6 0h2m-1 0h2m-1 0h2m-1 0h2m0 0h2m2 0h2m0 0h2m-1 0h2m-1 0h2m3 0h2m0 0h2m-1 0h2m-96 1h2m0 0h2m-1 0h2m2 0h2m17 0h2m-1 0h2m-1 0h2m2 0h2m7 0h2m2 0h2m4 0h2m0 0h2m-1 0h2m-1 0h2m-1 0h2m0 0h2m-1 0h2m1 0h2m-1 0h2m0 0h2m0 0h2m-1 0h2m3 0h2m0 0h2m-1 0h2m0 0h2m-1 0h2m0 0h2m0 0h2m0 0h2m-1 0h2m1 0h2m1 0h2m-1 0h2m-1 0h2m-1 0h2m0 0h2m-1 0h2m0 0h2m-1 0h2m-112 1h2m-1 0h2m20 0h2m8 0h2m1 0h2m-1 0h2m-1 0h2m3 0h2m1 0h2m-1 0h2m2 0h2m-1 0h2m-1 0h2m-1 0h2m-1 0h2m1 0h2m-1 0h2m1 0h2m0 0h2m-1 0h2m0 0h2m0 0h2m5 0h2m-1 0h2m2 0h2m1 0h2m1 0h2m-1 0h2m0 0h2m2 0h2m-1 0h2m-1 0h2m-1 0h2m-72 1h2m-1 0h2m1 0h2m10 0h2m2 0h2m0 0h2m3 0h2m-1 0h2m1 0h2m8 0h2m2 0h2m-1 0h2m-1 0h2m3 0h2m-1 0h2m1 0h2m-1 0h2m0 0h2m2 0h2m0 0h2m0 0h2m-1 0h2m2 0h2m3 0h2m-1 0h2m0 0h2m0 0h2m-1 0h2m-111 1h2m1 0h2m0 0h2m5 0h2m10 0h2m-1 0h2m1 0h2m3 0h2m3 0h2m-1 0h2m-1 0h2m0 0h2m-1 0h2m-1 0h2m-1 0h2m1 0h2m-1 0h2m-1 0h2m0 0h2m0 0h2m3 0h2m3 0h2m-1 0h2m7 0h2m1 0h2m0 0h2m0 0h2m-1 0h2m-1 0h2m-1 0h2m2 0h2m-1 0h2m4 0h2m-1 0h2m3 0h2m-1 0h2m1 0h2m-115 1h2m11 0h2m1 0h2m-1 0h2m9 0h2m2 0h2m4 0h2m4 0h2m1 0h2m-1 0h2m0 0h2m2 0h2m1 0h2m2 0h2m-1 0h2m1 0h2m-1 0h2m-1 0h2m-1 0h2m1 0h2m-1 0h2m0 0h2m1 0h2m1 0h2m0 0h2m0 0h2m2 0h2m1 0h2m0 0h2m-1 0h2m11 0h2m0 0h2m0 0h2m-1 0h2m-1 0h2m0 0h2m-113 1h2m11 0h2m0 0h2m0 0h2m3 0h2m1 0h2m1 0h2m0 0h2m-1 0h2m1 0h2m3 0h2m2 0h2m0 0h2m8 0h2m2 0h2m-1 0h2m5 0h2m-1 0h2m0 0h2m-1 0h2m-1 0h2m0 0h2m0 0h2m0 0h2m4 0h2m-1 0h2m-1 0h2m1 0h2m-1 0h2m2 0h2m4 0h2m1 0h2m1 0h2m3 0h2m-126 1h2m9 0h2m1 0h2m1 0h2m4 0h2m1 0h2m5 0h2m2 0h2m1 0h2m0 0h2m1 0h2m-1 0h2m-1 0h2m-1 0h2m0 0h2m-1 0h2m1 0h2m-1 0h2m3 0h2m-1 0h2m1 0h2m-1 0h2m-1 0h2m1 0h2m-1 0h2m2 0h2m2 0h2m1 0h2m0 0h2m-1 0h2m7 0h2m1 0h2m0 0h2m4 0h2m1 0h2m-1 0h2m-1 0h2m3 0h2m0 0h2m-1 0h2m5 0h2m-120 1h2m7 0h2m0 0h2m1 0h2m-1 0h2m3 0h2m0 0h2m0 0h2m1 0h2m-1 0h2m3 0h2m4 0h2m2 0h2m1 0h2m-1 0h2m0 0h2m1 0h2m1 0h2m-1 0h2m-1 0h2m3 0h2m6 0h2m0 0h2m0 0h2m2 0h2m-1 0h2m4 0h2m-1 0h2m-1 0h2m0 0h2m0 0h2m1 0h2m1 0h2m0 0h2m2 0h2m4 0h2m-200 1h2m0 0h2m52 0h2m12 0h2m-1 0h2m9 0h2m1 0h2m2 0h2m12 0h2m0 0h2m1 0h2m-1 0h2m2 0h2m2 0h2m-1 0h2m-1 0h2m-1 0h2m0 0h2m1 0h2m0 0h2m-1 0h2m7 0h2m-1 0h2m-1 0h2m11 0h2m-1 0h2m0 0h2m0 0h2m-1 0h2m-1 0h2m2 0h2m5 0h2m1 0h2m2 0h2m6 0h2m-1 0h2m1 0h2m-1 0h2m3 0h2m1 0h2m1 0h2m-1 0h2m0 0h2m0 0h2m0 0h2m-197 1h2m57 0h2m3 0h2m13 0h2m1 0h2m4 0h2m2 0h2m2 0h2m4 0h2m2 0h2m-1 0h2m0 0h2m5 0h2m0 0h2m0 0h2m5 0h2m0 0h2m-1 0h2m-1 0h2m3 0h2m-1 0h2m-1 0h2m1 0h2m1 0h2m1 0h2m1 0h2m0 0h2m-1 0h2m6 0h2m2 0h2m3 0h2m0 0h2m0 0h2m-1 0h2m3 0h2m0 0h2m1 0h2m3 0h2m2 0h2m-1 0h2m-138 1h2m3 0h2m0 0h2m0 0h2m9 0h2m2 0h2m-1 0h2m19 0h2m0 0h2m2 0h2m0 0h2m0 0h2m0 0h2m1 0h2m-1 0h2m0 0h2m-1 0h2m1 0h2m-1 0h2m-1 0h2m0 0h2m-1 0h2m0 0h2m-1 0h2m1 0h2m-1 0h2m-1 0h2m-1 0h2m2 0h2m0 0h2m4 0h2m2 0h2m1 0h2m-1 0h2m7 0h2m-1 0h2m12 0h2m0 0h2m0 0h2m-151 1h2m20 0h2m7 0h2m0 0h2m5 0h2m-1 0h2m1 0h2m0 0h2m1 0h2m0 0h2m0 0h2m-1 0h2m-1 0h2m10 0h2m-1 0h2m-1 0h2m0 0h2m0 0h2m0 0h2m-1 0h2m2 0h2m0 0h2m-1 0h2m0 0h2m4 0h2m-1 0h2m7 0h2m4 0h2m9 0h2m3 0h2m2 0h2m-1 0h2m2 0h2m5 0h2m0 0h2m-1 0h2m5 0h2m3 0h2m-148 1h2m1 0h2m11 0h2m2 0h2m-1 0h2m3 0h2m-1 0h2m-1 0h2m0 0h2m2 0h2m0 0h2m1 0h2m-1 0h2m0 0h2m0 0h2m0 0h2m1 0h2m0 0h2m0 0h2m2 0h2m5 0h2m0 0h2m8 0h2m0 0h2m0 0h2m0 0h2m2 0h2m1 0h2m-1 0h2m4 0h2m1 0h2m4 0h2m1 0h2m-1 0h2m9 0h2m1 0h2m0 0h2m-1 0h2m0 0h2m-1 0h2m1 0h2m2 0h2m-132 1h2m5 0h2m0 0h2m0 0h2m-1 0h2m9 0h2m-1 0h2m-1 0h2m2 0h2m0 0h2m1 0h2m-1 0h2m0 0h2m0 0h2m0 0h2m-1 0h2m0 0h2m0 0h2m0 0h2m1 0h2m-1 0h2m-1 0h2m0 0h2m0 0h2m-1 0h2m2 0h2m-1 0h2m0 0h2m-1 0h2m2 0h2m-1 0h2m-1 0h2m2 0h2m7 0h2m8 0h2m16 0h2m7 0h2m-1 0h2m9 0h2m5 0h2m-208 1h2m6 0h2m-1 0h2m50 0h2m5 0h2m2 0h2m13 0h2m-1 0h2m1 0h2m0 0h2m6 0h2m-1 0h2m-1 0h2m-1 0h2m-1 0h2m-1 0h2m0 0h2m6 0h2m1 0h2m5 0h2m4 0h2m-1 0h2m1 0h2m1 0h2m16 0h2m1 0h2m-1 0h2m-1 0h2m6 0h2m1 0h2m18 0h2m0 0h2m5 0h2m-202 1h2m7 0h2m46 0h2m0 0h2m8 0h2m0 0h2m5 0h2m-1 0h2m5 0h2m-1 0h2m0 0h2m2 0h2m0 0h2m2 0h2m-1 0h2m-1 0h2m1 0h2m0 0h2m-1 0h2m3 0h2m9 0h2m1 0h2m-1 0h2m4 0h2m-1 0h2m2 0h2m2 0h2m0 0h2m-1 0h2m-1 0h2m1 0h2m0 0h2m3 0h2m0 0h2m0 0h2m-1 0h2m-1 0h2m-1 0h2m16 0h2m4 0h2m0 0h2m2 0h2m5 0h2m-200 1h2m2 0h2m0 0h2m2 0h2m45 0h2m5 0h2m2 0h2m3 0h2m0 0h2m-1 0h2m6 0h2m-1 0h2m2 0h2m6 0h2m-1 0h2m-1 0h2m9 0h2m1 0h2m0 0h2m-1 0h2m-1 0h2m0 0h2m6 0h2m-1 0h2m3 0h2m5 0h2m5 0h2m0 0h2m-1 0h2m0 0h2m6 0h2m-1 0h2m3 0h2m2 0h2m-172 1h2m-1 0h2m1 0h2m61 0h2m-1 0h2m2 0h2m6 0h2m-1 0h2m1 0h2m5 0h2m-1 0h2m3 0h2m-1 0h2m-1 0h2m2 0h2m-1 0h2m1 0h2m1 0h2m-1 0h2m3 0h2m2 0h2m0 0h2m1 0h2m6 0h2m-1 0h2m8 0h2m5 0h2m2 0h2m22 0h2m4 0h2m0 0h2m8 0h2m-204 1h2m0 0h2m6 0h2m35 0h2m7 0h2m2 0h2m3 0h2m0 0h2m2 0h2m-1 0h2m-1 0h2m-1 0h2m-1 0h2m2 0h2m4 0h2m3 0h2m-1 0h2m-1 0h2m0 0h2m-1 0h2m0 0h2m-1 0h2m1 0h2m0 0h2m1 0h2m1 0h2m1 0h2m2 0h2m-1 0h2m0 0h2m-1 0h2m7 0h2m9 0h2m-1 0h2m1 0h2m0 0h2m0 0h2m4 0h2m19 0h2m13 0h2m1 0h2m-180 1h2m39 0h2m0 0h2m-1 0h2m-1 0h2m0 0h2m4 0h2m-1 0h2m0 0h2m-1 0h2m-1 0h2m4 0h2m3 0h2m0 0h2m3 0h2m1 0h2m-1 0h2m-1 0h2m-1 0h2m1 0h2m6 0h2m0 0h2m0 0h2m1 0h2m0 0h2m-1 0h2m3 0h2m3 0h2m0 0h2m2 0h2m2 0h2m7 0h2m3 0h2m8 0h2m6 0h2m-1 0h2m7 0h2m10 0h2m-192 1h2m4 0h2m47 0h2m-1 0h2m2 0h2m-1 0h2m-1 0h2m0 0h2m0 0h2m1 0h2m0 0h2m0 0h2m-1 0h2m0 0h2m-1 0h2m-1 0h2m1 0h2m-1 0h2m3 0h2m1 0h2m4 0h2m12 0h2m-1 0h2m0 0h2m2 0h2m-1 0h2m0 0h2m3 0h2m3 0h2m5 0h2m7 0h2m5 0h2m9 0h2m4 0h2m15 0h2m-187 1h2m5 0h2m38 0h2m-1 0h2m-1 0h2m3 0h2m2 0h2m1 0h2m0 0h2m0 0h2m2 0h2m1 0h2m-1 0h2m-1 0h2m0 0h2m2 0h2m-1 0h2m0 0h2m-1 0h2m1 0h2m-1 0h2m0 0h2m1 0h2m1 0h2m-1 0h2m1 0h2m0 0h2m2 0h2m7 0h2m0 0h2m-1 0h2m4 0h2m-1 0h2m10 0h2m1 0h2m7 0h2m-1 0h2m1 0h2m-1 0h2m-166 1h2m9 0h2m0 0h2m-1 0h2m40 0h2m3 0h2m1 0h2m1 0h2m-1 0h2m-1 0h2m1 0h2m0 0h2m0 0h2m0 0h2m1 0h2m-1 0h2m0 0h2m-1 0h2m0 0h2m0 0h2m1 0h2m-1 0h2m1 0h2m-1 0h2m-1 0h2m0 0h2m-1 0h2m-1 0h2m2 0h2m5 0h2m-1 0h2m3 0h2m-1 0h2m9 0h2m17 0h2m2 0h2m1 0h2m-153 1h2m3 0h2m7 0h2m21 0h2m4 0h2m5 0h2m2 0h2m4 0h2m1 0h2m-1 0h2m-1 0h2m-1 0h2m-1 0h2m-1 0h2m2 0h2m2 0h2m-1 0h2m-1 0h2m1 0h2m0 0h2m8 0h2m0 0h2m3 0h2m1 0h2m-1 0h2m20 0h2m1 0h2m19 0h2m19 0h2m18 0h2m-193 1h2m9 0h2m1 0h2m34 0h2m0 0h2m0 0h2m-1 0h2m-1 0h2m-1 0h2m-1 0h2m-1 0h2m0 0h2m0 0h2m-1 0h2m-1 0h2m-1 0h2m0 0h2m2 0h2m0 0h2m-1 0h2m0 0h2m-1 0h2m1 0h2m-1 0h2m-1 0h2m-1 0h2m-1 0h2m0 0h2m-1 0h2m-1 0h2m0 0h2m1 0h2m-1 0h2m5 0h2m9 0h2m2 0h2m-1 0h2m2 0h2m8 0h2m11 0h2m46 0h2m-193 1h2m-1 0h2m2 0h2m0 0h2m6 0h2m8 0h2m13 0h2m3 0h2m0 0h2m4 0h2m-1 0h2m1 0h2m1 0h2m2 0h2m-1 0h2m0 0h2m-1 0h2m3 0h2m-1 0h2m5 0h2m0 0h2m7 0h2m3 0h2m9 0h2m5 0h2m11 0h2m12 0h2m18 0h2m18 0h2m-187 1h2m3 0h2m2 0h2m26 0h2m5 0h2m-1 0h2m0 0h2m-1 0h2m-1 0h2m2 0h2m-1 0h2m-1 0h2m-1 0h2m-1 0h2m0 0h2m-1 0h2m-1 0h2m-1 0h2m-1 0h2m-1 0h2m1 0h2m-1 0h2m1 0h2m-1 0h2m-1 0h2m1 0h2m2 0h2m-1 0h2m-1 0h2m-1 0h2m1 0h2m0 0h2m3 0h2m0 0h2m3 0h2m9 0h2m39 0h2m1 0h2m3 0h2m-158 1h2m-1 0h2m0 0h2m-1 0h2m3 0h2m16 0h2m13 0h2m-1 0h2m-1 0h2m1 0h2m0 0h2m-1 0h2m-1 0h2m-1 0h2m0 0h2m1 0h2m-1 0h2m-1 0h2m-1 0h2m2 0h2m3 0h2m2 0h2m0 0h2m5 0h2m12 0h2m14 0h2m17 0h2m11 0h2m13 0h2m-160 1h2m1 0h2m2 0h2m5 0h2m23 0h2m4 0h2m-1 0h2m0 0h2m-1 0h2m0 0h2m0 0h2m-1 0h2m-1 0h2m-1 0h2m0 0h2m0 0h2m-1 0h2m-1 0h2m3 0h2m-1 0h2m0 0h2m-1 0h2m-1 0h2m-1 0h2m0 0h2m0 0h2m1 0h2m-1 0h2m11 0h2m0 0h2m-1 0h2m1 0h2m5 0h2m-116 1h2m4 0h2m0 0h2m-1 0h2m0 0h2m23 0h2m6 0h2m0 0h2m0 0h2m-1 0h2m0 0h2m0 0h2m-1 0h2m-1 0h2m0 0h2m-1 0h2m-1 0h2m-1 0h2m-1 0h2m-1 0h2m-1 0h2m-1 0h2m-1 0h2m0 0h2m-1 0h2m0 0h2m-1 0h2m-1 0h2m0 0h2m0 0h2m3 0h2m0 0h2m-1 0h2m3 0h2m1 0h2m0 0h2m5 0h2m13 0h2m1 0h2m7 0h2m5 0h2m-135 1h2m11 0h2m23 0h2m-1 0h2m0 0h2m-1 0h2m0 0h2m-1 0h2m-1 0h2m0 0h2m-1 0h2m-1 0h2m-1 0h2m-1 0h2m-1 0h2m-1 0h2m-1 0h2m3 0h2m6 0h2m-1 0h2m1 0h2m0 0h2m-1 0h2m0 0h2m1 0h2m0 0h2m0 0h2m-1 0h2m2 0h2m5 0h2m5 0h2m7 0h2m38 0h2m22 0h2m-178 1h2m3 0h2m4 0h2m25 0h2m5 0h2m-1 0h2m0 0h2m0 0h2m-1 0h2m-1 0h2m-1 0h2m-1 0h2m2 0h2m0 0h2m0 0h2m-1 0h2m0 0h2m0 0h2m-1 0h2m1 0h2m-1 0h2m-1 0h2m5 0h2m1 0h2m2 0h2m8 0h2m2 0h2m26 0h2m5 0h2m-1 0h2m7 0h2m-151 1h2m6 0h2m4 0h2m23 0h2m0 0h2m-1 0h2m0 0h2m-1 0h2m-1 0h2m1 0h2m-1 0h2m-1 0h2m0 0h2m0 0h2m3 0h2m0 0h2m-1 0h2m-1 0h2m-1 0h2m-1 0h2m-1 0h2m-1 0h2m2 0h2m0 0h2m6 0h2m2 0h2m0 0h2m10 0h2m18 0h2m-88 1h2m3 0h2m-1 0h2m0 0h2m0 0h2m-1 0h2m0 0h2m-1 0h2m-1 0h2m-1 0h2m0 0h2m-1 0h2m-1 0h2m-1 0h2m-1 0h2m-1 0h2m-1 0h2m-1 0h2m-1 0h2m-1 0h2m-1 0h2m-1 0h2m-1 0h2m-1 0h2m-1 0h2m0 0h2m1 0h2m1 0h2m-1 0h2m-1 0h2m0 0h2m4 0h2m8 0h2m11 0h2m-103 1h2m2 0h2m25 0h2m1 0h2m1 0h2m-1 0h2m-1 0h2m-1 0h2m-1 0h2m-1 0h2m-1 0h2m-1 0h2m-1 0h2m-1 0h2m-1 0h2m-1 0h2m-1 0h2m-1 0h2m-1 0h2m0 0h2m0 0h2m3 0h2m23 0h2m21 0h2m18 0h2m-131 1h2m0 0h2m3 0h2m23 0h2m-1 0h2m2 0h2m1 0h2m0 0h2m-1 0h2m0 0h2m2 0h2m-1 0h2m-1 0h2m0 0h2m0 0h2m-1 0h2m-1 0h2m-1 0h2m-1 0h2m1 0h2m0 0h2m-1 0h2m-1 0h2m4 0h2m16 0h2m1 0h2m37 0h2m21 0h2m-154 1h2m21 0h2m2 0h2m-1 0h2m-1 0h2m0 0h2m-1 0h2m0 0h2m-1 0h2m-1 0h2m1 0h2m0 0h2m-1 0h2m-1 0h2m-1 0h2m-1 0h2m-1 0h2m-1 0h2m-1 0h2m-1 0h2m-1 0h2m1 0h2m-1 0h2m-1 0h2m-1 0h2m0 0h2m-1 0h2m0 0h2m-1 0h2m6 0h2m7 0h2m1 0h2m29 0h2m-131 1h2m15 0h2m11 0h2m6 0h2m0 0h2m1 0h2m1 0h2m-1 0h2m-1 0h2m0 0h2m-1 0h2m-1 0h2m0 0h2m0 0h2m-1 0h2m-1 0h2m-1 0h2m-1 0h2m-1 0h2m0 0h2m1 0h2m3 0h2m2 0h2m4 0h2m3 0h2m1 0h2m9 0h2m-1 0h2m-90 1h2m-1 0h2m11 0h2m7 0h2m5 0h2m0 0h2m0 0h2m-1 0h2m0 0h2m-1 0h2m-1 0h2m0 0h2m1 0h2m-1 0h2m1 0h2m0 0h2m-1 0h2m-1 0h2m-1 0h2m0 0h2m-1 0h2m-1 0h2m2 0h2m0 0h2m2 0h2m3 0h2m1 0h2m-51 1h2m-1 0h2m-1 0h2m3 0h2m0 0h2m-1 0h2m-1 0h2m-1 0h2m0 0h2m-1 0h2m-1 0h2m0 0h2m0 0h2m-1 0h2m-1 0h2m-1 0h2m6 0h2m4 0h2m10 0h2m25 0h2m1 0h2m-88 1h2m-1 0h2m0 0h2m-1 0h2m7 0h2m1 0h2m0 0h2m2 0h2m1 0h2m-1 0h2m-1 0h2m1 0h2m0 0h2m3 0h2m0 0h2m-1 0h2m-1 0h2m4 0h2m19 0h2m-64 1h2m-1 0h2m-1 0h2m3 0h2m0 0h2m0 0h2m-1 0h2m-1 0h2m-1 0h2m-1 0h2m-1 0h2m-1 0h2m-1 0h2m-1 0h2m-1 0h2m0 0h2m0 0h2m43 0h2m-95 1h2m18 0h2m3 0h2m5 0h2m1 0h2m-1 0h2m1 0h2m1 0h2m-1 0h2m-1 0h2m-1 0h2m3 0h2m0 0h2m6 0h2m5 0h2m3 0h2m8 0h2m-63 1h2m8 0h2m-1 0h2m0 0h2m1 0h2m3 0h2m0 0h2m3 0h2m-1 0h2m1 0h2m2 0h2m4 0h2m11 0h2m-1 0h2m-55 1h2m6 0h2m-1 0h2m0 0h2m1 0h2m-1 0h2m0 0h2m-1 0h2m1 0h2m0 0h2m-1 0h2m-1 0h2m0 0h2m-48 1h2m15 0h2m1 0h2m3 0h2m2 0h2m2 0h2m0 0h2m-1 0h2m7 0h2m5 0h2m0 0h2m-32 1h2m1 0h2m-1 0h2m-1 0h2m-1 0h2m-1 0h2m-1 0h2m1 0h2m-1 0h2m0 0h2m-1 0h2m0 0h2m7 0h2m4 0h2m5 0h2m-50 1h2m2 0h2m-1 0h2m1 0h2m0 0h2m0 0h2m0 0h2m0 0h2m-1 0h2m-1 0h2m0 0h2m-1 0h2m1 0h2m-21 1h2m0 0h2m-1 0h2m1 0h2m10 0h2m2 0h2m17 0h2m-47 1h2m2 0h2m4 0h2m0 0h2m-1 0h2m0 0h2m1 0h2m27 0h2m-49 1h2m0 0h2m1 0h2m3 0h2m-1 0h2m-1 0h2m1 0h2m-1 0h2m2 0h2m3 0h2m8 0h2m-38 1h2m5 0h2m2 0h2m1 0h2m0 0h2m-18 1h2m2 0h2m1 0h2m0 0h2m1 0h2m0 0h2m3 0h2m6 0h2m21 0h2m-51 1h2m15 0h2m4 0h2m3 0h2m44 0h2m-81 1h2m4 0h2m-1 0h2m-1 0h2m0 0h2m1 0h2m9 0h2m6 0h2m-26 1h2m16 0h2m96 0h2m-122 1h2m0 0h2m0 0h2m0 0h2m2 0h2m3 0h2m6 0h2m1 0h2m0 0h2m148 0h2m-178 2h2m8 1h2m2 1h2m25 0h2m-43 1h2m-1 0h2m13 0h2m-19 1h2m24 0h2m-15 2h2m-34 2h2m27 1h2m39 1h2m122 7h2m-39 4h2m10 1h2m-103 7h2m75 2h2" stroke="#111" stroke-opacity="0.25" stroke-width="2" fill="none"/></g></g>
<g filter="url(#bl)"><g transform="scale(.5)"><path d="M360 337h2m147 1h2m-105 3h2m132 3h2m6 0h2m-16 2h2m13 1h2m-1 0h2m4 0h2m-17 1h2m15 0h2m2 0h2m-34 2h2m8 0h2m6 0h2m-18 1h2m1 2h2m11 0h2m3 0h2m-11 1h2m-66 1h2m37 0h2m-40 1h2m34 0h2m21 0h2m10 0h2m1 0h2m1 0h2m-199 1h2m84 0h2m84 0h2m0 0h2m-1 0h2m1 0h2m7 0h2m3 0h2m-1 0h2m-63 1h2m24 0h2m11 0h2m18 0h2m4 0h2m-56 1h2m27 0h2m7 0h2m3 0h2m-1 0h2m8 0h2m-59 1h2m9 0h2m2 0h2m5 0h2m6 0h2m6 0h2m4 0h2m11 0h2m0 0h2m-1 0h2m-65 1h2m9 0h2m-1 0h2m1 0h2m16 0h2m0 0h2m3 0h2m11 0h2m-1 0h2m1 0h2m0 0h2m0 0h2m0 0h2m-124 1h2m18 0h2m6 0h2m21 0h2m6 0h2m0 0h2m7 0h2m2 0h2m6 0h2m1 0h2m2 0h2m12 0h2m2 0h2m-1 0h2m5 0h2m0 0h2m0 0h2m0 0h2m0 0h2m-91 1h2m10 0h2m6 0h2m2 0h2m18 0h2m3 0h2m8 0h2m3 0h2m-1 0h2m11 0h2m-1 0h2m-1 0h2m3 0h2m1 0h2m-112 1h2m21 0h2m6 0h2m5 0h2m7 0h2m-1 0h2m6 0h2m18 0h2m6 0h2m3 0h2m3 0h2m2 0h2m1 0h2m3 0h2m-1 0h2m-1 0h2m-1 0h2m-86 1h2m-1 0h2m1 0h2m10 0h2m3 0h2m2 0h2m12 0h2m-1 0h2m3 0h2m0 0h2m1 0h2m1 0h2m5 0h2m0 0h2m-1 0h2m2 0h2m-1 0h2m1 0h2m-1 0h2m0 0h2m-1 0h2m1 0h2m-1 0h2m-1 0h2m0 0h2m1 0h2m-221 1h2m60 0h2m12 0h2m3 0h2m33 0h2m10 0h2m15 0h2m2 0h2m2 0h2m6 0h2m8 0h2m1 0h2m2 0h2m-1 0h2m1 0h2m0 0h2m8 0h2m-1 0h2m1 0h2m12 0h2m-1 0h2m-1 0h2m0 0h2m1 0h2m-1 0h2m-211 1h2m31 0h2m16 0h2m31 0h2m10 0h2m6 0h2m14 0h2m0 0h2m-1 0h2m-1 0h2m0 0h2m3 0h2m1 0h2m4 0h2m-1 0h2m9 0h2m0 0h2m5 0h2m1 0h2m11 0h2m-1 0h2m-1 0h2m-1 0h2m-1 0h2m3 0h2m1 0h2m2 0h2m1 0h2m0 0h2m1 0h2m-1 0h2m0 0h2m3 0h2m-204 1h2m42 0h2m44 0h2m0 0h2m14 0h2m4 0h2m3 0h2m1 0h2m-1 0h2m11 0h2m-1 0h2m-1 0h2m13 0h2m2 0h2m1 0h2m1 0h2m2 0h2m0 0h2m1 0h2m-1 0h2m0 0h2m-1 0h2m-1 0h2m1 0h2m0 0h2m0 0h2m5 0h2m0 0h2m0 0h2m-1 0h2m0 0h2m-1 0h2m0 0h2m-147 1h2m24 0h2m17 0h2m21 0h2m1 0h2m8 0h2m3 0h2m1 0h2m0 0h2m-1 0h2m0 0h2m1 0h2m0 0h2m-1 0h2m0 0h2m-1 0h2m-1 0h2m-1 0h2m-1 0h2m1 0h2m3 0h2m0 0h2m7 0h2m0 0h2m0 0h2m5 0h2m2 0h2m0 0h2m-1 0h2m-1 0h2m-1 0h2m0 0h2m-169 1h2m4 0h2m8 0h2m22 0h2m9 0h2m-1 0h2m2 0h2m3 0h2m-1 0h2m8 0h2m3 0h2m5 0h2m0 0h2m5 0h2m0 0h2m3 0h2m0 0h2m1 0h2m1 0h2m3 0h2m1 0h2m1 0h2m-1 0h2m-1 0h2m-1 0h2m7 0h2m2 0h2m2 0h2m-1 0h2m-1 0h2m1 0h2m1 0h2m-1 0h2m-1 0h2m-1 0h2m1 0h2m-1 0h2m2 0h2m4 0h2m0 0h2m-202 1h2m43 0h2m41 0h2m7 0h2m1 0h2m-1 0h2m4 0h2m2 0h2m3 0h2m2 0h2m-1 0h2m0 0h2m1 0h2m1 0h2m2 0h2m-1 0h2m6 0h2m-1 0h2m1 0h2m0 0h2m-1 0h2m1 0h2m1 0h2m1 0h2m-1 0h2m4 0h2m1 0h2m3 0h2m4 0h2m-1 0h2m2 0h2m-1 0h2m4 0h2m0 0h2m-1 0h2m5 0h2m-196 1h2m43 0h2m1 0h2m1 0h2m1 0h2m12 0h2m11 0h2m18 0h2m1 0h2m3 0h2m5 0h2m-1 0h2m2 0h2m3 0h2m-1 0h2m-1 0h2m-1 0h2m6 0h2m-1 0h2m3 0h2m3 0h2m0 0h2m0 0h2m0 0h2m0 0h2m-1 0h2m-1 0h2m-1 0h2m1 0h2m2 0h2m-1 0h2m9 0h2m4 0h2m4 0h2m-199 1h2m-1 0h2m35 0h2m1 0h2m20 0h2m2 0h2m8 0h2m0 0h2m2 0h2m-1 0h2m7 0h2m5 0h2m-1 0h2m-1 0h2m-1 0h2m3 0h2m-1 0h2m2 0h2m2 0h2m0 0h2m2 0h2m-1 0h2m-1 0h2m1 0h2m0 0h2m0 0h2m1 0h2m7 0h2m1 0h2m-1 0h2m2 0h2m4 0h2m-1 0h2m-1 0h2m0 0h2m-1 0h2m3 0h2m-1 0h2m5 0h2m0 0h2m-1 0h2m2 0h2m4 0h2m9 0h2m-194 1h2m38 0h2m10 0h2m2 0h2m17 0h2m11 0h2m4 0h2m3 0h2m3 0h2m-1 0h2m-1 0h2m0 0h2m2 0h2m9 0h2m-1 0h2m1 0h2m0 0h2m2 0h2m2 0h2m0 0h2m-1 0h2m0 0h2m0 0h2m4 0h2m2 0h2m3 0h2m1 0h2m-1 0h2m0 0h2m-1 0h2m0 0h2m3 0h2m3 0h2m0 0h2m0 0h2m1 0h2m-1 0h2m-1 0h2m1 0h2m-165 1h2m4 0h2m3 0h2m27 0h2m8 0h2m-1 0h2m-1 0h2m-1 0h2m6 0h2m0 0h2m-1 0h2m-1 0h2m-1 0h2m1 0h2m1 0h2m-1 0h2m-1 0h2m-1 0h2m5 0h2m1 0h2m7 0h2m-1 0h2m-1 0h2m2 0h2m-1 0h2m0 0h2m-1 0h2m2 0h2m1 0h2m4 0h2m4 0h2m0 0h2m2 0h2m0 0h2m1 0h2m-1 0h2m0 0h2m2 0h2m-1 0h2m4 0h2m-1 0h2m-1 0h2m-1 0h2m5 0h2m1 0h2m1 0h2m-215 1h2m13 0h2m4 0h2m36 0h2m13 0h2m-1 0h2m-1 0h2m0 0h2m0 0h2m16 0h2m3 0h2m-1 0h2m5 0h2m2 0h2m5 0h2m-1 0h2m1 0h2m0 0h2m-1 0h2m0 0h2m-1 0h2m7 0h2m2 0h2m-1 0h2m-1 0h2m-1 0h2m0 0h2m-1 0h2m3 0h2m7 0h2m-1 0h2m-1 0h2m0 0h2m2 0h2m0 0h2m1 0h2m0 0h2m-1 0h2m2 0h2m-1 0h2m1 0h2m0 0h2m-1 0h2m7 0h2m-1 0h2m4 0h2m-219 1h2m12 0h2m4 0h2m2 0h2m8 0h2m27 0h2m9 0h2m2 0h2m6 0h2m4 0h2m0 0h2m0 0h2m-1 0h2m1 0h2m0 0h2m0 0h2m2 0h2m-1 0h2m2 0h2m4 0h2m0 0h2m-1 0h2m-1 0h2m-1 0h2m3 0h2m5 0h2m0 0h2m1 0h2m1 0h2m2 0h2m-1 0h2m0 0h2m-1 0h2m0 0h2m2 0h2m0 0h2m1 0h2m-1 0h2m2 0h2m-1 0h2m2 0h2m1 0h2m6 0h2m1 0h2m0 0h2m0 0h2m-1 0h2m-1 0h2m0 0h2m-1 0h2m1 0h2m0 0h2m0 0h2m0 0h2m1 0h2m5 0h2m0 0h2m0 0h2m1 0h2m-214 1h2m9 0h2m4 0h2m27 0h2m13 0h2m2 0h2m3 0h2m0 0h2m3 0h2m-1 0h2m4 0h2m0 0h2m0 0h2m0 0h2m0 0h2m0 0h2m-1 0h2m0 0h2m2 0h2m-1 0h2m0 0h2m-1 0h2m3 0h2m0 0h2m0 0h2m2 0h2m1 0h2m-1 0h2m-1 0h2m0 0h2m0 0h2m1 0h2m3 0h2m-1 0h2m4 0h2m3 0h2m-1 0h2m5 0h2m-1 0h2m-1 0h2m7 0h2m3 0h2m5 0h2m1 0h2m-1 0h2m3 0h2m-1 0h2m-1 0h2m4 0h2m7 0h2m-1 0h2m-157 1h2m8 0h2m0 0h2m5 0h2m2 0h2m0 0h2m-1 0h2m1 0h2m8 0h2m0 0h2m-1 0h2m1 0h2m-1 0h2m4 0h2m4 0h2m3 0h2m7 0h2m0 0h2m-1 0h2m-1 0h2m-1 0h2m-1 0h2m-1 0h2m2 0h2m1 0h2m-1 0h2m-1 0h2m-1 0h2m4 0h2m0 0h2m3 0h2m2 0h2m-1 0h2m0 0h2m-1 0h2m1 0h2m1 0h2m0 0h2m2 0h2m-1 0h2m-1 0h2m-1 0h2m-1 0h2m0 0h2m2 0h2m-1 0h2m3 0h2m-1 0h2m-1 0h2m14 0h2m-215 1h2m13 0h2m4 0h2m38 0h2m-1 0h2m1 0h2m2 0h2m4 0h2m7 0h2m-1 0h2m1 0h2m1 0h2m-1 0h2m-1 0h2m12 0h2m4 0h2m0 0h2m-1 0h2m-1 0h2m-1 0h2m-1 0h2m-1 0h2m2 0h2m0 0h2m-1 0h2m-1 0h2m1 0h2m1 0h2m2 0h2m2 0h2m-1 0h2m6 0h2m1 0h2m0 0h2m-1 0h2m-1 0h2m3 0h2m4 0h2m-1 0h2m3 0h2m-1 0h2m0 0h2m-1 0h2m3 0h2m3 0h2m-1 0h2m-1 0h2m-1 0h2m0 0h2m0 0h2m8 0h2m7 0h2m2 0h2m-200 1h2m0 0h2m-1 0h2m1 0h2m28 0h2m-1 0h2m-1 0h2m5 0h2m2 0h2m6 0h2m-1 0h2m1 0h2m3 0h2m-1 0h2m-1 0h2m1 0h2m1 0h2m-1 0h2m0 0h2m0 0h2m-1 0h2m-1 0h2m0 0h2m-1 0h2m5 0h2m-1 0h2m1 0h2m-1 0h2m0 0h2m3 0h2m-1 0h2m-1 0h2m0 0h2m0 0h2m0 0h2m0 0h2m0 0h2m1 0h2m0 0h2m0 0h2m1 0h2m-1 0h2m2 0h2m-1 0h2m-1 0h2m3 0h2m-1 0h2m2 0h2m0 0h2m-1 0h2m-1 0h2m-1 0h2m4 0h2m-1 0h2m2 0h2m9 0h2m0 0h2m0 0h2m13 0h2m0 0h2m4 0h2m-213 1h2m-1 0h2m8 0h2m36 0h2m1 0h2m5 0h2m0 0h2m0 0h2m1 0h2m-1 0h2m1 0h2m-1 0h2m3 0h2m2 0h2m6 0h2m1 0h2m1 0h2m-1 0h2m-1 0h2m-1 0h2m-1 0h2m3 0h2m-1 0h2m0 0h2m-1 0h2m2 0h2m-1 0h2m3 0h2m-1 0h2m0 0h2m1 0h2m-1 0h2m3 0h2m-1 0h2m0 0h2m-1 0h2m-1 0h2m1 0h2m-1 0h2m-1 0h2m-1 0h2m4 0h2m0 0h2m2 0h2m3 0h2m-1 0h2m-1 0h2m0 0h2m-1 0h2m3 0h2m0 0h2m5 0h2m0 0h2m2 0h2m2 0h2m8 0h2m7 0h2m-1 0h2m-1 0h2m-214 1h2m4 0h2m38 0h2m4 0h2m4 0h2m1 0h2m-1 0h2m0 0h2m-1 0h2m-1 0h2m2 0h2m1 0h2m0 0h2m-1 0h2m0 0h2m0 0h2m1 0h2m1 0h2m3 0h2m0 0h2m-1 0h2m0 0h2m-1 0h2m-1 0h2m1 0h2m1 0h2m6 0h2m1 0h2m-1 0h2m-1 0h2m-1 0h2m1 0h2m2 0h2m-1 0h2m-1 0h2m-1 0h2m1 0h2m1 0h2m-1 0h2m1 0h2m0 0h2m0 0h2m0 0h2m0 0h2m5 0h2m-1 0h2m2 0h2m0 0h2m-1 0h2m0 0h2m-1 0h2m-1 0h2m0 0h2m13 0h2m-1 0h2m0 0h2m4 0h2m7 0h2m1 0h2m2 0h2m-196 1h2m1 0h2m2 0h2m4 0h2m36 0h2m-1 0h2m4 0h2m-1 0h2m-1 0h2m0 0h2m-1 0h2m1 0h2m0 0h2m-1 0h2m0 0h2m3 0h2m1 0h2m2 0h2m1 0h2m0 0h2m0 0h2m-1 0h2m-1 0h2m-1 0h2m-1 0h2m3 0h2m-1 0h2m-1 0h2m1 0h2m-1 0h2m-1 0h2m0 0h2m-1 0h2m1 0h2m0 0h2m1 0h2m0 0h2m1 0h2m1 0h2m0 0h2m4 0h2m0 0h2m3 0h2m-1 0h2m2 0h2m-1 0h2m-1 0h2m3 0h2m0 0h2m-1 0h2m0 0h2m12 0h2m5 0h2m-192 1h2m0 0h2m3 0h2m-1 0h2m8 0h2m2 0h2m3 0h2m22 0h2m3 0h2m-1 0h2m3 0h2m2 0h2m-1 0h2m-1 0h2m-1 0h2m0 0h2m0 0h2m-1 0h2m1 0h2m0 0h2m-1 0h2m-1 0h2m-1 0h2m4 0h2m1 0h2m1 0h2m-1 0h2m0 0h2m0 0h2m0 0h2m2 0h2m2 0h2m0 0h2m0 0h2m1 0h2m-1 0h2m2 0h2m0 0h2m-1 0h2m1 0h2m0 0h2m4 0h2m6 0h2m8 0h2m3 0h2m0 0h2m1 0h2m1 0h2m4 0h2m0 0h2m6 0h2m1 0h2m12 0h2m7 0h2m-194 1h2m5 0h2m0 0h2m1 0h2m22 0h2m-1 0h2m0 0h2m5 0h2m8 0h2m-1 0h2m-1 0h2m3 0h2m-1 0h2m6 0h2m0 0h2m0 0h2m3 0h2m0 0h2m2 0h2m-1 0h2m1 0h2m0 0h2m0 0h2m1 0h2m0 0h2m-1 0h2m3 0h2m-1 0h2m-1 0h2m0 0h2m2 0h2m-1 0h2m1 0h2m0 0h2m7 0h2m6 0h2m-1 0h2m8 0h2m2 0h2m0 0h2m15 0h2m0 0h2m19 0h2m-207 1h2m14 0h2m-1 0h2m28 0h2m-1 0h2m2 0h2m2 0h2m-1 0h2m0 0h2m-1 0h2m0 0h2m2 0h2m0 0h2m0 0h2m-1 0h2m0 0h2m-1 0h2m-1 0h2m-1 0h2m-1 0h2m0 0h2m0 0h2m0 0h2m-1 0h2m1 0h2m-1 0h2m-1 0h2m-1 0h2m3 0h2m-1 0h2m1 0h2m0 0h2m2 0h2m-1 0h2m-1 0h2m4 0h2m1 0h2m0 0h2m0 0h2m-1 0h2m-1 0h2m0 0h2m3 0h2m8 0h2m0 0h2m4 0h2m1 0h2m1 0h2m6 0h2m0 0h2m1 0h2m-1 0h2m8 0h2m0 0h2m8 0h2m2 0h2m9 0h2m-209 1h2m20 0h2m28 0h2m-1 0h2m1 0h2m1 0h2m-1 0h2m-1 0h2m-1 0h2m0 0h2m-1 0h2m-1 0h2m-1 0h2m1 0h2m-1 0h2m-1 0h2m-1 0h2m-1 0h2m0 0h2m-1 0h2m-1 0h2m0 0h2m-1 0h2m1 0h2m-1 0h2m2 0h2m-1 0h2m2 0h2m-1 0h2m1 0h2m-1 0h2m2 0h2m2 0h2m10 0h2m0 0h2m2 0h2m2 0h2m-1 0h2m0 0h2m-1 0h2m1 0h2m6 0h2m6 0h2m1 0h2m3 0h2m-1 0h2m-1 0h2m1 0h2m6 0h2m17 0h2m0 0h2m0 0h2m-205 1h2m2 0h2m12 0h2m4 0h2m31 0h2m2 0h2m-1 0h2m4 0h2m0 0h2m-1 0h2m-1 0h2m-1 0h2m2 0h2m1 0h2m0 0h2m-1 0h2m0 0h2m-1 0h2m0 0h2m-1 0h2m1 0h2m0 0h2m0 0h2m4 0h2m-1 0h2m-1 0h2m-1 0h2m0 0h2m0 0h2m1 0h2m0 0h2m1 0h2m-1 0h2m0 0h2m2 0h2m7 0h2m1 0h2m1 0h2m1 0h2m14 0h2m7 0h2m1 0h2m0 0h2m3 0h2m11 0h2m-174 1h2m5 0h2m17 0h2m2 0h2m1 0h2m11 0h2m-1 0h2m-1 0h2m-1 0h2m1 0h2m0 0h2m-1 0h2m2 0h2m-1 0h2m0 0h2m-1 0h2m-1 0h2m0 0h2m3 0h2m0 0h2m-1 0h2m-1 0h2m-1 0h2m-1 0h2m3 0h2m1 0h2m3 0h2m-1 0h2m-1 0h2m-1 0h2m0 0h2m-1 0h2m15 0h2m-1 0h2m2 0h2m6 0h2m0 0h2m10 0h2m28 0h2m15 0h2m-200 1h2m8 0h2m2 0h2m2 0h2m27 0h2m-1 0h2m5 0h2m-1 0h2m2 0h2m0 0h2m-1 0h2m1 0h2m1 0h2m-1 0h2m-1 0h2m-1 0h2m-1 0h2m0 0h2m1 0h2m1 0h2m-1 0h2m-1 0h2m1 0h2m1 0h2m-1 0h2m0 0h2m0 0h2m1 0h2m1 0h2m-1 0h2m-1 0h2m0 0h2m1 0h2m6 0h2m-1 0h2m-1 0h2m-1 0h2m-1 0h2m9 0h2m7 0h2m-1 0h2m1 0h2m1 0h2m2 0h2m3 0h2m7 0h2m13 0h2m-1 0h2m4 0h2m-196 1h2m7 0h2m2 0h2m-1 0h2m1 0h2m7 0h2m25 0h2m0 0h2m1 0h2m-1 0h2m0 0h2m-1 0h2m-1 0h2m-1 0h2m0 0h2m1 0h2m2 0h2m1 0h2m-1 0h2m-1 0h2m-1 0h2m-1 0h2m-1 0h2m1 0h2m0 0h2m0 0h2m0 0h2m-1 0h2m1 0h2m-1 0h2m1 0h2m0 0h2m4 0h2m3 0h2m-1 0h2m3 0h2m8 0h2m0 0h2m8 0h2m2 0h2m16 0h2m14 0h2m11 0h2m21 0h2m-207 1h2m46 0h2m0 0h2m1 0h2m-1 0h2m-1 0h2m-1 0h2m-1 0h2m-1 0h2m-1 0h2m1 0h2m-1 0h2m2 0h2m2 0h2m-1 0h2m0 0h2m-1 0h2m-1 0h2m4 0h2m1 0h2m0 0h2m-1 0h2m3 0h2m0 0h2m-1 0h2m6 0h2m2 0h2m-1 0h2m3 0h2m-1 0h2m1 0h2m1 0h2m4 0h2m-1 0h2m-1 0h2m7 0h2m1 0h2m4 0h2m7 0h2m24 0h2m-176 1h2m3 0h2m11 0h2m13 0h2m2 0h2m3 0h2m-1 0h2m0 0h2m-1 0h2m-1 0h2m0 0h2m-1 0h2m-1 0h2m2 0h2m-1 0h2m0 0h2m2 0h2m-1 0h2m1 0h2m2 0h2m0 0h2m7 0h2m1 0h2m0 0h2m-1 0h2m1 0h2m-1 0h2m0 0h2m7 0h2m0 0h2m6 0h2m0 0h2m0 0h2m0 0h2m2 0h2m4 0h2m2 0h2m9 0h2m12 0h2m4 0h2m22 0h2m17 0h2m-214 1h2m10 0h2m8 0h2m11 0h2m2 0h2m-1 0h2m3 0h2m0 0h2m0 0h2m-1 0h2m2 0h2m-1 0h2m0 0h2m-1 0h2m1 0h2m-1 0h2m-1 0h2m1 0h2m-1 0h2m0 0h2m1 0h2m-1 0h2m7 0h2m0 0h2m1 0h2m2 0h2m0 0h2m38 0h2m11 0h2m0 0h2m4 0h2m38 0h2m7 0h2m-188 1h2m-1 0h2m18 0h2m2 0h2m0 0h2m4 0h2m3 0h2m0 0h2m-1 0h2m-1 0h2m-1 0h2m0 0h2m-1 0h2m-1 0h2m0 0h2m1 0h2m-1 0h2m-1 0h2m0 0h2m0 0h2m1 0h2m0 0h2m1 0h2m2 0h2m4 0h2m-1 0h2m1 0h2m3 0h2m4 0h2m29 0h2m11 0h2m4 0h2m-142 1h2m24 0h2m-1 0h2m0 0h2m2 0h2m0 0h2m-1 0h2m-1 0h2m1 0h2m-1 0h2m-1 0h2m-1 0h2m1 0h2m0 0h2m0 0h2m2 0h2m-1 0h2m-1 0h2m0 0h2m-1 0h2m-1 0h2m1 0h2m-1 0h2m-1 0h2m-1 0h2m2 0h2m2 0h2m4 0h2m0 0h2m3 0h2m25 0h2m8 0h2m-1 0h2m0 0h2m-1 0h2m3 0h2m-156 1h2m6 0h2m32 0h2m3 0h2m1 0h2m1 0h2m-1 0h2m0 0h2m0 0h2m-1 0h2m0 0h2m0 0h2m1 0h2m-1 0h2m0 0h2m0 0h2m0 0h2m2 0h2m-1 0h2m1 0h2m0 0h2m1 0h2m3 0h2m6 0h2m4 0h2m15 0h2m0 0h2m8 0h2m10 0h2m26 0h2m8 0h2m4 0h2m3 0h2m-183 1h2m-1 0h2m31 0h2m-1 0h2m0 0h2m1 0h2m5 0h2m-1 0h2m-1 0h2m-1 0h2m-1 0h2m0 0h2m2 0h2m0 0h2m0 0h2m0 0h2m-1 0h2m-1 0h2m1 0h2m1 0h2m-1 0h2m0 0h2m0 0h2m14 0h2m12 0h2m55 0h2m-179 1h2m8 0h2m19 0h2m6 0h2m4 0h2m1 0h2m0 0h2m-1 0h2m-1 0h2m-1 0h2m-1 0h2m1 0h2m1 0h2m-1 0h2m0 0h2m0 0h2m-1 0h2m-1 0h2m0 0h2m-1 0h2m-1 0h2m1 0h2m-1 0h2m-1 0h2m-1 0h2m0 0h2m-1 0h2m1 0h2m0 0h2m6 0h2m10 0h2m0 0h2m6 0h2m45 0h2m-172 1h2m9 0h2m6 0h2m2 0h2m3 0h2m4 0h2m17 0h2m-1 0h2m0 0h2m-1 0h2m1 0h2m0 0h2m-1 0h2m0 0h2m-1 0h2m0 0h2m-1 0h2m3 0h2m-1 0h2m0 0h2m3 0h2m7 0h2m3 0h2m23 0h2m12 0h2m8 0h2m5 0h2m21 0h2m-172 1h2m0 0h2m2 0h2m7 0h2m2 0h2m12 0h2m13 0h2m5 0h2m-1 0h2m1 0h2m1 0h2m-1 0h2m-1 0h2m-1 0h2m-1 0h2m1 0h2m7 0h2m0 0h2m36 0h2m27 0h2m21 0h2m-165 1h2m16 0h2m11 0h2m9 0h2m0 0h2m-1 0h2m5 0h2m5 0h2m5 0h2m3 0h2m-1 0h2m9 0h2m0 0h2m1 0h2m-94 1h2m4 0h2m0 0h2m33 0h2m-1 0h2m-1 0h2m1 0h2m-1 0h2m1 0h2m-1 0h2m0 0h2m-1 0h2m-1 0h2m1 0h2m1 0h2m-1 0h2m-1 0h2m0 0h2m0 0h2m-1 0h2m31 0h2m22 0h2m10 0h2m-138 1h2m39 0h2m1 0h2m-1 0h2m3 0h2m-1 0h2m1 0h2m5 0h2m-1 0h2m-1 0h2m1 0h2m0 0h2m0 0h2m3 0h2m3 0h2m40 0h2m1 0h2m2 0h2m-103 1h2m7 0h2m4 0h2m0 0h2m-1 0h2m3 0h2m5 0h2m3 0h2m0 0h2m2 0h2m1 0h2m0 0h2m9 0h2m-81 1h2m6 0h2m31 0h2m2 0h2m-1 0h2m0 0h2m8 0h2m0 0h2m-1 0h2m-1 0h2m2 0h2m0 0h2m16 0h2m-1 0h2m10 0h2m3 0h2m12 0h2m-114 1h2m1 0h2m19 0h2m0 0h2m6 0h2m-1 0h2m0 0h2m0 0h2m-1 0h2m-1 0h2m0 0h2m5 0h2m1 0h2m19 0h2m22 0h2m32 0h2m-110 1h2m6 0h2m0 0h2m3 0h2m0 0h2m0 0h2m12 0h2m-1 0h2m0 0h2m1 0h2m-48 1h2m13 0h2m0 0h2m2 0h2m4 0h2m19 0h2m105 0h2m-140 1h2m0 0h2m0 0h2m6 0h2m0 0h2m-1 0h2m0 0h2m1 0h2m11 0h2m4 0h2m1 0h2m-92 1h2m23 0h2m14 0h2m5 0h2m0 0h2m-1 0h2m19 0h2m0 0h2m4 0h2m48 0h2m73 0h2m-190 1h2m27 0h2m-1 0h2m5 0h2m7 0h2m-21 1h2m4 0h2m3 0h2m14 0h2m124 0h2m-207 1h2m35 0h2m-1 0h2m24 0h2m6 0h2m2 0h2m0 0h2m-32 1h2m-1 0h2m0 0h2m1 0h2m5 0h2m-15 1h2m5 0h2m11 0h2m-18 1h2m5 0h2m5 0h2m-1 0h2m3 0h2m21 0h2m12 0h2m-61 2h2m12 0h2m12 0h2m-28 1h2m1 0h2m8 0h2m-22 1h2m5 0h2m5 0h2m8 1h2m-26 2h2m2 1h2m124 2h2m-172 14h2m170 4h2" stroke="#111" stroke-opacity="0.25" stroke-width="2" fill="none"/><path d="M503 330h2m13 5h2m37 4h2m-175 3h2m-6 3h2m78 0h2m53 0h2m40 0h2m-6 4h2m4 0h2m-123 2h2m78 0h2m29 0h2m3 0h2m7 0h2m-18 1h2m-24 1h2m6 0h2m26 0h2m-107 1h2m58 0h2m20 0h2m6 0h2m10 0h2m-75 1h2m53 0h2m-13 1h2m3 0h2m12 0h2m-99 1h2m14 0h2m51 0h2m11 0h2m12 0h2m3 0h2m-36 1h2m4 0h2m10 0h2m3 0h2m6 0h2m7 0h2m-55 1h2m13 0h2m-1 0h2m12 0h2m6 0h2m1 0h2m2 0h2m0 0h2m2 0h2m-1 0h2m0 0h2m-1 0h2m-77 1h2m12 0h2m2 0h2m18 0h2m4 0h2m4 0h2m6 0h2m12 0h2m-153 1h2m26 0h2m16 0h2m60 0h2m15 0h2m8 0h2m-1 0h2m1 0h2m1 0h2m6 0h2m-1 0h2m2 0h2m-127 1h2m42 0h2m43 0h2m1 0h2m3 0h2m8 0h2m7 0h2m3 0h2m0 0h2m-1 0h2m-108 1h2m31 0h2m11 0h2m13 0h2m2 0h2m4 0h2m-1 0h2m1 0h2m2 0h2m3 0h2m3 0h2m-1 0h2m3 0h2m0 0h2m0 0h2m3 0h2m2 0h2m-123 1h2m24 0h2m0 0h2m5 0h2m3 0h2m3 0h2m1 0h2m6 0h2m13 0h2m4 0h2m1 0h2m6 0h2m2 0h2m5 0h2m1 0h2m-1 0h2m2 0h2m9 0h2m0 0h2m0 0h2m-173 1h2m18 0h2m8 0h2m39 0h2m32 0h2m14 0h2m4 0h2m0 0h2m1 0h2m0 0h2m3 0h2m3 0h2m0 0h2m7 0h2m0 0h2m0 0h2m-1 0h2m3 0h2m-1 0h2m0 0h2m-1 0h2m-1 0h2m-119 1h2m17 0h2m24 0h2m0 0h2m-1 0h2m1 0h2m5 0h2m0 0h2m0 0h2m0 0h2m8 0h2m4 0h2m-1 0h2m2 0h2m13 0h2m2 0h2m1 0h2m3 0h2m-144 1h2m27 0h2m14 0h2m7 0h2m25 0h2m-1 0h2m1 0h2m1 0h2m6 0h2m0 0h2m7 0h2m2 0h2m0 0h2m0 0h2m12 0h2m0 0h2m1 0h2m3 0h2m-1 0h2m0 0h2m2 0h2m-147 1h2m9 0h2m29 0h2m7 0h2m3 0h2m2 0h2m5 0h2m9 0h2m2 0h2m3 0h2m5 0h2m4 0h2m2 0h2m0 0h2m4 0h2m-1 0h2m1 0h2m0 0h2m0 0h2m0 0h2m-1 0h2m-1 0h2m2 0h2m0 0h2m-1 0h2m0 0h2m-1 0h2m-1 0h2m6 0h2m-1 0h2m-1 0h2m-216 1h2m74 0h2m37 0h2m6 0h2m2 0h2m2 0h2m1 0h2m1 0h2m0 0h2m3 0h2m1 0h2m1 0h2m-1 0h2m-1 0h2m-1 0h2m8 0h2m1 0h2m3 0h2m-1 0h2m1 0h2m1 0h2m-1 0h2m-1 0h2m0 0h2m0 0h2m4 0h2m0 0h2m0 0h2m3 0h2m-1 0h2m0 0h2m0 0h2m2 0h2m3 0h2m-214 1h2m43 0h2m7 0h2m10 0h2m17 0h2m26 0h2m3 0h2m3 0h2m1 0h2m2 0h2m12 0h2m-1 0h2m0 0h2m4 0h2m-1 0h2m-1 0h2m1 0h2m6 0h2m1 0h2m-1 0h2m0 0h2m1 0h2m-1 0h2m0 0h2m3 0h2m1 0h2m-1 0h2m0 0h2m-1 0h2m2 0h2m0 0h2m-1 0h2m-1 0h2m-1 0h2m-1 0h2m-1 0h2m6 0h2m-1 0h2m-1 0h2m-157 1h2m7 0h2m7 0h2m-1 0h2m30 0h2m8 0h2m1 0h2m-1 0h2m0 0h2m14 0h2m2 0h2m0 0h2m2 0h2m3 0h2m-1 0h2m2 0h2m2 0h2m4 0h2m0 0h2m-1 0h2m1 0h2m4 0h2m-1 0h2m0 0h2m3 0h2m3 0h2m-1 0h2m2 0h2m-1 0h2m0 0h2m5 0h2m-1 0h2m2 0h2m-227 1h2m85 0h2m-1 0h2m10 0h2m-1 0h2m0 0h2m9 0h2m17 0h2m1 0h2m3 0h2m4 0h2m-1 0h2m-1 0h2m0 0h2m1 0h2m-1 0h2m3 0h2m-1 0h2m2 0h2m0 0h2m-1 0h2m-1 0h2m-1 0h2m-1 0h2m5 0h2m1 0h2m2 0h2m-1 0h2m1 0h2m3 0h2m0 0h2m9 0h2m-1 0h2m0 0h2m2 0h2m-1 0h2m4 0h2m-210 1h2m65 0h2m0 0h2m11 0h2m1 0h2m8 0h2m7 0h2m2 0h2m2 0h2m10 0h2m-1 0h2m0 0h2m8 0h2m3 0h2m6 0h2m1 0h2m1 0h2m1 0h2m0 0h2m1 0h2m1 0h2m0 0h2m-1 0h2m-1 0h2m0 0h2m-1 0h2m0 0h2m-1 0h2m-1 0h2m7 0h2m0 0h2m1 0h2m-1 0h2m3 0h2m0 0h2m-1 0h2m1 0h2m1 0h2m0 0h2m-198 1h2m1 0h2m67 0h2m-1 0h2m2 0h2m17 0h2m2 0h2m-1 0h2m5 0h2m5 0h2m2 0h2m-1 0h2m2 0h2m-1 0h2m2 0h2m-1 0h2m-1 0h2m-1 0h2m0 0h2m4 0h2m0 0h2m-1 0h2m4 0h2m-1 0h2m3 0h2m2 0h2m4 0h2m0 0h2m-1 0h2m6 0h2m-1 0h2m3 0h2m-1 0h2m0 0h2m2 0h2m0 0h2m5 0h2m-1 0h2m-217 1h2m17 0h2m4 0h2m43 0h2m8 0h2m3 0h2m6 0h2m-1 0h2m2 0h2m2 0h2m4 0h2m1 0h2m-1 0h2m-1 0h2m4 0h2m0 0h2m0 0h2m7 0h2m1 0h2m-1 0h2m-1 0h2m0 0h2m1 0h2m1 0h2m-1 0h2m0 0h2m-1 0h2m-1 0h2m-1 0h2m1 0h2m-1 0h2m-1 0h2m0 0h2m-1 0h2m0 0h2m4 0h2m1 0h2m-1 0h2m-1 0h2m2 0h2m4 0h2m4 0h2m13 0h2m-1 0h2m-1 0h2m1 0h2m0 0h2m-209 1h2m10 0h2m0 0h2m51 0h2m3 0h2m5 0h2m6 0h2m9 0h2m1 0h2m4 0h2m-1 0h2m1 0h2m-1 0h2m4 0h2m0 0h2m4 0h2m1 0h2m3 0h2m-1 0h2m0 0h2m-1 0h2m5 0h2m0 0h2m-1 0h2m-1 0h2m0 0h2m0 0h2m-1 0h2m7 0h2m0 0h2m-1 0h2m-1 0h2m2 0h2m-1 0h2m1 0h2m2 0h2m0 0h2m4 0h2m5 0h2m-1 0h2m6 0h2m5 0h2m-217 1h2m23 0h2m-1 0h2m32 0h2m1 0h2m1 0h2m3 0h2m3 0h2m1 0h2m-1 0h2m8 0h2m1 0h2m0 0h2m1 0h2m1 0h2m-1 0h2m4 0h2m1 0h2m1 0h2m-1 0h2m-1 0h2m1 0h2m-1 0h2m-1 0h2m-1 0h2m-1 0h2m3 0h2m3 0h2m6 0h2m1 0h2m0 0h2m3 0h2m-1 0h2m1 0h2m2 0h2m-1 0h2m4 0h2m-1 0h2m6 0h2m0 0h2m3 0h2m-1 0h2m2 0h2m5 0h2m1 0h2m0 0h2m-1 0h2m1 0h2m3 0h2m-1 0h2m3 0h2m-223 1h2m73 0h2m-1 0h2m1 0h2m-1 0h2m0 0h2m-1 0h2m3 0h2m-1 0h2m2 0h2m-1 0h2m2 0h2m-1 0h2m0 0h2m-1 0h2m-1 0h2m6 0h2m3 0h2m0 0h2m-1 0h2m-1 0h2m1 0h2m1 0h2m-1 0h2m2 0h2m0 0h2m-1 0h2m1 0h2m-1 0h2m-1 0h2m-1 0h2m-1 0h2m1 0h2m0 0h2m3 0h2m3 0h2m-1 0h2m-1 0h2m7 0h2m-1 0h2m5 0h2m-1 0h2m16 0h2m6 0h2m1 0h2m-1 0h2m2 0h2m1 0h2m-206 1h2m2 0h2m41 0h2m8 0h2m-1 0h2m0 0h2m3 0h2m2 0h2m-1 0h2m-1 0h2m3 0h2m-1 0h2m3 0h2m3 0h2m2 0h2m6 0h2m-1 0h2m0 0h2m0 0h2m2 0h2m-1 0h2m-1 0h2m0 0h2m1 0h2m-1 0h2m0 0h2m-1 0h2m0 0h2m-1 0h2m0 0h2m0 0h2m3 0h2m-1 0h2m3 0h2m3 0h2m3 0h2m1 0h2m0 0h2m-1 0h2m3 0h2m2 0h2m-1 0h2m2 0h2m-1 0h2m-1 0h2m0 0h2m-1 0h2m0 0h2m5 0h2m-1 0h2m1 0h2m5 0h2m3 0h2m-198 1h2m-1 0h2m17 0h2m-1 0h2m25 0h2m3 0h2m4 0h2m0 0h2m4 0h2m1 0h2m-1 0h2m2 0h2m1 0h2m0 0h2m7 0h2m-1 0h2m0 0h2m7 0h2m0 0h2m-1 0h2m-1 0h2m-1 0h2m0 0h2m3 0h2m3 0h2m-1 0h2m2 0h2m-1 0h2m-1 0h2m6 0h2m2 0h2m1 0h2m0 0h2m-1 0h2m0 0h2m2 0h2m-1 0h2m1 0h2m0 0h2m1 0h2m-1 0h2m0 0h2m8 0h2m1 0h2m0 0h2m4 0h2m-1 0h2m2 0h2m5 0h2m0 0h2m1 0h2m0 0h2m2 0h2m-209 1h2m6 0h2m9 0h2m1 0h2m30 0h2m-1 0h2m15 0h2m-1 0h2m0 0h2m-1 0h2m7 0h2m0 0h2m-1 0h2m0 0h2m-1 0h2m0 0h2m0 0h2m0 0h2m-1 0h2m-1 0h2m-1 0h2m-1 0h2m-1 0h2m1 0h2m-1 0h2m-1 0h2m-1 0h2m1 0h2m3 0h2m3 0h2m5 0h2m-1 0h2m0 0h2m1 0h2m1 0h2m0 0h2m-1 0h2m3 0h2m4 0h2m-1 0h2m0 0h2m5 0h2m-1 0h2m0 0h2m-1 0h2m-1 0h2m-1 0h2m1 0h2m3 0h2m0 0h2m-1 0h2m-1 0h2m-1 0h2m0 0h2m6 0h2m11 0h2m10 0h2m-215 1h2m59 0h2m0 0h2m4 0h2m-1 0h2m-1 0h2m0 0h2m2 0h2m0 0h2m7 0h2m0 0h2m0 0h2m0 0h2m0 0h2m-1 0h2m-1 0h2m0 0h2m0 0h2m1 0h2m3 0h2m-1 0h2m3 0h2m-1 0h2m2 0h2m4 0h2m0 0h2m-1 0h2m1 0h2m-1 0h2m-1 0h2m-1 0h2m2 0h2m11 0h2m-1 0h2m-1 0h2m2 0h2m-1 0h2m0 0h2m-1 0h2m-1 0h2m0 0h2m-1 0h2m4 0h2m2 0h2m4 0h2m-1 0h2m10 0h2m12 0h2m-212 1h2m1 0h2m16 0h2m1 0h2m25 0h2m12 0h2m2 0h2m-1 0h2m0 0h2m-1 0h2m-1 0h2m-1 0h2m2 0h2m3 0h2m-1 0h2m-1 0h2m-1 0h2m-1 0h2m-1 0h2m-1 0h2m0 0h2m1 0h2m0 0h2m0 0h2m3 0h2m3 0h2m1 0h2m2 0h2m1 0h2m2 0h2m3 0h2m3 0h2m-1 0h2m0 0h2m0 0h2m-1 0h2m4 0h2m-1 0h2m0 0h2m0 0h2m7 0h2m0 0h2m-1 0h2m16 0h2m1 0h2m4 0h2m-1 0h2m11 0h2m-1 0h2m1 0h2m5 0h2m-217 1h2m0 0h2m3 0h2m17 0h2m17 0h2m15 0h2m1 0h2m1 0h2m0 0h2m1 0h2m-1 0h2m0 0h2m9 0h2m-1 0h2m0 0h2m-1 0h2m0 0h2m2 0h2m3 0h2m-1 0h2m-1 0h2m-1 0h2m8 0h2m2 0h2m2 0h2m0 0h2m1 0h2m-1 0h2m1 0h2m4 0h2m0 0h2m-1 0h2m2 0h2m-1 0h2m1 0h2m-1 0h2m0 0h2m1 0h2m0 0h2m-1 0h2m3 0h2m2 0h2m0 0h2m3 0h2m-1 0h2m11 0h2m2 0h2m13 0h2m1 0h2m-217 1h2m19 0h2m5 0h2m11 0h2m11 0h2m0 0h2m-1 0h2m3 0h2m2 0h2m1 0h2m-1 0h2m0 0h2m0 0h2m0 0h2m-1 0h2m0 0h2m0 0h2m2 0h2m-1 0h2m-1 0h2m1 0h2m1 0h2m-1 0h2m0 0h2m0 0h2m-1 0h2m-1 0h2m-1 0h2m-1 0h2m-1 0h2m-1 0h2m-1 0h2m6 0h2m-1 0h2m1 0h2m4 0h2m-1 0h2m2 0h2m5 0h2m-1 0h2m1 0h2m0 0h2m-1 0h2m2 0h2m1 0h2m4 0h2m1 0h2m15 0h2m2 0h2m3 0h2m4 0h2m-1 0h2m1 0h2m0 0h2m0 0h2m-198 1h2m10 0h2m0 0h2m6 0h2m29 0h2m-1 0h2m0 0h2m0 0h2m2 0h2m6 0h2m0 0h2m-1 0h2m0 0h2m-1 0h2m0 0h2m-1 0h2m4 0h2m-1 0h2m1 0h2m-1 0h2m2 0h2m-1 0h2m1 0h2m-1 0h2m-1 0h2m7 0h2m-1 0h2m0 0h2m1 0h2m-1 0h2m4 0h2m-1 0h2m9 0h2m-1 0h2m-1 0h2m1 0h2m-1 0h2m-1 0h2m3 0h2m7 0h2m0 0h2m5 0h2m-1 0h2m-1 0h2m3 0h2m5 0h2m6 0h2m23 0h2m1 0h2m-199 1h2m-1 0h2m0 0h2m2 0h2m20 0h2m-1 0h2m2 0h2m-1 0h2m0 0h2m0 0h2m-1 0h2m0 0h2m-1 0h2m-1 0h2m-1 0h2m-1 0h2m2 0h2m0 0h2m-1 0h2m-1 0h2m2 0h2m3 0h2m-1 0h2m0 0h2m1 0h2m-1 0h2m-1 0h2m0 0h2m0 0h2m3 0h2m0 0h2m4 0h2m6 0h2m-1 0h2m0 0h2m3 0h2m3 0h2m3 0h2m2 0h2m7 0h2m3 0h2m-1 0h2m-1 0h2m-1 0h2m3 0h2m5 0h2m8 0h2m30 0h2m-210 1h2m9 0h2m23 0h2m19 0h2m-1 0h2m-1 0h2m-1 0h2m-1 0h2m-1 0h2m3 0h2m0 0h2m-1 0h2m3 0h2m3 0h2m-1 0h2m7 0h2m-1 0h2m-1 0h2m0 0h2m-1 0h2m2 0h2m0 0h2m0 0h2m-1 0h2m0 0h2m-1 0h2m-1 0h2m0 0h2m0 0h2m1 0h2m-1 0h2m3 0h2m-1 0h2m0 0h2m2 0h2m-1 0h2m1 0h2m3 0h2m6 0h2m-1 0h2m-1 0h2m-1 0h2m-1 0h2m11 0h2m0 0h2m4 0h2m0 0h2m10 0h2m13 0h2m7 0h2m-204 1h2m16 0h2m3 0h2m21 0h2m4 0h2m-1 0h2m0 0h2m0 0h2m1 0h2m0 0h2m-1 0h2m0 0h2m-1 0h2m3 0h2m0 0h2m3 0h2m0 0h2m-1 0h2m-1 0h2m-1 0h2m-1 0h2m0 0h2m-1 0h2m-1 0h2m0 0h2m-1 0h2m9 0h2m-1 0h2m2 0h2m3 0h2m-1 0h2m1 0h2m0 0h2m-1 0h2m4 0h2m-1 0h2m0 0h2m0 0h2m1 0h2m1 0h2m6 0h2m7 0h2m-1 0h2m-1 0h2m17 0h2m5 0h2m-166 1h2m23 0h2m7 0h2m-1 0h2m0 0h2m1 0h2m1 0h2m-1 0h2m0 0h2m1 0h2m1 0h2m-1 0h2m-1 0h2m-1 0h2m3 0h2m2 0h2m1 0h2m-1 0h2m-1 0h2m0 0h2m-1 0h2m0 0h2m0 0h2m-1 0h2m1 0h2m2 0h2m-1 0h2m-1 0h2m-1 0h2m0 0h2m0 0h2m4 0h2m0 0h2m3 0h2m4 0h2m2 0h2m2 0h2m2 0h2m-1 0h2m-1 0h2m1 0h2m3 0h2m15 0h2m14 0h2m5 0h2m-200 1h2m11 0h2m40 0h2m3 0h2m-1 0h2m2 0h2m-1 0h2m1 0h2m0 0h2m-1 0h2m-1 0h2m2 0h2m-1 0h2m-1 0h2m-1 0h2m1 0h2m-1 0h2m-1 0h2m-1 0h2m0 0h2m5 0h2m0 0h2m0 0h2m-1 0h2m-1 0h2m1 0h2m1 0h2m1 0h2m-1 0h2m1 0h2m3 0h2m1 0h2m-1 0h2m8 0h2m-1 0h2m0 0h2m5 0h2m2 0h2m1 0h2m3 0h2m0 0h2m0 0h2m1 0h2m3 0h2m5 0h2m9 0h2m11 0h2m6 0h2m-211 1h2m4 0h2m26 0h2m4 0h2m8 0h2m4 0h2m-1 0h2m3 0h2m0 0h2m-1 0h2m0 0h2m1 0h2m0 0h2m7 0h2m0 0h2m3 0h2m1 0h2m0 0h2m-1 0h2m1 0h2m1 0h2m-1 0h2m0 0h2m5 0h2m2 0h2m6 0h2m2 0h2m-1 0h2m2 0h2m2 0h2m-1 0h2m3 0h2m3 0h2m6 0h2m0 0h2m2 0h2m5 0h2m4 0h2m9 0h2m21 0h2m-199 1h2m0 0h2m15 0h2m21 0h2m6 0h2m0 0h2m2 0h2m0 0h2m0 0h2m-1 0h2m-1 0h2m0 0h2m1 0h2m0 0h2m-1 0h2m-1 0h2m-1 0h2m-1 0h2m-1 0h2m3 0h2m1 0h2m0 0h2m2 0h2m10 0h2m3 0h2m5 0h2m3 0h2m0 0h2m0 0h2m6 0h2m30 0h2m-158 1h2m4 0h2m-1 0h2m5 0h2m2 0h2m0 0h2m14 0h2m0 0h2m1 0h2m1 0h2m0 0h2m-1 0h2m0 0h2m0 0h2m-1 0h2m0 0h2m0 0h2m-1 0h2m-1 0h2m-1 0h2m0 0h2m-1 0h2m0 0h2m-1 0h2m-1 0h2m-1 0h2m-1 0h2m2 0h2m0 0h2m-1 0h2m-1 0h2m0 0h2m2 0h2m1 0h2m4 0h2m-1 0h2m6 0h2m7 0h2m2 0h2m3 0h2m31 0h2m13 0h2m9 0h2m-187 1h2m5 0h2m-1 0h2m7 0h2m1 0h2m0 0h2m25 0h2m1 0h2m-1 0h2m0 0h2m1 0h2m0 0h2m-1 0h2m2 0h2m0 0h2m-1 0h2m-1 0h2m-1 0h2m0 0h2m0 0h2m-1 0h2m-1 0h2m0 0h2m0 0h2m-1 0h2m0 0h2m-1 0h2m2 0h2m-1 0h2m2 0h2m-1 0h2m0 0h2m-1 0h2m2 0h2m-1 0h2m1 0h2m0 0h2m3 0h2m0 0h2m0 0h2m1 0h2m4 0h2m28 0h2m2 0h2m9 0h2m0 0h2m6 0h2m-186 1h2m3 0h2m1 0h2m0 0h2m8 0h2m27 0h2m-1 0h2m3 0h2m-1 0h2m2 0h2m1 0h2m-1 0h2m0 0h2m-1 0h2m0 0h2m-1 0h2m-1 0h2m-1 0h2m-1 0h2m0 0h2m-1 0h2m-1 0h2m-1 0h2m0 0h2m-1 0h2m0 0h2m12 0h2m12 0h2m7 0h2m-1 0h2m2 0h2m5 0h2m0 0h2m-1 0h2m49 0h2m-158 1h2m9 0h2m8 0h2m5 0h2m-1 0h2m0 0h2m-1 0h2m-1 0h2m-1 0h2m0 0h2m-1 0h2m0 0h2m-1 0h2m-1 0h2m-1 0h2m-1 0h2m-1 0h2m-1 0h2m0 0h2m-1 0h2m-1 0h2m-1 0h2m0 0h2m0 0h2m15 0h2m-1 0h2m-1 0h2m0 0h2m0 0h2m-1 0h2m8 0h2m-1 0h2m5 0h2m2 0h2m14 0h2m4 0h2m13 0h2m31 0h2m-195 1h2m14 0h2m16 0h2m0 0h2m2 0h2m8 0h2m-1 0h2m0 0h2m0 0h2m0 0h2m-1 0h2m1 0h2m0 0h2m-1 0h2m6 0h2m-1 0h2m6 0h2m1 0h2m8 0h2m0 0h2m4 0h2m5 0h2m36 0h2m8 0h2m3 0h2m22 0h2m28 0h2m-225 1h2m2 0h2m16 0h2m26 0h2m0 0h2m0 0h2m6 0h2m0 0h2m1 0h2m-1 0h2m-1 0h2m2 0h2m0 0h2m5 0h2m-1 0h2m11 0h2m1 0h2m0 0h2m-1 0h2m22 0h2m52 0h2m21 0h2m16 0h2m-220 1h2m4 0h2m-1 0h2m1 0h2m1 0h2m1 0h2m4 0h2m16 0h2m3 0h2m1 0h2m-1 0h2m-1 0h2m1 0h2m2 0h2m0 0h2m-1 0h2m-1 0h2m1 0h2m-1 0h2m-1 0h2m0 0h2m-1 0h2m-1 0h2m0 0h2m4 0h2m-1 0h2m-1 0h2m3 0h2m5 0h2m1 0h2m14 0h2m7 0h2m4 0h2m13 0h2m4 0h2m30 0h2m25 0h2m-190 1h2m25 0h2m1 0h2m-1 0h2m2 0h2m0 0h2m0 0h2m-1 0h2m0 0h2m1 0h2m0 0h2m-1 0h2m-1 0h2m-1 0h2m-1 0h2m-1 0h2m0 0h2m4 0h2m-1 0h2m-1 0h2m1 0h2m2 0h2m3 0h2m0 0h2m2 0h2m1 0h2m0 0h2m1 0h2m22 0h2m-131 1h2m-1 0h2m11 0h2m12 0h2m8 0h2m-1 0h2m0 0h2m-1 0h2m1 0h2m0 0h2m0 0h2m0 0h2m2 0h2m0 0h2m-1 0h2m0 0h2m7 0h2m1 0h2m-1 0h2m-1 0h2m0 0h2m1 0h2m0 0h2m2 0h2m9 0h2m27 0h2m10 0h2m20 0h2m-158 1h2m28 0h2m13 0h2m5 0h2m-1 0h2m0 0h2m-1 0h2m1 0h2m-1 0h2m-1 0h2m3 0h2m-1 0h2m-1 0h2m4 0h2m8 0h2m13 0h2m7 0h2m5 0h2m3 0h2m36 0h2m34 0h2m-198 1h2m27 0h2m12 0h2m1 0h2m-1 0h2m-1 0h2m1 0h2m4 0h2m-1 0h2m-1 0h2m0 0h2m-1 0h2m-1 0h2m0 0h2m2 0h2m1 0h2m23 0h2m6 0h2m2 0h2m0 0h2m45 0h2m-162 1h2m3 0h2m14 0h2m13 0h2m4 0h2m0 0h2m0 0h2m1 0h2m-1 0h2m0 0h2m0 0h2m-1 0h2m-1 0h2m1 0h2m-1 0h2m-1 0h2m0 0h2m-1 0h2m1 0h2m-1 0h2m-1 0h2m1 0h2m5 0h2m-1 0h2m6 0h2m1 0h2m3 0h2m22 0h2m19 0h2m27 0h2m-147 1h2m3 0h2m10 0h2m-1 0h2m-1 0h2m2 0h2m-1 0h2m-1 0h2m0 0h2m4 0h2m5 0h2m1 0h2m1 0h2m0 0h2m0 0h2m6 0h2m2 0h2m14 0h2m25 0h2m0 0h2m-128 1h2m17 0h2m5 0h2m6 0h2m15 0h2m4 0h2m-1 0h2m1 0h2m6 0h2m1 0h2m16 0h2m8 0h2m11 0h2m36 0h2m-152 1h2m34 0h2m5 0h2m1 0h2m5 0h2m2 0h2m12 0h2m12 0h2m6 0h2m1 0h2m3 0h2m12 0h2m-124 1h2m46 0h2m0 0h2m6 0h2m-1 0h2m1 0h2m9 0h2m2 0h2m14 0h2m3 0h2m5 0h2m0 0h2m-107 1h2m29 0h2m11 0h2m7 0h2m3 0h2m4 0h2m13 0h2m-73 1h2m27 0h2m-1 0h2m3 0h2m0 0h2m1 0h2m4 0h2m7 0h2m0 0h2m2 0h2m0 0h2m10 0h2m42 0h2m-122 1h2m32 0h2m3 0h2m0 0h2m3 0h2m0 0h2m-1 0h2m-1 0h2m1 0h2m6 0h2m-1 0h2m4 0h2m22 0h2m24 0h2m-103 1h2m8 0h2m-1 0h2m8 0h2m2 0h2m-1 0h2m-1 0h2m0 0h2m6 0h2m-1 0h2m3 0h2m-65 1h2m47 0h2m4 0h2m-23 1h2m2 0h2m2 0h2m-1 0h2m-1 0h2m0 0h2m0 0h2m1 0h2m2 0h2m14 0h2m-1 0h2m20 0h2m-62 1h2m12 0h2m10 0h2m77 0h2m-144 1h2m30 0h2m17 0h2m-1 0h2m1 0h2m16 0h2m-48 1h2m17 0h2m5 0h2m8 0h2m59 0h2m-75 1h2m3 0h2m3 0h2m-11 1h2m13 0h2m-37 1h2m7 0h2m-1 0h2m3 0h2m1 0h2m-56 2h2m43 0h2m-42 1h2m42 0h2m2 0h2m10 0h2m5 1h2m-23 1h2m-11 1h2m11 0h2m8 4h2m-4 13h2m-24 4h2m12 1h2m145 5h2m-86 2h2" stroke="#111" stroke-opacity="0.25" stroke-width="2" fill="none"/><path d="M459 334h2m8 0h2m-110 3h2m57 4h2m137 5h2m-80 3h2m63 1h2m-46 1h2m58 0h2m-2 1h2m-35 1h2m-27 1h2m11 0h2m29 0h2m-23 1h2m30 0h2m-120 1h2m26 0h2m43 0h2m7 0h2m31 0h2m-1 0h2m-194 1h2m105 0h2m28 0h2m5 0h2m10 0h2m14 0h2m-1 0h2m8 0h2m8 0h2m-107 1h2m31 0h2m24 0h2m16 0h2m2 0h2m10 0h2m2 0h2m-1 0h2m8 0h2m-83 1h2m2 0h2m10 0h2m39 0h2m11 0h2m0 0h2m1 0h2m-1 0h2m0 0h2m3 0h2m-96 1h2m60 0h2m9 0h2m0 0h2m-1 0h2m6 0h2m1 0h2m4 0h2m-212 1h2m0 0h2m61 0h2m64 0h2m10 0h2m12 0h2m1 0h2m3 0h2m9 0h2m12 0h2m-1 0h2m0 0h2m3 0h2m0 0h2m-207 1h2m139 0h2m12 0h2m13 0h2m7 0h2m7 0h2m3 0h2m-1 0h2m1 0h2m-1 0h2m3 0h2m1 0h2m0 0h2m-206 1h2m19 0h2m53 0h2m0 0h2m8 0h2m43 0h2m28 0h2m-1 0h2m0 0h2m4 0h2m8 0h2m3 0h2m-1 0h2m0 0h2m0 0h2m4 0h2m6 0h2m-1 0h2m1 0h2m-202 1h2m134 0h2m-1 0h2m5 0h2m3 0h2m-1 0h2m6 0h2m0 0h2m4 0h2m1 0h2m1 0h2m5 0h2m5 0h2m-1 0h2m1 0h2m-1 0h2m-1 0h2m1 0h2m1 0h2m2 0h2m-210 1h2m58 0h2m52 0h2m7 0h2m36 0h2m1 0h2m1 0h2m5 0h2m0 0h2m1 0h2m2 0h2m6 0h2m2 0h2m2 0h2m-205 1h2m99 0h2m32 0h2m2 0h2m2 0h2m1 0h2m13 0h2m-1 0h2m1 0h2m6 0h2m-1 0h2m-1 0h2m2 0h2m-1 0h2m0 0h2m1 0h2m0 0h2m-1 0h2m0 0h2m0 0h2m-1 0h2m1 0h2m1 0h2m5 0h2m0 0h2m1 0h2m-95 1h2m15 0h2m8 0h2m0 0h2m-1 0h2m0 0h2m-1 0h2m1 0h2m2 0h2m4 0h2m3 0h2m0 0h2m-1 0h2m0 0h2m1 0h2m5 0h2m0 0h2m-1 0h2m1 0h2m2 0h2m-1 0h2m-1 0h2m5 0h2m1 0h2m1 0h2m-220 1h2m13 0h2m60 0h2m4 0h2m19 0h2m-1 0h2m9 0h2m-1 0h2m3 0h2m2 0h2m3 0h2m3 0h2m6 0h2m1 0h2m5 0h2m1 0h2m2 0h2m0 0h2m-1 0h2m-1 0h2m0 0h2m1 0h2m1 0h2m3 0h2m-1 0h2m-1 0h2m0 0h2m1 0h2m0 0h2m1 0h2m0 0h2m2 0h2m2 0h2m0 0h2m-1 0h2m-1 0h2m1 0h2m0 0h2m1 0h2m4 0h2m-1 0h2m-217 1h2m115 0h2m1 0h2m13 0h2m4 0h2m1 0h2m4 0h2m1 0h2m5 0h2m1 0h2m3 0h2m6 0h2m-1 0h2m6 0h2m0 0h2m5 0h2m-1 0h2m-1 0h2m0 0h2m0 0h2m1 0h2m-1 0h2m-1 0h2m2 0h2m-1 0h2m1 0h2m-214 1h2m57 0h2m26 0h2m13 0h2m1 0h2m0 0h2m7 0h2m2 0h2m-1 0h2m4 0h2m1 0h2m2 0h2m6 0h2m2 0h2m0 0h2m4 0h2m3 0h2m1 0h2m0 0h2m-1 0h2m-1 0h2m0 0h2m2 0h2m0 0h2m0 0h2m0 0h2m-1 0h2m1 0h2m5 0h2m4 0h2m0 0h2m0 0h2m-1 0h2m5 0h2m0 0h2m1 0h2m2 0h2m-216 1h2m11 0h2m34 0h2m49 0h2m12 0h2m8 0h2m-1 0h2m-1 0h2m2 0h2m0 0h2m2 0h2m2 0h2m8 0h2m0 0h2m1 0h2m0 0h2m1 0h2m2 0h2m0 0h2m10 0h2m0 0h2m0 0h2m0 0h2m-1 0h2m3 0h2m0 0h2m1 0h2m-1 0h2m2 0h2m-1 0h2m0 0h2m3 0h2m-1 0h2m1 0h2m-201 1h2m37 0h2m18 0h2m-1 0h2m18 0h2m9 0h2m4 0h2m0 0h2m3 0h2m8 0h2m-1 0h2m-1 0h2m6 0h2m-1 0h2m-1 0h2m-1 0h2m2 0h2m1 0h2m-1 0h2m-1 0h2m5 0h2m2 0h2m-1 0h2m0 0h2m-1 0h2m0 0h2m1 0h2m5 0h2m1 0h2m4 0h2m-1 0h2m1 0h2m7 0h2m4 0h2m3 0h2m-140 1h2m32 0h2m6 0h2m1 0h2m-1 0h2m0 0h2m0 0h2m7 0h2m3 0h2m3 0h2m1 0h2m8 0h2m0 0h2m3 0h2m3 0h2m-1 0h2m0 0h2m-1 0h2m3 0h2m0 0h2m3 0h2m0 0h2m2 0h2m-1 0h2m-1 0h2m0 0h2m-1 0h2m5 0h2m-1 0h2m1 0h2m4 0h2m-1 0h2m0 0h2m-218 1h2m13 0h2m34 0h2m19 0h2m14 0h2m-1 0h2m-1 0h2m2 0h2m8 0h2m6 0h2m2 0h2m1 0h2m4 0h2m8 0h2m-1 0h2m2 0h2m5 0h2m1 0h2m-1 0h2m-1 0h2m0 0h2m0 0h2m0 0h2m2 0h2m0 0h2m0 0h2m0 0h2m-1 0h2m5 0h2m2 0h2m-1 0h2m-1 0h2m-1 0h2m-1 0h2m-1 0h2m-1 0h2m2 0h2m0 0h2m1 0h2m0 0h2m-1 0h2m0 0h2m4 0h2m0 0h2m-209 1h2m44 0h2m29 0h2m7 0h2m10 0h2m2 0h2m2 0h2m-1 0h2m4 0h2m-1 0h2m1 0h2m1 0h2m15 0h2m-1 0h2m4 0h2m-1 0h2m2 0h2m-1 0h2m0 0h2m1 0h2m-1 0h2m-1 0h2m3 0h2m-1 0h2m2 0h2m-1 0h2m3 0h2m0 0h2m2 0h2m-1 0h2m-1 0h2m-1 0h2m-1 0h2m1 0h2m1 0h2m-1 0h2m1 0h2m7 0h2m-1 0h2m3 0h2m2 0h2m0 0h2m0 0h2m-211 1h2m35 0h2m14 0h2m0 0h2m3 0h2m2 0h2m8 0h2m-1 0h2m1 0h2m1 0h2m7 0h2m5 0h2m9 0h2m-1 0h2m0 0h2m4 0h2m-1 0h2m5 0h2m9 0h2m-1 0h2m4 0h2m6 0h2m-1 0h2m-1 0h2m1 0h2m-1 0h2m-1 0h2m1 0h2m0 0h2m0 0h2m1 0h2m1 0h2m-1 0h2m2 0h2m-1 0h2m0 0h2m0 0h2m1 0h2m1 0h2m-1 0h2m0 0h2m-1 0h2m-1 0h2m-1 0h2m0 0h2m1 0h2m-1 0h2m-1 0h2m1 0h2m3 0h2m-1 0h2m-215 1h2m0 0h2m12 0h2m47 0h2m3 0h2m-1 0h2m0 0h2m0 0h2m2 0h2m3 0h2m2 0h2m5 0h2m3 0h2m-1 0h2m3 0h2m5 0h2m1 0h2m4 0h2m0 0h2m-1 0h2m-1 0h2m-1 0h2m-1 0h2m-1 0h2m4 0h2m-1 0h2m4 0h2m0 0h2m2 0h2m-1 0h2m-1 0h2m0 0h2m1 0h2m0 0h2m2 0h2m0 0h2m0 0h2m-1 0h2m2 0h2m2 0h2m0 0h2m0 0h2m0 0h2m3 0h2m-1 0h2m-1 0h2m0 0h2m0 0h2m2 0h2m0 0h2m-1 0h2m-1 0h2m-1 0h2m2 0h2m-1 0h2m0 0h2m-1 0h2m-214 1h2m12 0h2m51 0h2m0 0h2m5 0h2m-1 0h2m0 0h2m0 0h2m-1 0h2m2 0h2m-1 0h2m1 0h2m2 0h2m0 0h2m-1 0h2m0 0h2m-1 0h2m-1 0h2m4 0h2m3 0h2m-1 0h2m2 0h2m9 0h2m5 0h2m1 0h2m-1 0h2m4 0h2m0 0h2m1 0h2m4 0h2m8 0h2m0 0h2m-1 0h2m2 0h2m1 0h2m-1 0h2m0 0h2m-1 0h2m0 0h2m1 0h2m1 0h2m-1 0h2m0 0h2m3 0h2m2 0h2m-1 0h2m-1 0h2m10 0h2m-198 1h2m1 0h2m2 0h2m27 0h2m1 0h2m4 0h2m1 0h2m1 0h2m-1 0h2m0 0h2m-1 0h2m1 0h2m-1 0h2m1 0h2m11 0h2m-1 0h2m0 0h2m7 0h2m0 0h2m0 0h2m9 0h2m1 0h2m-1 0h2m0 0h2m0 0h2m-1 0h2m-1 0h2m2 0h2m4 0h2m1 0h2m-1 0h2m1 0h2m2 0h2m2 0h2m-1 0h2m2 0h2m-1 0h2m-1 0h2m1 0h2m6 0h2m-1 0h2m0 0h2m-1 0h2m-1 0h2m-1 0h2m2 0h2m0 0h2m6 0h2m1 0h2m-1 0h2m6 0h2m6 0h2m-201 1h2m30 0h2m9 0h2m15 0h2m-1 0h2m-1 0h2m2 0h2m1 0h2m4 0h2m0 0h2m-1 0h2m2 0h2m1 0h2m1 0h2m1 0h2m0 0h2m4 0h2m6 0h2m-1 0h2m-1 0h2m0 0h2m1 0h2m-1 0h2m0 0h2m4 0h2m1 0h2m-1 0h2m1 0h2m-1 0h2m-1 0h2m1 0h2m0 0h2m1 0h2m3 0h2m1 0h2m-1 0h2m1 0h2m3 0h2m-1 0h2m1 0h2m-1 0h2m-1 0h2m5 0h2m-1 0h2m3 0h2m3 0h2m2 0h2m-1 0h2m5 0h2m3 0h2m0 0h2m-198 1h2m25 0h2m5 0h2m1 0h2m8 0h2m-1 0h2m5 0h2m-1 0h2m2 0h2m3 0h2m2 0h2m4 0h2m0 0h2m-1 0h2m0 0h2m0 0h2m1 0h2m0 0h2m1 0h2m1 0h2m-1 0h2m-1 0h2m0 0h2m2 0h2m-1 0h2m-1 0h2m0 0h2m-1 0h2m-1 0h2m-1 0h2m0 0h2m3 0h2m2 0h2m8 0h2m-1 0h2m1 0h2m1 0h2m-1 0h2m-1 0h2m0 0h2m4 0h2m4 0h2m2 0h2m0 0h2m-1 0h2m1 0h2m2 0h2m1 0h2m5 0h2m0 0h2m-1 0h2m7 0h2m0 0h2m5 0h2m0 0h2m-215 1h2m4 0h2m0 0h2m1 0h2m37 0h2m4 0h2m-1 0h2m-1 0h2m0 0h2m-1 0h2m8 0h2m-1 0h2m-1 0h2m0 0h2m6 0h2m-1 0h2m-1 0h2m0 0h2m-1 0h2m0 0h2m-1 0h2m2 0h2m2 0h2m-1 0h2m10 0h2m4 0h2m-1 0h2m-1 0h2m0 0h2m2 0h2m0 0h2m2 0h2m1 0h2m2 0h2m1 0h2m-1 0h2m5 0h2m-1 0h2m9 0h2m-1 0h2m11 0h2m0 0h2m6 0h2m10 0h2m0 0h2m0 0h2m0 0h2m3 0h2m2 0h2m-207 1h2m1 0h2m42 0h2m-1 0h2m-1 0h2m6 0h2m-1 0h2m0 0h2m3 0h2m1 0h2m1 0h2m-1 0h2m2 0h2m0 0h2m-1 0h2m-1 0h2m0 0h2m2 0h2m1 0h2m0 0h2m0 0h2m4 0h2m-1 0h2m-1 0h2m-1 0h2m0 0h2m0 0h2m1 0h2m-1 0h2m-1 0h2m0 0h2m1 0h2m5 0h2m-1 0h2m-1 0h2m2 0h2m2 0h2m-1 0h2m4 0h2m2 0h2m-1 0h2m0 0h2m-1 0h2m1 0h2m4 0h2m1 0h2m1 0h2m1 0h2m1 0h2m4 0h2m4 0h2m1 0h2m-1 0h2m12 0h2m-212 1h2m5 0h2m4 0h2m6 0h2m28 0h2m-1 0h2m1 0h2m1 0h2m4 0h2m-1 0h2m-1 0h2m4 0h2m2 0h2m1 0h2m0 0h2m2 0h2m2 0h2m1 0h2m-1 0h2m-1 0h2m2 0h2m1 0h2m1 0h2m-1 0h2m3 0h2m0 0h2m-1 0h2m5 0h2m8 0h2m-1 0h2m6 0h2m4 0h2m-1 0h2m-1 0h2m-1 0h2m1 0h2m-1 0h2m3 0h2m-1 0h2m1 0h2m1 0h2m-1 0h2m0 0h2m1 0h2m-1 0h2m-1 0h2m3 0h2m1 0h2m3 0h2m29 0h2m-215 1h2m3 0h2m9 0h2m22 0h2m3 0h2m1 0h2m3 0h2m-1 0h2m-1 0h2m-1 0h2m-1 0h2m0 0h2m1 0h2m-1 0h2m3 0h2m-1 0h2m-1 0h2m-1 0h2m-1 0h2m4 0h2m1 0h2m1 0h2m0 0h2m0 0h2m0 0h2m-1 0h2m0 0h2m0 0h2m2 0h2m0 0h2m2 0h2m0 0h2m-1 0h2m3 0h2m0 0h2m-1 0h2m1 0h2m5 0h2m0 0h2m-1 0h2m-1 0h2m3 0h2m4 0h2m3 0h2m-1 0h2m2 0h2m0 0h2m2 0h2m9 0h2m1 0h2m1 0h2m5 0h2m10 0h2m4 0h2m2 0h2m2 0h2m-210 1h2m1 0h2m6 0h2m1 0h2m1 0h2m4 0h2m24 0h2m2 0h2m0 0h2m-1 0h2m-1 0h2m-1 0h2m0 0h2m2 0h2m2 0h2m-1 0h2m-1 0h2m-1 0h2m-1 0h2m0 0h2m0 0h2m-1 0h2m1 0h2m0 0h2m-1 0h2m0 0h2m-1 0h2m2 0h2m-1 0h2m1 0h2m-1 0h2m7 0h2m-1 0h2m0 0h2m-1 0h2m-1 0h2m0 0h2m3 0h2m2 0h2m3 0h2m1 0h2m2 0h2m2 0h2m0 0h2m-1 0h2m2 0h2m-1 0h2m4 0h2m2 0h2m0 0h2m8 0h2m7 0h2m0 0h2m1 0h2m2 0h2m3 0h2m-1 0h2m1 0h2m1 0h2m1 0h2m-160 1h2m0 0h2m0 0h2m2 0h2m2 0h2m6 0h2m0 0h2m0 0h2m0 0h2m-1 0h2m1 0h2m1 0h2m3 0h2m-1 0h2m-1 0h2m0 0h2m-1 0h2m-1 0h2m1 0h2m0 0h2m-1 0h2m4 0h2m-1 0h2m2 0h2m-1 0h2m-1 0h2m0 0h2m6 0h2m-1 0h2m8 0h2m-1 0h2m1 0h2m1 0h2m-1 0h2m7 0h2m6 0h2m1 0h2m2 0h2m-1 0h2m-1 0h2m5 0h2m-1 0h2m2 0h2m-1 0h2m2 0h2m1 0h2m4 0h2m-1 0h2m1 0h2m8 0h2m-184 1h2m26 0h2m2 0h2m2 0h2m-1 0h2m5 0h2m1 0h2m0 0h2m2 0h2m-1 0h2m-1 0h2m1 0h2m-1 0h2m0 0h2m-1 0h2m1 0h2m1 0h2m-1 0h2m2 0h2m0 0h2m-1 0h2m-1 0h2m3 0h2m2 0h2m-1 0h2m-1 0h2m0 0h2m0 0h2m-1 0h2m0 0h2m-1 0h2m5 0h2m0 0h2m-1 0h2m-1 0h2m-1 0h2m-1 0h2m1 0h2m-1 0h2m8 0h2m0 0h2m1 0h2m-1 0h2m1 0h2m0 0h2m-1 0h2m1 0h2m3 0h2m-1 0h2m4 0h2m26 0h2m3 0h2m-193 1h2m1 0h2m33 0h2m-1 0h2m2 0h2m-1 0h2m-1 0h2m-1 0h2m0 0h2m2 0h2m2 0h2m-1 0h2m3 0h2m-1 0h2m-1 0h2m-1 0h2m-1 0h2m3 0h2m0 0h2m-1 0h2m2 0h2m-1 0h2m1 0h2m0 0h2m3 0h2m0 0h2m-1 0h2m2 0h2m-1 0h2m-1 0h2m0 0h2m2 0h2m8 0h2m-1 0h2m3 0h2m1 0h2m0 0h2m2 0h2m2 0h2m0 0h2m12 0h2m1 0h2m19 0h2m-190 1h2m3 0h2m3 0h2m44 0h2m-1 0h2m1 0h2m1 0h2m-1 0h2m-1 0h2m-1 0h2m0 0h2m-1 0h2m-1 0h2m-1 0h2m-1 0h2m-1 0h2m1 0h2m-1 0h2m0 0h2m3 0h2m-1 0h2m-1 0h2m3 0h2m-1 0h2m2 0h2m1 0h2m0 0h2m0 0h2m1 0h2m3 0h2m0 0h2m0 0h2m7 0h2m4 0h2m-1 0h2m-1 0h2m-1 0h2m2 0h2m-1 0h2m7 0h2m3 0h2m2 0h2m4 0h2m2 0h2m0 0h2m39 0h2m-205 1h2m6 0h2m17 0h2m16 0h2m-1 0h2m-1 0h2m0 0h2m-1 0h2m1 0h2m1 0h2m-1 0h2m1 0h2m0 0h2m-1 0h2m0 0h2m-1 0h2m-1 0h2m0 0h2m-1 0h2m-1 0h2m-1 0h2m3 0h2m0 0h2m1 0h2m-1 0h2m2 0h2m0 0h2m8 0h2m0 0h2m5 0h2m1 0h2m0 0h2m6 0h2m2 0h2m5 0h2m6 0h2m0 0h2m1 0h2m1 0h2m0 0h2m12 0h2m7 0h2m9 0h2m0 0h2m-191 1h2m2 0h2m4 0h2m6 0h2m22 0h2m13 0h2m1 0h2m0 0h2m-1 0h2m0 0h2m1 0h2m-1 0h2m-1 0h2m-1 0h2m0 0h2m-1 0h2m0 0h2m-1 0h2m-1 0h2m-1 0h2m-1 0h2m0 0h2m2 0h2m-1 0h2m0 0h2m-1 0h2m0 0h2m-1 0h2m2 0h2m-1 0h2m3 0h2m1 0h2m0 0h2m1 0h2m0 0h2m0 0h2m1 0h2m3 0h2m10 0h2m1 0h2m2 0h2m-1 0h2m-1 0h2m2 0h2m-1 0h2m6 0h2m3 0h2m5 0h2m12 0h2m22 0h2m6 0h2m-219 1h2m-1 0h2m3 0h2m14 0h2m2 0h2m20 0h2m-1 0h2m0 0h2m-1 0h2m0 0h2m-1 0h2m2 0h2m0 0h2m-1 0h2m-1 0h2m0 0h2m-1 0h2m1 0h2m-1 0h2m-1 0h2m1 0h2m-1 0h2m1 0h2m0 0h2m6 0h2m-1 0h2m-1 0h2m1 0h2m-1 0h2m3 0h2m1 0h2m-1 0h2m16 0h2m2 0h2m1 0h2m9 0h2m21 0h2m-168 1h2m4 0h2m2 0h2m6 0h2m2 0h2m6 0h2m17 0h2m4 0h2m-1 0h2m0 0h2m3 0h2m-1 0h2m-1 0h2m-1 0h2m-1 0h2m3 0h2m-1 0h2m0 0h2m-1 0h2m0 0h2m-1 0h2m0 0h2m-1 0h2m-1 0h2m1 0h2m1 0h2m0 0h2m2 0h2m-1 0h2m-1 0h2m3 0h2m2 0h2m2 0h2m-1 0h2m-1 0h2m7 0h2m12 0h2m2 0h2m-1 0h2m23 0h2m10 0h2m37 0h2m1 0h2m-210 1h2m5 0h2m-1 0h2m13 0h2m20 0h2m-1 0h2m1 0h2m-1 0h2m1 0h2m0 0h2m-1 0h2m0 0h2m0 0h2m2 0h2m-1 0h2m1 0h2m-1 0h2m1 0h2m-1 0h2m0 0h2m1 0h2m-1 0h2m0 0h2m-1 0h2m3 0h2m0 0h2m6 0h2m31 0h2m-1 0h2m4 0h2m18 0h2m27 0h2m9 0h2m-202 1h2m39 0h2m0 0h2m4 0h2m0 0h2m0 0h2m-1 0h2m0 0h2m-1 0h2m-1 0h2m-1 0h2m-1 0h2m0 0h2m0 0h2m3 0h2m0 0h2m-1 0h2m1 0h2m4 0h2m3 0h2m1 0h2m-1 0h2m0 0h2m-1 0h2m0 0h2m-1 0h2m-1 0h2m4 0h2m0 0h2m9 0h2m14 0h2m8 0h2m5 0h2m3 0h2m0 0h2m0 0h2m21 0h2m-180 1h2m31 0h2m7 0h2m7 0h2m0 0h2m1 0h2m-1 0h2m-1 0h2m-1 0h2m2 0h2m0 0h2m-1 0h2m-1 0h2m-1 0h2m-1 0h2m-1 0h2m-1 0h2m-1 0h2m3 0h2m0 0h2m0 0h2m1 0h2m8 0h2m1 0h2m4 0h2m-1 0h2m4 0h2m7 0h2m25 0h2m19 0h2m15 0h2m-194 1h2m-1 0h2m1 0h2m2 0h2m5 0h2m-1 0h2m25 0h2m2 0h2m-1 0h2m3 0h2m2 0h2m-1 0h2m-1 0h2m0 0h2m-1 0h2m-1 0h2m-1 0h2m-1 0h2m-1 0h2m3 0h2m0 0h2m0 0h2m1 0h2m0 0h2m1 0h2m-1 0h2m-1 0h2m1 0h2m0 0h2m0 0h2m13 0h2m7 0h2m-1 0h2m0 0h2m0 0h2m3 0h2m4 0h2m1 0h2m3 0h2m28 0h2m17 0h2m27 0h2m-215 1h2m0 0h2m2 0h2m26 0h2m0 0h2m7 0h2m0 0h2m2 0h2m-1 0h2m2 0h2m-1 0h2m-1 0h2m-1 0h2m0 0h2m0 0h2m-1 0h2m3 0h2m-1 0h2m5 0h2m9 0h2m41 0h2m2 0h2m-1 0h2m-1 0h2m9 0h2m-153 1h2m18 0h2m22 0h2m2 0h2m-1 0h2m0 0h2m0 0h2m-1 0h2m1 0h2m0 0h2m-1 0h2m-1 0h2m-1 0h2m4 0h2m1 0h2m-1 0h2m1 0h2m1 0h2m-1 0h2m11 0h2m9 0h2m4 0h2m14 0h2m3 0h2m15 0h2m41 0h2m-193 1h2m10 0h2m24 0h2m5 0h2m-1 0h2m2 0h2m4 0h2m-1 0h2m-1 0h2m1 0h2m-1 0h2m0 0h2m-1 0h2m1 0h2m-1 0h2m-1 0h2m-1 0h2m-1 0h2m-1 0h2m-1 0h2m15 0h2m22 0h2m0 0h2m37 0h2m-151 1h2m16 0h2m17 0h2m5 0h2m-1 0h2m0 0h2m-1 0h2m-1 0h2m-1 0h2m1 0h2m-1 0h2m1 0h2m2 0h2m3 0h2m8 0h2m0 0h2m5 0h2m-1 0h2m1 0h2m20 0h2m56 0h2m-176 1h2m5 0h2m21 0h2m13 0h2m7 0h2m-1 0h2m1 0h2m0 0h2m1 0h2m-1 0h2m-1 0h2m-1 0h2m-1 0h2m-1 0h2m-1 0h2m-1 0h2m-1 0h2m0 0h2m-1 0h2m-1 0h2m-1 0h2m1 0h2m1 0h2m1 0h2m5 0h2m-1 0h2m1 0h2m2 0h2m62 0h2m7 0h2m8 0h2m-188 1h2m2 0h2m11 0h2m6 0h2m8 0h2m10 0h2m-1 0h2m6 0h2m2 0h2m-1 0h2m0 0h2m0 0h2m1 0h2m1 0h2m-1 0h2m0 0h2m3 0h2m0 0h2m-1 0h2m8 0h2m34 0h2m-129 1h2m34 0h2m4 0h2m3 0h2m-1 0h2m1 0h2m1 0h2m5 0h2m2 0h2m-1 0h2m1 0h2m-1 0h2m1 0h2m2 0h2m6 0h2m19 0h2m-1 0h2m1 0h2m2 0h2m15 0h2m-130 1h2m39 0h2m6 0h2m0 0h2m1 0h2m-1 0h2m-1 0h2m1 0h2m0 0h2m0 0h2m0 0h2m0 0h2m15 0h2m8 0h2m28 0h2m20 0h2m-131 1h2m26 0h2m2 0h2m-1 0h2m0 0h2m-1 0h2m-1 0h2m-1 0h2m6 0h2m-1 0h2m-1 0h2m5 0h2m4 0h2m1 0h2m6 0h2m14 0h2m48 0h2m-123 1h2m9 0h2m4 0h2m-1 0h2m-1 0h2m-1 0h2m3 0h2m-1 0h2m0 0h2m-1 0h2m-1 0h2m-1 0h2m25 0h2m23 0h2m9 0h2m13 0h2m29 0h2m-139 1h2m6 0h2m-1 0h2m10 0h2m1 0h2m-1 0h2m4 0h2m3 0h2m0 0h2m5 0h2m46 0h2m-127 1h2m9 0h2m18 0h2m4 0h2m1 0h2m0 0h2m-1 0h2m0 0h2m3 0h2m2 0h2m0 0h2m9 0h2m1 0h2m20 0h2m14 0h2m49 0h2m-125 1h2m2 0h2m3 0h2m5 0h2m-1 0h2m5 0h2m0 0h2m3 0h2m0 0h2m4 0h2m24 0h2m-71 1h2m11 0h2m6 0h2m-1 0h2m0 0h2m0 0h2m1 0h2m7 0h2m-72 1h2m38 0h2m7 0h2m3 0h2m1 0h2m12 0h2m4 0h2m3 0h2m0 0h2m29 0h2m-92 1h2m0 0h2m2 0h2m1 0h2m19 0h2m0 0h2m-1 0h2m9 0h2m6 0h2m7 0h2m-43 1h2m1 0h2m14 0h2m2 0h2m23 0h2m15 0h2m-76 1h2m2 0h2m7 0h2m4 0h2m-1 0h2m1 0h2m5 0h2m-25 1h2m-1 0h2m3 0h2m-1 0h2m2 0h2m-53 1h2m21 0h2m-1 0h2m9 2h2m3 0h2m16 0h2m7 0h2m-37 1h2m-48 1h2m55 0h2m-21 1h2m12 0h2m0 1h2m13 2h2m10 1h2m-69 1h2m18 3h2m136 0h2m-15 1h2m-66 3h2m9 7h2m50 7h2" stroke="#111" stroke-opacity="0.25" stroke-width="2" fill="none"/></g></g>
<path d="M27 18.4H142.6V109.3" stroke="#666" stroke-width="0.9" fill="none"/>
<path d="M27 18.4V109.3H142.6" stroke="#505050" stroke-width="1.1" fill="none"/>
<path d="M27 109.3h-1.7M27 102.46h-1M27 98.46h-1M27 95.62h-1M27 93.42h-1M27 91.62h-1M27 90.1h-1M27 88.78h-1M27 87.62h-1M27 86.58h-1.7M27 79.74h-1M27 75.74h-1M27 72.9h-1M27 70.7h-1M27 68.9h-1M27 67.38h-1M27 66.06h-1M27 64.9h-1M27 63.86h-1.7M27 57.02h-1M27 53.02h-1M27 50.18h-1M27 47.98h-1M27 46.18h-1M27 44.66h-1M27 43.34h-1M27 42.18h-1M27 41.14h-1.7M27 34.3h-1M27 30.3h-1M27 27.46h-1M27 25.26h-1M27 23.46h-1M27 21.94h-1M27 20.62h-1M27 19.46h-1M27 18.4h-1.7M27.5 109.3v2M33.1 109.3v1.1M38.7 109.3v1.1M44.3 109.3v1.1M49.9 109.3v2M55.5 109.3v1.1M61.1 109.3v1.1M66.7 109.3v1.1M72.3 109.3v2M77.9 109.3v1.1M83.5 109.3v1.1M89.1 109.3v1.1M94.7 109.3v2M100.3 109.3v1.1M105.9 109.3v1.1M111.5 109.3v1.1M117.1 109.3v2M122.7 109.3v1.1M128.3 109.3v1.1M133.9 109.3v1.1M139.5 109.3v2" stroke="#222" stroke-width="0.8" fill="none"/>
<text x="25.8" y="112.4" font-size="6.1" text-anchor="end" fill="#181818" stroke="#181818" stroke-width="0.2">10<tspan font-size="3.9" dy="-2.2">0</tspan></text>
<text x="25.8" y="89.68" font-size="6.1" text-anchor="end" fill="#181818" stroke="#181818" stroke-width="0.2">10<tspan font-size="3.9" dy="-2.2">1</tspan></text>
<text x="25.8" y="66.96" font-size="6.1" text-anchor="end" fill="#181818" stroke="#181818" stroke-width="0.2">10<tspan font-size="3.9" dy="-2.2">2</tspan></text>
<text x="25.8" y="44.24" font-size="6.1" text-anchor="end" fill="#181818" stroke="#181818" stroke-width="0.2">10<tspan font-size="3.9" dy="-2.2">3</tspan></text>
<text x="25.8" y="21.52" font-size="6.1" text-anchor="end" fill="#181818" stroke="#181818" stroke-width="0.2">10<tspan font-size="3.9" dy="-2.2">4</tspan></text>
<text x="26.05" y="117.7" font-size="5.8" textLength="2.9" lengthAdjust="spacingAndGlyphs" fill="#181818" stroke="#181818" stroke-width="0.2">0</text>
<text x="45.65" y="117.7" font-size="5.8" textLength="8.5" lengthAdjust="spacingAndGlyphs" fill="#181818" stroke="#181818" stroke-width="0.2">200</text>
<text x="68.05" y="117.7" font-size="5.8" textLength="8.5" lengthAdjust="spacingAndGlyphs" fill="#181818" stroke="#181818" stroke-width="0.2">400</text>
<text x="90.45" y="117.7" font-size="5.8" textLength="8.5" lengthAdjust="spacingAndGlyphs" fill="#181818" stroke="#181818" stroke-width="0.2">600</text>
<text x="112.85" y="117.7" font-size="5.8" textLength="8.5" lengthAdjust="spacingAndGlyphs" fill="#181818" stroke="#181818" stroke-width="0.2">800</text>
<text x="133.9" y="117.7" font-size="5.8" textLength="11.2" lengthAdjust="spacingAndGlyphs" fill="#181818" stroke="#181818" stroke-width="0.2">1000</text>
<text x="69.3" y="16.3" font-size="7.9" textLength="32.4" lengthAdjust="spacingAndGlyphs" fill="#181818" stroke="#181818" stroke-width="0.2">Wild Type</text>
<text x="63.6" y="125.7" font-size="8.1" textLength="43.6" lengthAdjust="spacingAndGlyphs" fill="#111" stroke="#111" stroke-width="0.24">DNA staining</text>
<text transform="translate(12.7 63.5) rotate(-90)" font-size="8.2" text-anchor="middle" textLength="59.2" lengthAdjust="spacingAndGlyphs" fill="#111" stroke="#111" stroke-width="0.24">Probe fluoresence</text>
<path d="M166.6 19.8H282.7V110" stroke="#666" stroke-width="0.9" fill="none"/>
<path d="M166.6 19.8V110H282.7" stroke="#505050" stroke-width="1.1" fill="none"/>
<path d="M166.6 110h-1.7M166.6 103.21h-1M166.6 99.24h-1M166.6 96.42h-1M166.6 94.24h-1M166.6 92.45h-1M166.6 90.94h-1M166.6 89.64h-1M166.6 88.48h-1M166.6 87.45h-1.7M166.6 80.66h-1M166.6 76.69h-1M166.6 73.87h-1M166.6 71.69h-1M166.6 69.9h-1M166.6 68.39h-1M166.6 67.09h-1M166.6 65.93h-1M166.6 64.9h-1.7M166.6 58.11h-1M166.6 54.14h-1M166.6 51.32h-1M166.6 49.14h-1M166.6 47.35h-1M166.6 45.84h-1M166.6 44.54h-1M166.6 43.38h-1M166.6 42.35h-1.7M166.6 35.56h-1M166.6 31.59h-1M166.6 28.77h-1M166.6 26.59h-1M166.6 24.8h-1M166.6 23.29h-1M166.6 21.99h-1M166.6 20.83h-1M166.6 19.8h-1.7M167.5 110v2M173.11 110v1.1M178.72 110v1.1M184.33 110v1.1M189.94 110v2M195.55 110v1.1M201.16 110v1.1M206.77 110v1.1M212.38 110v2M217.99 110v1.1M223.6 110v1.1M229.21 110v1.1M234.82 110v2M240.43 110v1.1M246.04 110v1.1M251.65 110v1.1M257.26 110v2M262.87 110v1.1M268.48 110v1.1M274.09 110v1.1M279.7 110v2" stroke="#222" stroke-width="0.8" fill="none"/>
<text x="165.4" y="113.1" font-size="6.1" text-anchor="end" fill="#181818" stroke="#181818" stroke-width="0.2">10<tspan font-size="3.9" dy="-2.2">0</tspan></text>
<text x="165.4" y="90.55" font-size="6.1" text-anchor="end" fill="#181818" stroke="#181818" stroke-width="0.2">10<tspan font-size="3.9" dy="-2.2">1</tspan></text>
<text x="165.4" y="68" font-size="6.1" text-anchor="end" fill="#181818" stroke="#181818" stroke-width="0.2">10<tspan font-size="3.9" dy="-2.2">2</tspan></text>
<text x="165.4" y="45.45" font-size="6.1" text-anchor="end" fill="#181818" stroke="#181818" stroke-width="0.2">10<tspan font-size="3.9" dy="-2.2">3</tspan></text>
<text x="165.4" y="22.9" font-size="6.1" text-anchor="end" fill="#181818" stroke="#181818" stroke-width="0.2">10<tspan font-size="3.9" dy="-2.2">4</tspan></text>
<text x="166.05" y="118.4" font-size="5.8" textLength="2.9" lengthAdjust="spacingAndGlyphs" fill="#181818" stroke="#181818" stroke-width="0.2">0</text>
<text x="185.69" y="118.4" font-size="5.8" textLength="8.5" lengthAdjust="spacingAndGlyphs" fill="#181818" stroke="#181818" stroke-width="0.2">200</text>
<text x="208.13" y="118.4" font-size="5.8" textLength="8.5" lengthAdjust="spacingAndGlyphs" fill="#181818" stroke="#181818" stroke-width="0.2">400</text>
<text x="230.57" y="118.4" font-size="5.8" textLength="8.5" lengthAdjust="spacingAndGlyphs" fill="#181818" stroke="#181818" stroke-width="0.2">600</text>
<text x="253.01" y="118.4" font-size="5.8" textLength="8.5" lengthAdjust="spacingAndGlyphs" fill="#181818" stroke="#181818" stroke-width="0.2">800</text>
<text x="274.1" y="118.4" font-size="5.8" textLength="11.2" lengthAdjust="spacingAndGlyphs" fill="#181818" stroke="#181818" stroke-width="0.2">1000</text>
<text x="206.3" y="16.5" font-size="8.0" textLength="49.7" lengthAdjust="spacingAndGlyphs" fill="#181818" stroke="#181818" stroke-width="0.2"><tspan font-style="italic">nop10</tspan> mutants</text>
<text x="208.1" y="125.5" font-size="8.1" textLength="44.2" lengthAdjust="spacingAndGlyphs" fill="#111" stroke="#111" stroke-width="0.24">DNA staining</text>
<text transform="translate(154 66.5) rotate(-90)" font-size="7" text-anchor="middle" textLength="54.2" lengthAdjust="spacingAndGlyphs" fill="#111" stroke="#111" stroke-width="0.24">Probe fluoresence</text>
<path d="M27 142.3H143V232.4" stroke="#666" stroke-width="0.9" fill="none"/>
<path d="M27 142.3V232.4H143" stroke="#505050" stroke-width="1.1" fill="none"/>
<path d="M27 232.4h-1.7M27 225.62h-1M27 221.65h-1M27 218.84h-1M27 216.65h-1M27 214.87h-1M27 213.36h-1M27 212.05h-1M27 210.9h-1M27 209.87h-1.7M27 203.09h-1M27 199.12h-1M27 196.31h-1M27 194.12h-1M27 192.34h-1M27 190.83h-1M27 189.52h-1M27 188.37h-1M27 187.34h-1.7M27 180.56h-1M27 176.59h-1M27 173.78h-1M27 171.59h-1M27 169.81h-1M27 168.3h-1M27 166.99h-1M27 165.84h-1M27 164.81h-1.7M27 158.03h-1M27 154.06h-1M27 151.25h-1M27 149.06h-1M27 147.28h-1M27 145.77h-1M27 144.46h-1M27 143.31h-1M27 142.3h-1.7M27.6 232.4v2M33.2 232.4v1.1M38.8 232.4v1.1M44.4 232.4v1.1M50 232.4v2M55.6 232.4v1.1M61.2 232.4v1.1M66.8 232.4v1.1M72.4 232.4v2M78 232.4v1.1M83.6 232.4v1.1M89.2 232.4v1.1M94.8 232.4v2M100.4 232.4v1.1M106 232.4v1.1M111.6 232.4v1.1M117.2 232.4v2M122.8 232.4v1.1M128.4 232.4v1.1M134 232.4v1.1M139.6 232.4v2" stroke="#222" stroke-width="0.8" fill="none"/>
<text x="25.8" y="235.5" font-size="6.1" text-anchor="end" fill="#181818" stroke="#181818" stroke-width="0.2">10<tspan font-size="3.9" dy="-2.2">0</tspan></text>
<text x="25.8" y="212.97" font-size="6.1" text-anchor="end" fill="#181818" stroke="#181818" stroke-width="0.2">10<tspan font-size="3.9" dy="-2.2">1</tspan></text>
<text x="25.8" y="190.44" font-size="6.1" text-anchor="end" fill="#181818" stroke="#181818" stroke-width="0.2">10<tspan font-size="3.9" dy="-2.2">2</tspan></text>
<text x="25.8" y="167.91" font-size="6.1" text-anchor="end" fill="#181818" stroke="#181818" stroke-width="0.2">10<tspan font-size="3.9" dy="-2.2">3</tspan></text>
<text x="25.8" y="145.38" font-size="6.1" text-anchor="end" fill="#181818" stroke="#181818" stroke-width="0.2">10<tspan font-size="3.9" dy="-2.2">4</tspan></text>
<text x="26.15" y="240.8" font-size="5.8" textLength="2.9" lengthAdjust="spacingAndGlyphs" fill="#181818" stroke="#181818" stroke-width="0.2">0</text>
<text x="45.75" y="240.8" font-size="5.8" textLength="8.5" lengthAdjust="spacingAndGlyphs" fill="#181818" stroke="#181818" stroke-width="0.2">200</text>
<text x="68.15" y="240.8" font-size="5.8" textLength="8.5" lengthAdjust="spacingAndGlyphs" fill="#181818" stroke="#181818" stroke-width="0.2">400</text>
<text x="90.55" y="240.8" font-size="5.8" textLength="8.5" lengthAdjust="spacingAndGlyphs" fill="#181818" stroke="#181818" stroke-width="0.2">600</text>
<text x="112.95" y="240.8" font-size="5.8" textLength="8.5" lengthAdjust="spacingAndGlyphs" fill="#181818" stroke="#181818" stroke-width="0.2">800</text>
<text x="134" y="240.8" font-size="5.8" textLength="11.2" lengthAdjust="spacingAndGlyphs" fill="#181818" stroke="#181818" stroke-width="0.2">1000</text>
<text x="69.3" y="140.2" font-size="7.9" textLength="32.4" lengthAdjust="spacingAndGlyphs" fill="#181818" stroke="#181818" stroke-width="0.2">Wild Type</text>
<text x="63.8" y="248.9" font-size="8.1" textLength="43.5" lengthAdjust="spacingAndGlyphs" fill="#111" stroke="#111" stroke-width="0.24">DNA staining</text>
<text transform="translate(12.9 185.8) rotate(-90)" font-size="8.2" text-anchor="middle" textLength="59.7" lengthAdjust="spacingAndGlyphs" fill="#111" stroke="#111" stroke-width="0.24">Probe fluoresence</text>
<path d="M166.5 142.3H282.2V232.6" stroke="#666" stroke-width="0.9" fill="none"/>
<path d="M166.5 142.3V232.6H282.2" stroke="#505050" stroke-width="1.1" fill="none"/>
<path d="M166.5 232.6h-1.7M166.5 225.8h-1M166.5 221.83h-1M166.5 219.01h-1M166.5 216.82h-1M166.5 215.03h-1M166.5 213.52h-1M166.5 212.21h-1M166.5 211.05h-1M166.5 210.02h-1.7M166.5 203.22h-1M166.5 199.25h-1M166.5 196.43h-1M166.5 194.24h-1M166.5 192.45h-1M166.5 190.94h-1M166.5 189.63h-1M166.5 188.47h-1M166.5 187.44h-1.7M166.5 180.64h-1M166.5 176.67h-1M166.5 173.85h-1M166.5 171.66h-1M166.5 169.87h-1M166.5 168.36h-1M166.5 167.05h-1M166.5 165.89h-1M166.5 164.86h-1.7M166.5 158.06h-1M166.5 154.09h-1M166.5 151.27h-1M166.5 149.08h-1M166.5 147.29h-1M166.5 145.78h-1M166.5 144.47h-1M166.5 143.31h-1M166.5 142.3h-1.7M167.2 232.6v2M172.84 232.6v1.1M178.48 232.6v1.1M184.12 232.6v1.1M189.76 232.6v2M195.4 232.6v1.1M201.04 232.6v1.1M206.68 232.6v1.1M212.32 232.6v2M217.96 232.6v1.1M223.6 232.6v1.1M229.24 232.6v1.1M234.88 232.6v2M240.52 232.6v1.1M246.16 232.6v1.1M251.8 232.6v1.1M257.44 232.6v2M263.08 232.6v1.1M268.72 232.6v1.1M274.36 232.6v1.1M280 232.6v2" stroke="#222" stroke-width="0.8" fill="none"/>
<text x="165.3" y="235.7" font-size="6.1" text-anchor="end" fill="#181818" stroke="#181818" stroke-width="0.2">10<tspan font-size="3.9" dy="-2.2">0</tspan></text>
<text x="165.3" y="213.12" font-size="6.1" text-anchor="end" fill="#181818" stroke="#181818" stroke-width="0.2">10<tspan font-size="3.9" dy="-2.2">1</tspan></text>
<text x="165.3" y="190.54" font-size="6.1" text-anchor="end" fill="#181818" stroke="#181818" stroke-width="0.2">10<tspan font-size="3.9" dy="-2.2">2</tspan></text>
<text x="165.3" y="167.96" font-size="6.1" text-anchor="end" fill="#181818" stroke="#181818" stroke-width="0.2">10<tspan font-size="3.9" dy="-2.2">3</tspan></text>
<text x="165.3" y="145.38" font-size="6.1" text-anchor="end" fill="#181818" stroke="#181818" stroke-width="0.2">10<tspan font-size="3.9" dy="-2.2">4</tspan></text>
<text x="165.75" y="241" font-size="5.8" textLength="2.9" lengthAdjust="spacingAndGlyphs" fill="#181818" stroke="#181818" stroke-width="0.2">0</text>
<text x="185.51" y="241" font-size="5.8" textLength="8.5" lengthAdjust="spacingAndGlyphs" fill="#181818" stroke="#181818" stroke-width="0.2">200</text>
<text x="208.07" y="241" font-size="5.8" textLength="8.5" lengthAdjust="spacingAndGlyphs" fill="#181818" stroke="#181818" stroke-width="0.2">400</text>
<text x="230.63" y="241" font-size="5.8" textLength="8.5" lengthAdjust="spacingAndGlyphs" fill="#181818" stroke="#181818" stroke-width="0.2">600</text>
<text x="253.19" y="241" font-size="5.8" textLength="8.5" lengthAdjust="spacingAndGlyphs" fill="#181818" stroke="#181818" stroke-width="0.2">800</text>
<text x="274.4" y="241" font-size="5.8" textLength="11.2" lengthAdjust="spacingAndGlyphs" fill="#181818" stroke="#181818" stroke-width="0.2">1000</text>
<text x="206.3" y="139.6" font-size="8.0" textLength="49.7" lengthAdjust="spacingAndGlyphs" fill="#181818" stroke="#181818" stroke-width="0.2"><tspan font-style="italic">nop10</tspan> mutants</text>
<text x="207.9" y="248.8" font-size="8.1" textLength="44.2" lengthAdjust="spacingAndGlyphs" fill="#111" stroke="#111" stroke-width="0.24">DNA staining</text>
<text transform="translate(153.7 188.7) rotate(-90)" font-size="7" text-anchor="middle" textLength="53.9" lengthAdjust="spacingAndGlyphs" fill="#111" stroke="#111" stroke-width="0.24">Probe fluoresence</text>
<polygon points="34,80.2 47,81 48.8,87.5 45.5,105.2 31.5,105.9 27.9,96.5" fill="none" stroke="#2a2a2a" stroke-width="0.8"/>
<polygon points="53.7,102.5 57.2,90.4 72.3,77.6 74.5,76.8 79,78.8 82.2,84.5 82.2,94 77.4,103.3" fill="none" stroke="#2a2a2a" stroke-width="0.8"/>
<polygon points="172.9,82.3 186.1,83 189,89.5 188.3,104 185.3,107.4 170,107.6 167.8,99.8" fill="none" stroke="#2a2a2a" stroke-width="0.8"/>
<polygon points="194,107 195.4,96.7 200,91.4 213.4,82 216.8,82.7 220.8,88.7 222.1,98 221.4,106.8" fill="none" stroke="#2a2a2a" stroke-width="0.8"/>
<polygon points="33.4,181.4 46.8,182 50,188.5 45.6,205.3 31.7,204 29.8,193.5" fill="none" stroke="#2a2a2a" stroke-width="0.8"/>
<polygon points="50.1,210.3 51.8,200.2 58.5,191.9 66.9,186.2 71.9,185.2 78.6,191.2 80.4,198.5 74,211.8 60.2,213.4" fill="none" stroke="#2a2a2a" stroke-width="0.8"/>
<polygon points="172.4,181.8 185.8,182.8 188.2,190.2 186.6,208.4 171,209.2 169,196.9" fill="none" stroke="#2a2a2a" stroke-width="0.8"/>
<polygon points="188.6,208.4 191.1,196.9 198.5,186.8 205.2,182.6 210.2,183.4 214.6,193.5 212,208.2 201.8,211.6" fill="none" stroke="#2a2a2a" stroke-width="0.8"/>
<text x="33" y="67" font-size="5.9" textLength="9.6" lengthAdjust="spacingAndGlyphs" fill="#222" stroke="#222" stroke-width="0.1">wild</text>
<text x="33" y="73.2" font-size="5.9" textLength="10" lengthAdjust="spacingAndGlyphs" fill="#222" stroke="#222" stroke-width="0.1">type</text>
<text x="52.3" y="67.2" font-size="5.9" textLength="26.6" lengthAdjust="spacingAndGlyphs" fill="#222" stroke="#222" stroke-width="0.1">control cells</text>
<text x="171.9" y="69.5" font-size="5.8" textLength="13.3" lengthAdjust="spacingAndGlyphs" fill="#181818" stroke="#181818" stroke-width="0.2" font-style="italic">nop10</text>
<text x="174.8" y="75.3" font-size="5.8" textLength="8.7" lengthAdjust="spacingAndGlyphs" fill="#181818" stroke="#181818" stroke-width="0.2">mut</text>
<text x="196.2" y="71.8" font-size="5.8" textLength="26.5" lengthAdjust="spacingAndGlyphs" fill="#222" stroke="#222" stroke-width="0.1">control cells</text>
<text x="33.3" y="170.2" font-size="5.9" textLength="9" lengthAdjust="spacingAndGlyphs" fill="#222" stroke="#222" stroke-width="0.1">wild</text>
<text x="33.3" y="176.5" font-size="5.9" textLength="10" lengthAdjust="spacingAndGlyphs" fill="#222" stroke="#222" stroke-width="0.1">type</text>
<text x="55.1" y="176.9" font-size="5.9" textLength="27" lengthAdjust="spacingAndGlyphs" fill="#222" stroke="#222" stroke-width="0.1">control cells</text>
<text x="171.9" y="171.7" font-size="5.8" textLength="13.9" lengthAdjust="spacingAndGlyphs" fill="#181818" stroke="#181818" stroke-width="0.2" font-style="italic">nop10</text>
<text x="174.8" y="178" font-size="5.8" textLength="8.7" lengthAdjust="spacingAndGlyphs" fill="#181818" stroke="#181818" stroke-width="0.2">mut</text>
<text x="194.4" y="174.6" font-size="5.8" textLength="26.6" lengthAdjust="spacingAndGlyphs" fill="#222" stroke="#222" stroke-width="0.1">control cells</text>
<text x="289.1" y="59.6" font-size="8.3" textLength="33.3" lengthAdjust="spacingAndGlyphs" fill="#181818" stroke="#181818" stroke-width="0.2">-telomere</text>
<text x="289.1" y="69.0" font-size="8.3" textLength="19.6" lengthAdjust="spacingAndGlyphs" fill="#181818" stroke="#181818" stroke-width="0.2">probe</text>
<text x="289.1" y="180.4" font-size="8.3" textLength="34.9" lengthAdjust="spacingAndGlyphs" fill="#181818" stroke="#181818" stroke-width="0.2">+telomere</text>
<text x="289.1" y="190.1" font-size="8.3" textLength="19.6" lengthAdjust="spacingAndGlyphs" fill="#181818" stroke="#181818" stroke-width="0.2">probe</text>
<rect x="366.3" y="22.2" width="151.2" height="84.5" fill="#f2f2f2"/>
<path d="M364.8 94.63H517.5M364.8 82.56H517.5M364.8 70.49H517.5M364.8 58.41H517.5M364.8 46.34H517.5M364.8 34.27H517.5" stroke="#666" stroke-width="0.85"/>
<text x="364" y="108.9" font-size="6.2" text-anchor="end" fill="#181818" stroke="#181818" stroke-width="0.2">0</text>
<text x="364" y="96.83" font-size="6.2" text-anchor="end" fill="#181818" stroke="#181818" stroke-width="0.2">20</text>
<text x="364" y="84.76" font-size="6.2" text-anchor="end" fill="#181818" stroke="#181818" stroke-width="0.2">40</text>
<text x="364" y="72.69" font-size="6.2" text-anchor="end" fill="#181818" stroke="#181818" stroke-width="0.2">60</text>
<text x="364" y="60.61" font-size="6.2" text-anchor="end" fill="#181818" stroke="#181818" stroke-width="0.2">80</text>
<text x="364" y="48.54" font-size="6.2" text-anchor="end" fill="#181818" stroke="#181818" stroke-width="0.2">100</text>
<text x="364" y="36.47" font-size="6.2" text-anchor="end" fill="#181818" stroke="#181818" stroke-width="0.2">120</text>
<text x="364" y="24.4" font-size="6.2" text-anchor="end" fill="#181818" stroke="#181818" stroke-width="0.2">140</text>
<rect x="385.5" y="40.6" width="50.3" height="66.1" fill="#555"/>
<rect x="448.3" y="31.1" width="50.1" height="75.6" fill="#9a9a9a"/>
<rect x="448.3" y="31.1" width="1" height="75.6" fill="#b0b0b0"/>
<rect x="366.3" y="22.2" width="151.2" height="84.5" fill="none" stroke="#3a3a3a" stroke-width="0.9"/>
<path d="M410.8 38.3v4.5M409.3 38.3h3M473.5 30.6v1" stroke="#222" stroke-width="0.8" fill="none"/>
<path d="M411.3 19.3v-1.8h61v1.8M440.8 17.5v-1.3" stroke="#222" stroke-width="0.8" fill="none"/>
<text x="413" y="14.7" font-size="8.1" textLength="51.9" lengthAdjust="spacingAndGlyphs" fill="#181818" stroke="#181818" stroke-width="0.2"><tspan font-style="italic">p</tspan>-value = 0.005</text>
<text transform="translate(349.7 63.4) rotate(-90)" font-size="7.7" text-anchor="middle" textLength="95" lengthAdjust="spacingAndGlyphs" fill="#181818" stroke="#181818" stroke-width="0.2">% Relative Telomere Length</text>
<text x="390.8" y="115.7" font-size="8.2" textLength="32.3" lengthAdjust="spacingAndGlyphs" fill="#181818" stroke="#181818" stroke-width="0.2">Wild Type</text>
<text x="449.5" y="115.7" font-size="8.2" textLength="50.3" lengthAdjust="spacingAndGlyphs" fill="#181818" stroke="#181818" stroke-width="0.2"><tspan font-style="italic">nop10</tspan> mutants</text>
</svg></body></html>
